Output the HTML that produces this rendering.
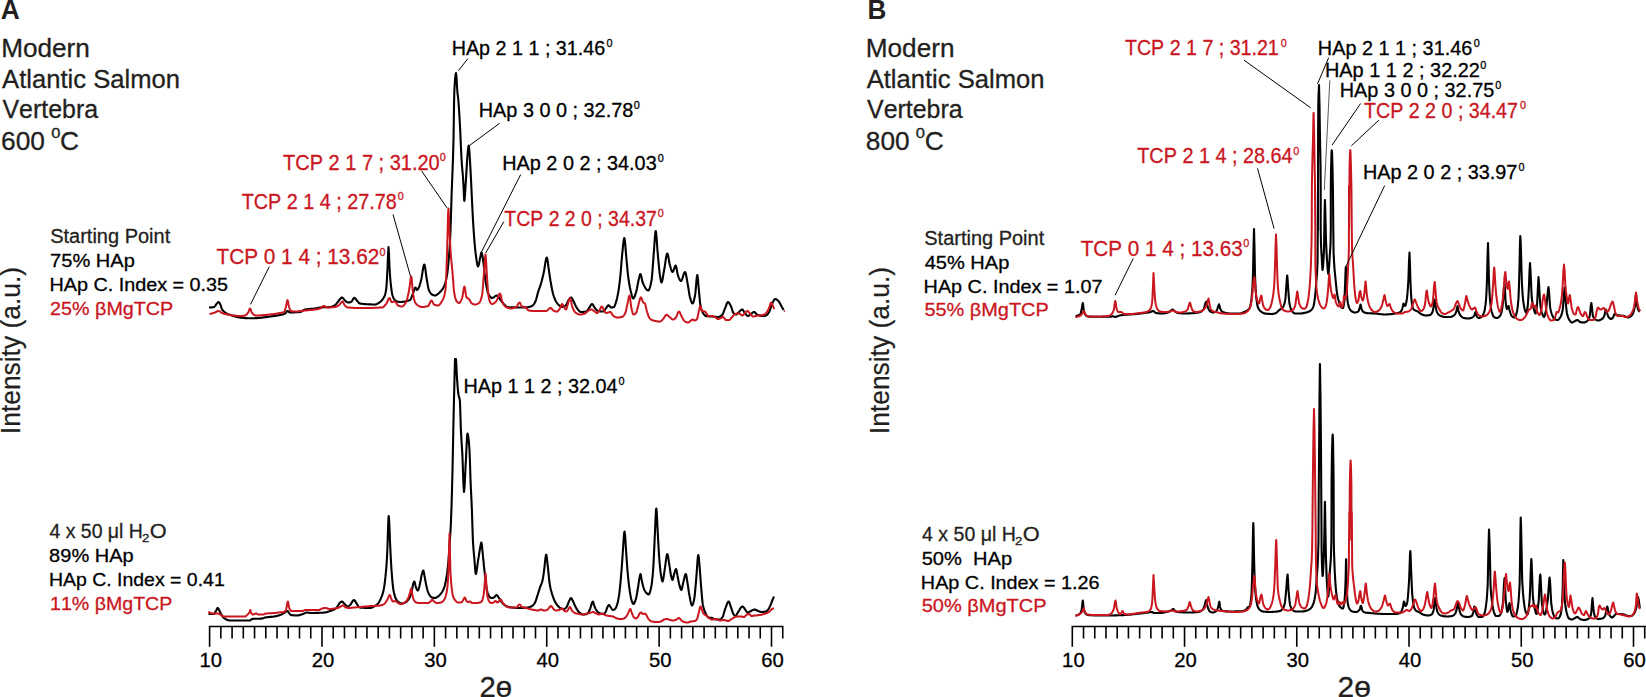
<!DOCTYPE html>
<html lang="en"><head><meta charset="utf-8"><title>XRD patterns - Modern Atlantic Salmon Vertebra</title>
<style>
html,body{margin:0;padding:0;background:#fff;overflow:hidden}
body{width:1646px;height:697px;position:relative}
svg text{font-family:'Liberation Sans', Arial, Helvetica, sans-serif;white-space:pre;font-kerning:none}
</style></head><body>
<svg width="1646" height="697" viewBox="0 0 1646 697" style="display:block;position:absolute;left:0;top:0">
<rect width="1646" height="697" fill="#fff"/>
<path d="M209.0,307.5 L209.5,307.5 L210.0,307.5 L210.5,307.5 L211.0,307.4 L211.5,307.4 L212.0,307.3 L212.5,307.3 L213.0,307.2 L213.5,307.1 L214.0,307.0 L214.5,306.7 L215.0,306.1 L215.5,305.4 L216.0,304.6 L216.5,304.0 L217.0,303.4 L217.5,302.7 L218.0,302.2 L218.5,302.0 L219.0,302.3 L219.5,302.9 L220.0,303.8 L220.3,304.5 L220.5,304.8 L221.0,306.4 L221.5,308.2 L221.8,309.0 L222.0,309.2 L222.5,310.0 L223.0,310.6 L223.5,311.2 L224.0,311.6 L224.5,312.1 L225.0,312.4 L225.5,312.8 L225.9,313.0 L226.0,313.1 L226.5,313.4 L227.0,313.6 L227.5,313.9 L228.0,314.1 L228.5,314.3 L229.0,314.5 L229.5,314.7 L230.0,314.9 L230.5,315.0 L231.0,315.2 L231.5,315.4 L231.9,315.5 L232.0,315.5 L232.5,315.7 L233.0,315.8 L233.5,316.0 L234.0,316.1 L234.5,316.3 L235.0,316.4 L235.5,316.6 L236.0,316.7 L236.5,316.8 L237.0,317.0 L237.5,317.1 L238.0,317.2 L238.5,317.3 L239.0,317.4 L239.5,317.4 L240.0,317.5 L240.0,317.5 L240.5,317.6 L241.0,317.6 L241.5,317.7 L242.0,317.7 L242.5,317.8 L243.0,317.9 L243.5,317.9 L244.0,318.0 L244.5,318.0 L245.0,318.1 L245.5,318.1 L246.0,318.1 L246.5,318.2 L247.0,318.2 L247.5,318.2 L248.0,318.3 L248.5,318.3 L249.0,318.3 L249.5,318.3 L250.0,318.3 L250.5,318.3 L251.0,318.3 L251.5,318.3 L252.0,318.3 L252.5,318.3 L253.0,318.2 L253.5,318.2 L254.0,318.2 L254.5,318.2 L255.0,318.2 L255.5,318.1 L256.0,318.1 L256.5,318.1 L257.0,318.1 L257.5,318.0 L258.0,318.0 L258.0,318.0 L258.5,318.0 L259.0,317.9 L259.5,317.9 L260.0,317.9 L260.5,317.8 L261.0,317.8 L261.5,317.7 L262.0,317.6 L262.5,317.6 L263.0,317.5 L263.5,317.4 L264.0,317.4 L264.5,317.3 L265.0,317.2 L265.5,317.2 L266.0,317.1 L266.5,317.0 L267.0,316.9 L267.5,316.9 L268.0,316.8 L268.5,316.7 L269.0,316.7 L269.5,316.6 L270.0,316.5 L270.1,316.5 L270.5,316.4 L271.0,316.4 L271.5,316.3 L272.0,316.3 L272.5,316.2 L273.0,316.1 L273.5,316.1 L274.0,316.0 L274.5,315.9 L275.0,315.9 L275.5,315.8 L276.0,315.7 L276.5,315.6 L277.0,315.6 L277.5,315.5 L278.0,315.4 L278.5,315.3 L279.0,315.2 L279.5,315.1 L280.0,315.0 L280.1,315.0 L280.5,314.9 L281.0,314.8 L281.5,314.7 L282.0,314.6 L282.5,314.5 L283.0,314.3 L283.5,314.2 L284.0,314.0 L284.5,313.8 L285.0,313.6 L285.1,313.5 L285.5,313.2 L286.0,312.6 L286.5,311.9 L287.0,311.2 L287.5,311.0 L288.0,311.2 L288.5,311.5 L289.0,312.0 L289.5,312.3 L290.0,312.5 L290.5,312.5 L291.0,312.5 L291.5,312.5 L292.0,312.5 L292.5,312.5 L293.0,312.5 L293.5,312.4 L294.0,312.4 L294.5,312.4 L295.0,312.4 L295.5,312.3 L296.0,312.3 L296.5,312.3 L297.0,312.3 L297.5,312.2 L298.0,312.2 L298.5,312.1 L299.0,312.1 L299.5,312.0 L300.0,312.0 L300.0,312.0 L300.5,311.9 L301.0,311.7 L301.5,311.5 L302.0,311.2 L302.5,310.8 L303.0,310.5 L303.5,310.2 L304.0,309.9 L304.5,309.7 L305.0,309.5 L305.1,309.5 L305.5,309.4 L306.0,309.4 L306.5,309.3 L307.0,309.2 L307.5,309.2 L308.0,309.1 L308.5,309.1 L309.0,309.0 L309.5,309.0 L310.0,309.0 L310.5,308.9 L311.0,308.9 L311.5,308.9 L312.0,308.8 L312.5,308.8 L313.0,308.7 L313.5,308.7 L314.0,308.6 L314.5,308.6 L315.0,308.5 L315.1,308.5 L315.5,308.4 L316.0,308.3 L316.5,308.2 L317.0,308.1 L317.5,308.0 L318.0,307.9 L318.5,307.8 L319.0,307.7 L319.5,307.6 L320.0,307.5 L320.1,307.5 L320.5,307.5 L321.0,307.4 L321.5,307.4 L322.0,307.4 L322.5,307.4 L323.0,307.3 L323.5,307.3 L324.0,307.3 L324.5,307.3 L325.0,307.3 L325.5,307.3 L326.0,307.2 L326.5,307.2 L327.0,307.2 L327.5,307.2 L328.0,307.2 L328.5,307.1 L329.0,307.1 L329.5,307.1 L330.0,307.0 L330.1,307.0 L330.5,307.0 L331.0,306.9 L331.5,306.7 L332.0,306.6 L332.5,306.4 L333.0,306.2 L333.5,305.9 L334.0,305.7 L334.5,305.4 L335.0,305.1 L335.1,305.0 L335.5,304.7 L336.0,304.2 L336.5,303.6 L337.0,303.0 L337.5,302.3 L338.0,301.7 L338.1,301.5 L338.5,301.1 L339.0,300.4 L339.5,299.7 L340.0,299.1 L340.5,298.5 L341.0,298.0 L341.5,297.6 L342.0,297.5 L342.5,297.7 L343.0,298.1 L343.5,298.7 L344.0,299.4 L344.5,300.0 L345.0,300.5 L345.5,300.9 L346.0,301.4 L346.5,301.8 L347.0,302.2 L347.5,302.4 L348.0,302.5 L348.5,302.5 L349.0,302.4 L349.5,302.4 L350.0,302.3 L350.5,302.1 L351.0,302.0 L351.5,301.6 L352.0,300.9 L352.5,300.1 L353.0,299.2 L353.5,298.4 L354.0,297.9 L354.3,297.8 L354.5,297.8 L355.0,298.2 L355.5,298.7 L356.0,299.4 L356.5,300.1 L356.9,300.5 L357.0,300.7 L357.5,301.2 L358.0,301.9 L358.5,302.5 L359.0,303.0 L359.5,303.3 L359.9,303.5 L360.0,303.5 L360.5,303.6 L361.0,303.7 L361.5,303.7 L362.0,303.8 L362.5,303.8 L363.0,303.9 L363.5,304.0 L364.0,304.0 L364.5,304.1 L365.0,304.1 L365.5,304.1 L366.0,304.2 L366.5,304.2 L367.0,304.3 L367.5,304.3 L368.0,304.3 L368.5,304.3 L369.0,304.4 L369.5,304.4 L370.0,304.4 L370.5,304.4 L371.0,304.4 L371.5,304.5 L372.0,304.5 L372.5,304.5 L373.0,304.5 L373.5,304.5 L374.0,304.5 L374.5,304.5 L375.0,304.5 L375.5,304.5 L376.0,304.4 L376.5,304.2 L377.0,304.0 L377.5,303.7 L378.0,303.4 L378.5,303.1 L379.0,302.7 L379.5,302.4 L380.0,302.0 L380.0,302.0 L380.5,301.6 L381.0,301.2 L381.5,300.7 L382.0,300.1 L382.5,299.5 L383.0,298.8 L383.5,298.0 L384.0,297.1 L384.1,297.0 L384.5,296.1 L385.0,294.8 L385.5,293.0 L386.0,290.6 L386.1,290.0 L386.5,286.2 L387.0,278.2 L387.4,270.0 L387.5,269.0 L388.0,255.4 L388.5,247.0 L389.0,254.4 L389.5,267.2 L389.7,270.0 L390.0,275.1 L390.5,281.5 L390.9,285.0 L391.0,286.1 L391.5,289.8 L392.0,293.0 L392.5,295.5 L393.0,297.0 L393.0,297.1 L393.5,298.1 L394.0,299.0 L394.5,299.7 L395.0,300.3 L395.5,300.7 L396.0,301.0 L396.0,301.0 L396.5,301.2 L397.0,301.4 L397.5,301.6 L398.0,301.7 L398.5,301.8 L399.0,301.9 L399.5,302.0 L400.0,302.0 L400.5,302.0 L401.0,302.0 L401.5,302.0 L402.0,301.9 L402.5,301.9 L403.0,301.8 L403.5,301.8 L404.0,301.7 L404.5,301.6 L405.0,301.5 L405.5,301.4 L406.0,301.3 L406.5,301.2 L407.0,301.1 L407.5,300.9 L408.0,300.8 L408.5,300.6 L409.0,300.4 L409.5,300.2 L410.0,300.0 L410.1,300.0 L410.5,299.6 L411.0,298.7 L411.5,297.5 L412.0,296.1 L412.5,294.7 L413.0,293.4 L413.1,293.0 L413.5,292.1 L414.0,290.6 L414.5,289.1 L415.0,287.9 L415.5,287.5 L416.0,288.1 L416.5,289.4 L417.0,290.0 L417.5,289.7 L418.0,289.1 L418.5,288.1 L419.0,287.1 L419.1,287.0 L419.5,285.9 L420.0,284.3 L420.5,282.5 L421.0,280.6 L421.1,280.0 L421.5,278.4 L422.0,275.4 L422.5,272.2 L423.0,269.0 L423.5,266.4 L424.0,264.8 L424.3,264.5 L424.5,264.7 L425.0,266.6 L425.5,270.0 L426.0,274.0 L426.5,277.8 L426.9,280.0 L427.0,280.8 L427.5,283.6 L428.0,286.4 L428.5,288.7 L428.9,290.0 L429.0,290.2 L429.5,291.3 L430.0,292.2 L430.5,293.0 L431.0,293.7 L431.5,294.2 L432.0,294.5 L432.0,294.5 L432.5,294.8 L433.0,295.0 L433.5,295.2 L434.0,295.4 L434.5,295.5 L435.0,295.5 L435.5,295.4 L436.0,295.3 L436.5,295.0 L437.0,294.7 L437.5,294.3 L438.0,293.9 L438.5,293.5 L439.0,293.0 L439.5,292.5 L440.0,292.0 L440.0,292.0 L440.5,291.5 L441.0,291.0 L441.5,290.4 L442.0,289.8 L442.5,289.1 L443.0,288.4 L443.5,287.5 L444.0,286.5 L444.0,286.5 L444.5,285.4 L445.0,283.9 L445.5,282.2 L446.0,280.2 L446.5,277.9 L447.0,275.2 L447.0,275.0 L447.5,271.8 L448.0,267.2 L448.5,261.8 L449.0,255.9 L449.1,255.0 L449.5,249.6 L450.0,241.7 L450.1,240.0 L450.5,230.1 L451.0,214.3 L451.5,198.0 L451.6,195.0 L452.0,184.1 L452.5,171.5 L453.0,157.7 L453.5,140.0 L454.0,106.7 L454.3,92.0 L454.5,88.1 L455.0,80.0 L455.5,74.8 L456.0,73.0 L456.5,77.3 L457.0,86.1 L457.4,92.0 L457.5,93.0 L458.0,97.2 L458.3,100.0 L458.5,102.3 L459.0,109.2 L459.5,117.2 L459.9,125.0 L460.0,126.0 L460.5,136.8 L461.0,148.7 L461.5,159.0 L461.6,160.0 L462.0,166.0 L462.5,171.6 L463.0,177.3 L463.3,182.0 L463.5,185.2 L464.0,197.6 L464.3,201.0 L464.5,200.4 L465.0,194.7 L465.5,186.8 L465.6,185.0 L466.0,179.1 L466.5,170.1 L467.0,161.9 L467.1,160.0 L467.5,155.6 L468.0,149.6 L468.5,145.9 L468.7,145.5 L469.0,146.6 L469.5,152.5 L470.0,161.1 L470.5,170.0 L471.0,179.5 L471.5,190.3 L472.0,200.8 L472.0,201.0 L472.5,210.8 L473.0,220.4 L473.5,228.0 L473.5,228.5 L474.0,235.4 L474.5,241.8 L475.0,247.5 L475.5,252.3 L476.0,256.0 L476.0,256.3 L476.5,259.8 L477.0,263.1 L477.5,265.6 L478.0,266.5 L478.5,265.7 L479.0,263.7 L479.5,261.1 L480.0,258.6 L480.1,258.0 L480.5,256.3 L481.0,253.7 L481.5,252.5 L482.0,253.6 L482.5,256.2 L483.0,259.6 L483.4,262.0 L483.5,263.1 L484.0,267.5 L484.5,272.6 L485.0,277.4 L485.4,280.0 L485.5,280.9 L486.0,283.9 L486.5,286.6 L487.0,289.1 L487.5,291.2 L488.0,292.9 L488.5,294.0 L488.5,294.1 L489.0,295.0 L489.5,295.8 L490.0,296.5 L490.5,297.1 L491.0,297.6 L491.5,297.9 L492.0,298.0 L492.5,297.9 L493.0,297.7 L493.5,297.5 L494.0,297.1 L494.5,296.8 L495.0,296.4 L495.5,296.0 L496.0,295.8 L496.5,295.6 L497.0,295.5 L497.5,295.7 L498.0,296.2 L498.5,296.9 L499.0,297.7 L499.5,298.5 L499.9,299.0 L500.0,299.2 L500.5,299.9 L501.0,300.6 L501.5,301.3 L502.0,302.0 L502.5,302.6 L502.9,303.0 L503.0,303.2 L503.5,303.7 L504.0,304.2 L504.5,304.8 L505.0,305.3 L505.5,305.8 L506.0,306.3 L506.5,306.6 L507.0,306.9 L507.5,307.1 L508.0,307.2 L508.0,307.2 L508.5,307.2 L509.0,307.2 L509.5,307.3 L510.0,307.3 L510.5,307.3 L511.0,307.3 L511.5,307.3 L512.0,307.3 L512.5,307.4 L513.0,307.4 L513.5,307.4 L514.0,307.4 L514.5,307.4 L515.0,307.4 L515.5,307.4 L516.0,307.4 L516.5,307.4 L517.0,307.4 L517.5,307.5 L518.0,307.5 L518.5,307.5 L519.0,307.5 L519.5,307.5 L520.0,307.5 L520.5,307.5 L521.0,307.5 L521.5,307.5 L522.0,307.5 L522.5,307.5 L523.0,307.5 L523.5,307.5 L524.0,307.5 L524.5,307.5 L525.0,307.5 L525.5,307.5 L526.0,307.5 L526.5,307.4 L527.0,307.4 L527.5,307.3 L528.0,307.2 L528.5,307.1 L529.0,307.0 L529.5,306.9 L530.0,306.7 L530.5,306.6 L531.0,306.4 L531.5,306.2 L532.0,306.0 L532.0,306.0 L532.5,305.7 L533.0,305.3 L533.5,304.7 L534.0,304.0 L534.5,303.2 L535.0,302.3 L535.2,301.8 L535.5,301.3 L536.0,299.8 L536.5,298.1 L537.0,296.2 L537.5,294.2 L538.0,292.4 L538.1,292.0 L538.5,290.9 L539.0,289.4 L539.5,288.0 L540.0,286.6 L540.5,285.1 L541.0,283.5 L541.1,283.0 L541.5,281.8 L542.0,279.9 L542.5,277.9 L543.0,275.8 L543.5,273.7 L543.6,273.0 L544.0,271.3 L544.5,268.2 L545.0,265.0 L545.5,261.9 L546.0,259.3 L546.5,257.8 L546.8,257.5 L547.0,257.7 L547.5,259.9 L548.0,263.5 L548.5,267.5 L548.9,270.0 L549.0,271.0 L549.5,274.3 L550.0,277.7 L550.5,281.0 L550.9,283.0 L551.0,283.8 L551.5,286.5 L552.0,289.2 L552.5,291.5 L553.0,293.6 L553.4,295.0 L553.5,295.3 L554.0,296.8 L554.5,298.1 L555.0,299.4 L555.5,300.5 L556.0,301.5 L556.5,302.3 L557.0,303.0 L557.0,303.0 L557.5,303.7 L558.0,304.3 L558.5,304.8 L559.0,305.3 L559.5,305.7 L560.0,306.0 L560.0,306.0 L560.5,306.3 L561.0,306.5 L561.5,306.7 L562.0,306.9 L562.5,307.0 L563.0,307.0 L563.5,306.9 L564.0,306.7 L564.5,306.4 L565.0,306.0 L565.5,305.6 L566.0,305.1 L566.1,305.0 L566.5,304.4 L567.0,303.5 L567.5,302.3 L568.0,301.2 L568.5,300.2 L568.6,300.0 L569.0,299.5 L569.5,298.8 L570.0,298.1 L570.5,297.7 L571.0,297.5 L571.5,297.7 L572.0,298.4 L572.5,299.3 L573.0,300.3 L573.5,301.3 L573.9,302.0 L574.0,302.3 L574.5,303.3 L575.0,304.4 L575.5,305.5 L576.0,306.5 L576.5,307.4 L576.9,308.0 L577.0,308.2 L577.5,308.8 L578.0,309.5 L578.5,310.2 L579.0,310.7 L579.5,311.3 L580.0,311.7 L580.5,311.9 L581.0,312.0 L581.5,312.0 L582.0,312.0 L582.5,312.0 L583.0,311.9 L583.5,311.9 L584.0,311.8 L584.5,311.8 L585.0,311.7 L585.5,311.6 L586.0,311.5 L586.0,311.5 L586.5,311.3 L587.0,310.9 L587.5,310.3 L588.0,309.6 L588.5,308.9 L589.0,308.2 L589.1,308.0 L589.5,307.5 L590.0,306.6 L590.5,305.7 L591.0,304.8 L591.5,304.2 L592.0,304.0 L592.5,304.2 L593.0,304.9 L593.5,305.7 L594.0,306.7 L594.5,307.5 L594.9,308.0 L595.0,308.2 L595.5,308.8 L596.0,309.4 L596.5,310.0 L597.0,310.5 L597.5,310.8 L598.0,311.0 L598.0,311.0 L598.5,311.1 L599.0,311.2 L599.5,311.3 L600.0,311.3 L600.5,311.4 L601.0,311.4 L601.5,311.5 L602.0,311.5 L602.5,311.5 L603.0,311.5 L603.5,311.3 L604.0,310.9 L604.5,310.3 L605.0,309.6 L605.5,308.8 L606.0,308.2 L606.1,308.0 L606.5,307.6 L607.0,306.8 L607.5,306.1 L608.0,305.5 L608.5,305.3 L609.0,305.5 L609.5,306.1 L610.0,306.7 L610.5,307.3 L611.0,307.5 L611.5,307.5 L612.0,307.4 L612.5,307.4 L613.0,307.3 L613.5,307.2 L614.0,307.0 L614.0,307.0 L614.5,306.4 L615.0,305.3 L615.5,303.7 L616.0,302.1 L616.0,302.0 L616.5,300.4 L617.0,298.4 L617.5,296.1 L618.0,293.5 L618.1,293.0 L618.5,290.6 L619.0,287.3 L619.5,283.5 L620.0,279.3 L620.1,278.0 L620.5,274.5 L621.0,268.5 L621.5,262.1 L622.0,256.4 L622.1,255.0 L622.5,251.4 L623.0,246.1 L623.5,241.5 L624.0,238.6 L624.3,238.0 L624.5,238.4 L625.0,241.9 L625.5,247.7 L626.0,254.1 L626.4,258.0 L626.5,259.5 L627.0,264.9 L627.5,270.3 L628.0,275.1 L628.4,278.0 L628.5,279.0 L629.0,282.3 L629.5,285.2 L630.0,287.9 L630.5,290.2 L631.0,292.0 L631.0,292.2 L631.5,294.1 L632.0,296.0 L632.5,297.6 L633.0,298.4 L633.2,298.5 L633.5,298.4 L634.0,297.8 L634.5,296.8 L635.0,295.4 L635.5,293.9 L636.0,292.3 L636.1,292.0 L636.5,290.6 L637.0,288.3 L637.5,285.6 L638.0,283.0 L638.5,280.6 L638.6,280.0 L639.0,278.5 L639.5,276.2 L640.0,274.5 L640.4,274.0 L640.5,274.0 L641.0,275.1 L641.5,277.2 L642.0,279.7 L642.5,282.0 L642.9,283.0 L643.0,283.3 L643.5,284.4 L644.0,285.4 L644.5,286.4 L645.0,287.3 L645.5,288.1 L646.0,288.8 L646.5,289.4 L647.0,289.9 L647.5,290.3 L648.0,290.5 L648.3,290.5 L648.5,290.4 L649.0,289.9 L649.5,288.8 L650.0,287.2 L650.5,285.2 L651.0,282.9 L651.5,280.4 L651.6,280.0 L652.0,276.7 L652.5,270.7 L653.0,263.7 L653.5,256.9 L653.6,255.0 L654.0,250.3 L654.5,242.6 L655.0,235.6 L655.5,231.4 L655.7,231.0 L656.0,231.9 L656.5,236.6 L657.0,243.5 L657.5,250.8 L657.9,255.0 L658.0,256.6 L658.5,261.9 L659.0,267.1 L659.5,271.8 L659.9,275.0 L660.0,275.4 L660.5,278.7 L661.0,281.4 L661.5,282.5 L662.0,281.7 L662.5,279.7 L663.0,276.8 L663.5,273.7 L664.0,270.8 L664.1,270.0 L664.5,268.1 L665.0,264.8 L665.5,261.3 L666.0,258.0 L666.5,255.4 L667.0,253.8 L667.3,253.5 L667.5,253.7 L668.0,255.2 L668.5,257.7 L669.0,260.8 L669.5,263.5 L669.9,265.0 L670.0,265.5 L670.5,267.3 L671.0,269.0 L671.5,270.5 L672.0,271.6 L672.5,272.0 L673.0,271.6 L673.5,270.5 L674.0,269.1 L674.5,267.6 L675.0,266.3 L675.5,265.6 L675.7,265.5 L676.0,265.9 L676.5,268.0 L677.0,270.9 L677.5,273.7 L677.9,275.0 L678.0,275.4 L678.5,276.8 L679.0,278.1 L679.5,279.2 L680.0,280.2 L680.5,280.8 L681.0,281.0 L681.5,280.6 L682.0,279.6 L682.5,278.2 L683.0,276.5 L683.5,274.8 L684.0,273.4 L684.5,272.4 L685.0,272.0 L685.5,272.7 L686.0,274.5 L686.5,277.1 L687.0,280.1 L687.5,283.1 L687.9,285.0 L688.0,285.8 L688.5,288.9 L689.0,292.2 L689.5,295.2 L689.9,297.0 L690.0,297.3 L690.5,299.1 L691.0,300.8 L691.5,302.2 L692.0,303.1 L692.5,303.5 L693.0,303.1 L693.5,301.9 L694.0,300.1 L694.5,298.0 L695.0,295.6 L695.1,295.0 L695.5,292.2 L696.0,286.4 L696.5,280.2 L697.0,275.9 L697.3,275.0 L697.5,275.5 L698.0,279.7 L698.5,286.0 L698.9,290.0 L699.0,291.5 L699.5,297.1 L700.0,302.3 L700.4,305.0 L700.5,305.6 L701.0,307.8 L701.5,309.6 L702.0,311.0 L702.5,312.2 L703.0,313.0 L703.0,313.1 L703.5,313.8 L704.0,314.5 L704.5,315.0 L705.0,315.5 L705.5,315.8 L706.0,316.0 L706.0,316.0 L706.5,316.1 L707.0,316.1 L707.5,316.2 L708.0,316.2 L708.5,316.3 L709.0,316.3 L709.5,316.3 L710.0,316.4 L710.5,316.4 L711.0,316.4 L711.5,316.5 L712.0,316.5 L712.0,316.5 L712.5,316.5 L713.0,316.6 L713.5,316.6 L714.0,316.7 L714.5,316.8 L715.0,316.8 L715.5,316.9 L716.0,316.9 L716.5,316.9 L717.0,317.0 L717.5,317.0 L718.0,317.0 L718.5,317.0 L719.0,316.9 L719.5,316.7 L720.0,316.4 L720.5,316.2 L721.0,315.8 L721.5,315.4 L722.0,315.0 L722.1,315.0 L722.5,314.5 L723.0,313.5 L723.5,312.3 L724.0,310.9 L724.5,309.6 L725.0,308.3 L725.1,308.0 L725.5,307.2 L726.0,305.8 L726.5,304.4 L727.0,303.2 L727.5,302.3 L728.0,302.0 L728.5,302.2 L729.0,302.7 L729.5,303.5 L730.0,304.4 L730.5,305.3 L730.9,306.0 L731.0,306.3 L731.5,307.7 L732.0,309.3 L732.5,310.9 L733.0,312.3 L733.4,313.0 L733.5,313.0 L734.0,313.5 L734.5,313.9 L735.0,314.2 L735.5,314.4 L736.0,314.5 L736.5,314.4 L737.0,314.0 L737.5,313.6 L738.0,313.0 L738.5,312.5 L739.0,312.0 L739.5,311.5 L740.0,311.0 L740.5,310.5 L741.0,310.1 L741.5,309.7 L742.0,309.5 L742.2,309.5 L742.5,309.6 L743.0,310.1 L743.5,310.8 L744.0,311.7 L744.5,312.5 L744.9,313.0 L745.0,313.2 L745.5,313.8 L746.0,314.4 L746.5,315.0 L747.0,315.5 L747.5,315.9 L748.0,316.0 L748.5,315.9 L749.0,315.6 L749.5,315.2 L750.0,314.8 L750.5,314.4 L751.0,314.0 L751.5,313.6 L752.0,313.2 L752.5,312.8 L753.0,312.4 L753.5,312.1 L754.0,312.0 L754.5,312.2 L755.0,312.5 L755.5,313.1 L756.0,313.6 L756.5,314.2 L757.0,314.5 L757.5,314.7 L758.0,314.9 L758.5,315.2 L759.0,315.4 L759.5,315.5 L760.0,315.7 L760.5,315.8 L761.0,315.9 L761.5,316.0 L762.0,316.0 L762.5,316.0 L763.0,316.0 L763.5,315.9 L764.0,315.9 L764.5,315.8 L765.0,315.7 L765.5,315.6 L766.0,315.5 L766.0,315.5 L766.5,315.3 L767.0,314.9 L767.5,314.4 L768.0,313.7 L768.5,313.0 L769.0,312.2 L769.1,312.0 L769.5,311.2 L770.0,309.8 L770.5,308.3 L771.0,306.7 L771.5,305.3 L771.6,305.0 L772.0,304.2 L772.5,303.1 L773.0,302.0 L773.5,300.9 L774.0,300.0 L774.5,299.4 L775.0,299.0 L775.2,299.0 L775.5,299.0 L776.0,299.2 L776.5,299.4 L777.0,299.8 L777.5,300.2 L778.0,300.7 L778.4,301.0 L778.5,301.1 L779.0,301.8 L779.5,302.6 L780.0,303.5 L780.5,304.4 L781.0,305.4 L781.4,306.0 L781.5,306.3 L782.0,307.2 L782.5,308.1 L783.0,309.0 L783.5,310.0" fill="none" stroke="#000" stroke-width="2.1" stroke-linejoin="round" stroke-linecap="butt"/>
<path d="M209.5,314.0 L210.0,313.9 L210.5,313.8 L211.0,313.7 L211.5,313.6 L212.0,313.4 L212.5,313.3 L213.0,313.1 L213.5,313.0 L214.0,312.8 L214.5,312.7 L215.0,312.5 L215.5,312.3 L216.0,312.0 L216.5,311.7 L217.0,311.5 L217.5,311.2 L218.0,311.1 L218.5,311.0 L219.0,311.1 L219.5,311.3 L220.0,311.7 L220.5,312.0 L221.0,312.4 L221.5,312.8 L222.0,313.0 L222.5,313.2 L223.0,313.4 L223.5,313.5 L224.0,313.7 L224.5,313.8 L225.0,314.0 L225.5,314.1 L226.0,314.2 L226.5,314.3 L227.0,314.5 L227.5,314.6 L228.0,314.7 L228.5,314.8 L229.0,314.8 L229.5,314.9 L230.0,315.0 L230.5,315.1 L231.0,315.1 L231.5,315.2 L232.0,315.3 L232.5,315.4 L233.0,315.4 L233.5,315.5 L234.0,315.6 L234.5,315.6 L235.0,315.7 L235.5,315.7 L236.0,315.8 L236.5,315.8 L237.0,315.9 L237.5,315.9 L238.0,315.9 L238.5,316.0 L239.0,316.0 L239.5,316.0 L240.0,316.0 L240.5,316.0 L241.0,316.0 L241.5,316.0 L242.0,315.9 L242.5,315.9 L243.0,315.8 L243.5,315.8 L244.0,315.7 L244.5,315.6 L245.0,315.5 L245.0,315.5 L245.5,315.3 L246.0,315.0 L246.5,314.6 L247.0,314.0 L247.5,313.4 L248.0,312.7 L248.2,312.5 L248.5,311.8 L249.0,310.4 L249.5,309.1 L250.0,308.5 L250.5,309.1 L251.0,310.4 L251.5,311.8 L251.8,312.5 L252.0,312.7 L252.5,313.4 L253.0,314.0 L253.5,314.5 L254.0,314.8 L254.0,314.8 L254.5,315.1 L255.0,315.3 L255.5,315.4 L256.0,315.5 L256.5,315.5 L257.0,315.5 L257.5,315.5 L258.0,315.5 L258.5,315.5 L259.0,315.4 L259.5,315.4 L260.0,315.4 L260.5,315.4 L261.0,315.3 L261.5,315.3 L262.0,315.3 L262.5,315.2 L263.0,315.2 L263.5,315.1 L264.0,315.1 L264.5,315.0 L265.0,315.0 L265.5,314.9 L266.0,314.9 L266.5,314.9 L267.0,314.8 L267.5,314.8 L268.0,314.7 L268.5,314.7 L269.0,314.6 L269.5,314.6 L270.0,314.5 L270.0,314.5 L270.5,314.5 L271.0,314.4 L271.5,314.3 L272.0,314.3 L272.5,314.2 L273.0,314.2 L273.5,314.1 L274.0,314.0 L274.5,314.0 L275.0,313.9 L275.5,313.8 L276.0,313.7 L276.5,313.6 L277.0,313.6 L277.5,313.5 L278.0,313.4 L278.5,313.3 L279.0,313.2 L279.5,313.1 L280.0,313.0 L280.1,313.0 L280.5,312.9 L281.0,312.8 L281.5,312.8 L282.0,312.7 L282.5,312.6 L283.0,312.4 L283.5,312.3 L284.0,312.0 L284.1,312.0 L284.5,311.5 L285.0,310.2 L285.5,308.4 L286.0,306.5 L286.1,306.0 L286.5,304.3 L287.0,301.4 L287.5,300.0 L288.0,301.5 L288.5,304.4 L288.9,306.0 L289.0,306.5 L289.5,308.1 L290.0,309.5 L290.5,310.5 L291.0,311.0 L291.0,311.0 L291.5,311.1 L292.0,311.2 L292.5,311.3 L293.0,311.4 L293.5,311.4 L294.0,311.5 L294.5,311.5 L295.0,311.5 L295.5,311.5 L296.0,311.5 L296.5,311.5 L297.0,311.4 L297.5,311.4 L298.0,311.3 L298.5,311.3 L299.0,311.2 L299.5,311.2 L300.0,311.1 L300.5,311.1 L301.0,311.0 L301.5,310.9 L302.0,310.9 L302.5,310.8 L303.0,310.7 L303.5,310.7 L304.0,310.6 L304.5,310.6 L305.0,310.5 L305.5,310.5 L306.0,310.4 L306.5,310.4 L307.0,310.3 L307.5,310.3 L308.0,310.2 L308.5,310.2 L309.0,310.1 L309.5,310.1 L310.0,310.0 L310.5,310.0 L311.0,310.0 L311.5,309.9 L312.0,309.9 L312.5,309.8 L313.0,309.7 L313.5,309.7 L314.0,309.6 L314.5,309.6 L315.0,309.5 L315.5,309.4 L316.0,309.4 L316.5,309.3 L317.0,309.2 L317.5,309.1 L318.0,309.0 L318.5,308.9 L319.0,308.8 L319.5,308.6 L320.0,308.5 L320.5,308.3 L321.0,307.9 L321.5,307.5 L322.0,307.1 L322.5,306.7 L323.0,306.3 L323.5,306.1 L324.0,306.0 L324.5,306.1 L325.0,306.4 L325.5,306.8 L326.0,307.1 L326.5,307.4 L327.0,307.5 L327.5,307.5 L328.0,307.5 L328.5,307.5 L329.0,307.5 L329.5,307.4 L330.0,307.4 L330.5,307.4 L331.0,307.4 L331.5,307.3 L332.0,307.3 L332.5,307.3 L333.0,307.2 L333.5,307.2 L334.0,307.1 L334.5,307.1 L335.0,307.0 L335.0,307.0 L335.5,306.9 L336.0,306.8 L336.5,306.6 L337.0,306.3 L337.5,306.1 L338.0,305.8 L338.5,305.4 L339.0,305.1 L339.1,305.0 L339.5,304.7 L340.0,304.1 L340.5,303.4 L341.0,302.7 L341.5,302.1 L342.0,301.7 L342.5,301.5 L343.0,301.9 L343.5,302.8 L344.0,304.0 L344.5,305.0 L344.9,305.5 L345.0,305.6 L345.5,306.1 L346.0,306.5 L346.5,306.9 L347.0,307.2 L347.5,307.4 L348.0,307.5 L348.0,307.5 L348.5,307.5 L349.0,307.6 L349.5,307.6 L350.0,307.7 L350.5,307.7 L351.0,307.7 L351.5,307.8 L352.0,307.8 L352.5,307.8 L353.0,307.8 L353.5,307.9 L354.0,307.9 L354.5,307.9 L355.0,307.9 L355.5,307.9 L356.0,308.0 L356.5,308.0 L357.0,308.0 L357.5,308.0 L358.0,308.0 L358.5,308.0 L359.0,308.0 L359.5,308.0 L360.0,308.0 L360.5,308.0 L361.0,308.0 L361.5,308.0 L362.0,308.0 L362.5,308.0 L363.0,308.0 L363.5,308.0 L364.0,308.0 L364.5,308.0 L365.0,308.0 L365.5,308.0 L366.0,308.0 L366.5,308.0 L367.0,308.0 L367.5,308.0 L368.0,308.0 L368.5,307.9 L369.0,307.9 L369.5,307.9 L370.0,307.9 L370.5,307.9 L371.0,307.9 L371.5,307.9 L372.0,307.9 L372.5,307.9 L373.0,307.9 L373.5,307.8 L374.0,307.8 L374.5,307.8 L375.0,307.8 L375.5,307.8 L376.0,307.8 L376.5,307.8 L377.0,307.7 L377.5,307.7 L378.0,307.7 L378.5,307.7 L379.0,307.7 L379.5,307.6 L380.0,307.6 L380.5,307.6 L381.0,307.6 L381.5,307.5 L382.0,307.5 L382.0,307.5 L382.5,307.4 L383.0,307.2 L383.5,306.8 L384.0,306.4 L384.5,305.9 L385.0,305.3 L385.5,304.8 L386.0,304.2 L386.1,304.0 L386.5,303.5 L387.0,302.5 L387.5,301.3 L388.0,300.1 L388.5,299.0 L389.0,298.3 L389.5,298.0 L390.0,298.6 L390.5,300.0 L391.0,301.4 L391.5,302.0 L392.0,302.0 L392.5,301.9 L393.0,301.8 L393.5,301.7 L394.0,301.6 L394.5,301.5 L395.0,301.5 L395.5,301.8 L396.0,302.4 L396.5,303.3 L397.0,304.3 L397.5,305.1 L398.0,305.5 L398.5,305.7 L399.0,305.9 L399.5,306.1 L400.0,306.2 L400.5,306.3 L401.0,306.4 L401.5,306.5 L402.0,306.5 L402.5,306.4 L403.0,306.1 L403.5,305.7 L404.0,305.2 L404.5,304.5 L405.0,303.8 L405.5,303.0 L406.0,302.1 L406.1,302.0 L406.5,301.0 L407.0,299.5 L407.5,297.6 L408.0,295.5 L408.5,293.2 L409.0,290.7 L409.1,290.0 L409.5,287.8 L410.0,283.8 L410.5,279.8 L411.0,277.0 L411.3,276.5 L411.5,277.1 L412.0,282.0 L412.5,288.6 L412.9,292.0 L413.0,293.0 L413.5,296.1 L414.0,298.8 L414.5,300.8 L414.9,302.0 L415.0,302.1 L415.5,303.0 L416.0,303.7 L416.5,304.3 L417.0,304.8 L417.5,305.2 L418.0,305.5 L418.0,305.5 L418.5,305.8 L419.0,306.1 L419.5,306.3 L420.0,306.5 L420.5,306.7 L421.0,306.9 L421.5,307.0 L422.0,307.0 L422.5,307.0 L423.0,307.0 L423.5,306.9 L424.0,306.9 L424.5,306.8 L425.0,306.8 L425.5,306.7 L426.0,306.6 L426.5,306.4 L427.0,306.3 L427.5,306.2 L428.0,306.0 L428.1,306.0 L428.5,305.7 L429.0,304.8 L429.5,303.8 L430.0,302.6 L430.5,301.6 L431.0,300.8 L431.5,300.5 L432.0,300.9 L432.5,301.8 L433.0,302.9 L433.5,303.9 L434.0,304.5 L434.5,304.7 L435.0,304.9 L435.5,305.1 L436.0,305.2 L436.5,305.3 L437.0,305.4 L437.5,305.5 L438.0,305.5 L438.5,305.4 L439.0,305.1 L439.5,304.7 L440.0,304.1 L440.5,303.4 L441.0,302.7 L441.5,301.9 L442.0,301.0 L442.0,301.0 L442.5,300.2 L443.0,299.2 L443.5,298.1 L444.0,296.7 L444.5,294.9 L445.0,292.6 L445.5,290.0 L445.5,289.8 L446.0,282.0 L446.5,268.7 L447.0,253.7 L447.1,250.0 L447.5,236.3 L448.0,215.8 L448.4,208.5 L448.5,208.9 L449.0,218.7 L449.5,232.5 L449.6,235.0 L450.0,241.9 L450.5,250.1 L450.9,255.0 L451.0,256.9 L451.5,262.3 L452.0,267.2 L452.5,272.0 L452.5,272.5 L453.0,278.9 L453.5,285.6 L454.0,291.1 L454.3,293.0 L454.5,294.3 L455.0,296.7 L455.5,298.6 L456.0,300.1 L456.5,301.0 L456.5,301.0 L457.0,301.6 L457.5,302.2 L458.0,302.6 L458.5,302.9 L459.0,303.0 L459.5,302.8 L460.0,302.3 L460.5,301.6 L461.0,300.6 L461.5,299.5 L462.0,298.3 L462.1,298.0 L462.5,296.6 L463.0,293.6 L463.5,290.3 L464.0,287.6 L464.5,286.5 L465.0,288.2 L465.5,292.0 L466.0,295.7 L466.4,297.0 L466.5,297.2 L467.0,297.7 L467.5,298.1 L468.0,298.4 L468.5,298.7 L468.9,299.0 L469.0,299.1 L469.5,299.8 L470.0,300.7 L470.5,301.6 L471.0,302.4 L471.5,303.1 L472.0,303.5 L472.0,303.5 L472.5,303.8 L473.0,304.0 L473.5,304.2 L474.0,304.4 L474.5,304.5 L475.0,304.5 L475.5,304.5 L476.0,304.4 L476.5,304.3 L477.0,304.1 L477.5,303.9 L478.0,303.6 L478.5,303.3 L479.0,303.0 L479.0,303.0 L479.5,302.5 L480.0,301.7 L480.5,300.6 L481.0,299.1 L481.5,297.4 L482.0,295.4 L482.1,295.0 L482.5,291.9 L483.0,286.0 L483.5,278.8 L484.0,271.8 L484.1,270.0 L484.5,265.2 L485.0,257.9 L485.5,254.5 L486.0,259.2 L486.5,268.9 L486.9,275.0 L487.0,277.1 L487.5,284.5 L488.0,291.1 L488.4,295.0 L488.5,295.5 L489.0,298.5 L489.5,300.7 L490.0,302.0 L490.0,302.0 L490.5,302.8 L491.0,303.4 L491.5,303.8 L492.0,304.0 L492.5,303.9 L493.0,303.8 L493.5,303.6 L494.0,303.3 L494.5,302.9 L495.0,302.5 L495.5,302.1 L496.0,301.6 L496.1,301.5 L496.5,301.0 L497.0,299.9 L497.5,298.6 L498.0,297.2 L498.5,295.8 L499.0,294.6 L499.5,293.8 L500.0,293.5 L500.5,294.3 L501.0,296.3 L501.5,298.8 L502.0,301.0 L502.4,302.0 L502.5,302.3 L503.0,303.3 L503.5,304.2 L504.0,305.0 L504.5,305.7 L505.0,306.3 L505.5,306.7 L506.0,307.0 L506.0,307.0 L506.5,307.3 L507.0,307.5 L507.5,307.7 L508.0,307.9 L508.5,308.1 L509.0,308.2 L509.5,308.3 L510.0,308.4 L510.5,308.5 L511.0,308.5 L511.5,308.5 L512.0,308.4 L512.5,308.3 L513.0,308.2 L513.5,308.1 L514.0,307.9 L514.5,307.7 L515.0,307.5 L515.5,307.3 L516.0,307.1 L516.1,307.0 L516.5,306.7 L517.0,306.0 L517.5,305.2 L518.0,304.3 L518.5,303.4 L519.0,302.8 L519.5,302.5 L519.6,302.5 L520.0,302.8 L520.5,303.8 L521.0,305.1 L521.5,306.2 L521.9,306.5 L522.0,306.5 L522.5,306.7 L523.0,306.7 L523.5,306.8 L524.0,306.8 L524.5,306.9 L524.9,307.0 L525.0,307.1 L525.5,307.3 L526.0,307.8 L526.5,308.3 L527.0,308.9 L527.5,309.5 L528.0,310.0 L528.5,310.3 L529.0,310.5 L529.0,310.5 L529.5,310.6 L530.0,310.7 L530.5,310.7 L531.0,310.8 L531.5,310.8 L532.0,310.9 L532.5,310.9 L533.0,310.9 L533.5,311.0 L534.0,311.0 L534.5,311.0 L535.0,311.0 L535.5,311.0 L536.0,311.0 L536.5,311.0 L537.0,311.0 L537.5,311.0 L538.0,311.0 L538.5,311.0 L539.0,311.0 L539.5,311.0 L540.0,311.0 L540.5,311.0 L541.0,311.0 L541.5,311.0 L542.0,311.0 L542.5,311.0 L543.0,311.0 L543.5,311.0 L544.0,311.0 L544.5,311.0 L545.0,311.0 L545.5,311.0 L546.0,311.0 L546.5,310.9 L547.0,310.6 L547.5,310.2 L548.0,309.7 L548.5,309.3 L549.0,308.8 L549.5,308.4 L550.0,308.1 L550.5,308.0 L551.0,308.1 L551.5,308.5 L552.0,309.1 L552.5,309.7 L553.0,310.3 L553.5,310.7 L554.0,311.0 L554.5,311.1 L555.0,311.3 L555.5,311.4 L556.0,311.4 L556.5,311.5 L557.0,311.5 L557.5,311.4 L558.0,311.0 L558.5,310.4 L559.0,309.8 L559.5,309.0 L560.0,308.2 L560.1,308.0 L560.5,307.3 L561.0,305.9 L561.5,304.6 L562.0,304.0 L562.5,304.3 L563.0,305.1 L563.5,306.2 L564.0,307.2 L564.5,308.0 L565.0,308.7 L565.5,309.2 L566.0,309.5 L566.5,308.9 L567.0,307.3 L567.5,305.3 L568.0,303.5 L568.1,303.0 L568.5,301.9 L569.0,300.1 L569.5,298.6 L570.0,298.0 L570.5,298.8 L571.0,300.9 L571.5,303.4 L572.0,305.8 L572.4,307.0 L572.5,307.4 L573.0,308.6 L573.5,309.8 L574.0,310.7 L574.5,311.5 L574.9,312.0 L575.0,312.1 L575.5,312.5 L576.0,312.8 L576.5,313.2 L577.0,313.5 L577.5,313.8 L578.0,314.0 L578.5,314.2 L579.0,314.4 L579.5,314.5 L580.0,314.5 L580.5,314.5 L581.0,314.5 L581.5,314.4 L582.0,314.3 L582.5,314.2 L583.0,314.1 L583.5,314.0 L584.0,313.8 L584.5,313.7 L585.0,313.5 L585.5,313.2 L586.0,312.8 L586.5,312.4 L587.0,311.9 L587.5,311.4 L588.0,311.0 L588.5,310.7 L589.0,310.3 L589.5,310.0 L590.0,309.8 L590.5,309.6 L591.0,309.5 L591.5,309.6 L592.0,309.8 L592.5,310.0 L593.0,310.4 L593.5,310.7 L594.0,311.0 L594.5,311.3 L595.0,311.8 L595.5,312.2 L596.0,312.6 L596.5,312.9 L597.0,313.0 L597.5,312.8 L598.0,312.4 L598.5,311.7 L599.0,310.9 L599.5,310.1 L600.0,309.2 L600.1,309.0 L600.5,308.3 L601.0,307.2 L601.5,306.5 L601.6,306.5 L602.0,306.7 L602.5,307.4 L603.0,308.4 L603.5,309.4 L603.9,310.0 L604.0,310.2 L604.5,311.1 L605.0,312.0 L605.5,312.7 L606.0,313.0 L606.5,313.0 L607.0,312.9 L607.5,312.7 L608.0,312.6 L608.5,312.4 L609.0,312.3 L609.5,312.1 L610.0,312.0 L610.5,312.0 L611.0,312.3 L611.5,313.0 L612.0,314.0 L612.5,314.9 L613.0,315.5 L613.5,315.9 L614.0,316.2 L614.5,316.6 L615.0,316.9 L615.5,317.1 L616.0,317.3 L616.5,317.5 L617.0,317.5 L617.5,317.5 L618.0,317.5 L618.5,317.5 L619.0,317.4 L619.5,317.4 L620.0,317.3 L620.5,317.3 L621.0,317.2 L621.5,317.1 L622.0,317.0 L622.0,317.0 L622.5,316.8 L623.0,316.4 L623.5,315.9 L624.0,315.3 L624.5,314.5 L625.0,313.6 L625.1,313.5 L625.5,312.4 L626.0,310.6 L626.5,308.3 L627.0,305.9 L627.5,303.6 L627.6,303.0 L628.0,301.4 L628.5,298.7 L629.0,296.4 L629.5,295.5 L630.0,297.3 L630.5,301.4 L631.0,305.8 L631.4,308.0 L631.5,308.6 L632.0,310.7 L632.5,312.6 L633.0,314.0 L633.5,314.5 L634.0,314.4 L634.5,314.2 L635.0,313.9 L635.5,313.5 L636.0,313.0 L636.0,313.0 L636.5,312.2 L637.0,310.6 L637.5,308.6 L638.0,306.5 L638.5,304.5 L638.6,304.0 L639.0,302.7 L639.5,300.7 L640.0,298.8 L640.5,297.5 L640.8,297.3 L641.0,297.4 L641.5,298.1 L642.0,299.4 L642.5,300.8 L643.0,302.0 L643.4,302.5 L643.5,302.6 L644.0,302.9 L644.5,303.2 L644.9,303.5 L645.0,303.7 L645.5,305.2 L646.0,307.4 L646.5,309.7 L646.9,311.0 L647.0,311.5 L647.5,313.1 L648.0,314.7 L648.5,316.2 L649.0,317.3 L649.4,318.0 L649.5,318.1 L650.0,318.6 L650.5,319.1 L651.0,319.5 L651.5,319.8 L652.0,320.1 L652.5,320.3 L653.0,320.5 L653.0,320.5 L653.5,320.6 L654.0,320.7 L654.5,320.9 L655.0,321.0 L655.5,321.1 L656.0,321.1 L656.5,321.2 L657.0,321.3 L657.5,321.4 L658.0,321.4 L658.5,321.4 L659.0,321.5 L659.5,321.5 L660.0,321.5 L660.5,321.4 L661.0,321.1 L661.5,320.7 L662.0,320.2 L662.5,319.7 L663.0,319.1 L663.1,319.0 L663.5,318.6 L664.0,317.9 L664.5,317.0 L665.0,316.2 L665.5,315.5 L666.0,315.0 L666.5,314.8 L667.0,314.9 L667.5,315.2 L668.0,315.6 L668.5,316.1 L669.0,316.5 L669.5,316.9 L670.0,317.4 L670.5,317.9 L671.0,318.4 L671.5,318.8 L672.0,319.2 L672.5,319.4 L673.0,319.5 L673.5,319.4 L674.0,319.2 L674.5,318.9 L675.0,318.5 L675.5,318.1 L675.6,318.0 L676.0,317.4 L676.5,316.4 L677.0,315.1 L677.5,313.8 L678.0,312.7 L678.5,311.8 L679.0,311.5 L679.5,311.8 L680.0,312.7 L680.5,313.8 L681.0,315.1 L681.5,316.3 L681.9,317.0 L682.0,317.3 L682.5,318.1 L683.0,319.0 L683.5,319.8 L684.0,320.6 L684.5,321.2 L685.0,321.5 L685.0,321.5 L685.5,321.8 L686.0,322.0 L686.5,322.2 L687.0,322.4 L687.5,322.5 L688.0,322.5 L688.5,322.4 L689.0,322.1 L689.5,321.8 L690.0,321.3 L690.5,320.9 L691.0,320.5 L691.5,320.1 L692.0,319.7 L692.5,319.5 L693.0,319.7 L693.5,320.0 L694.0,320.3 L694.5,320.5 L695.0,320.4 L695.5,320.2 L696.0,320.0 L696.5,319.5 L697.0,319.0 L697.0,319.0 L697.5,317.7 L698.0,315.3 L698.5,312.6 L698.6,312.0 L699.0,310.4 L699.5,308.1 L700.0,306.3 L700.3,306.0 L700.5,306.2 L701.0,308.1 L701.5,310.3 L701.9,311.0 L702.0,311.0 L702.5,311.2 L703.0,311.2 L703.5,311.3 L704.0,311.3 L704.5,311.4 L704.9,311.5 L705.0,311.6 L705.5,312.0 L706.0,312.7 L706.5,313.5 L706.9,314.0 L707.0,314.1 L707.5,314.9 L708.0,315.6 L708.5,316.3 L709.0,316.5 L709.5,316.5 L710.0,316.4 L710.5,316.2 L711.0,316.1 L711.5,316.0 L712.0,316.0 L712.5,316.0 L713.0,316.2 L713.5,316.3 L714.0,316.5 L714.5,316.8 L715.0,317.0 L715.5,317.3 L716.0,317.7 L716.5,318.2 L717.0,318.6 L717.5,318.9 L718.0,319.0 L718.5,319.0 L719.0,318.8 L719.5,318.7 L720.0,318.4 L720.5,318.2 L721.0,318.0 L721.5,317.7 L722.0,317.4 L722.5,317.1 L723.0,317.0 L723.5,317.2 L724.0,317.8 L724.5,318.5 L725.0,319.2 L725.5,319.8 L726.0,320.0 L726.5,320.0 L727.0,320.0 L727.5,320.0 L728.0,320.0 L728.5,320.0 L729.0,320.0 L729.5,319.9 L730.0,319.5 L730.5,319.0 L731.0,318.4 L731.5,317.7 L732.0,317.2 L732.1,317.0 L732.5,316.6 L733.0,316.0 L733.5,315.4 L734.0,314.8 L734.5,314.3 L735.0,314.0 L735.1,314.0 L735.5,313.9 L736.0,313.8 L736.5,313.7 L737.0,313.6 L737.5,313.6 L738.0,313.5 L738.5,313.5 L739.0,313.5 L739.5,313.6 L740.0,313.9 L740.5,314.3 L741.0,314.7 L741.5,315.1 L742.0,315.4 L742.5,315.5 L743.0,315.3 L743.5,314.8 L744.0,314.2 L744.5,313.5 L745.0,313.0 L745.5,312.5 L746.0,312.0 L746.5,311.5 L747.0,311.1 L747.5,311.0 L748.0,311.2 L748.5,311.6 L749.0,312.3 L749.5,312.9 L750.0,313.5 L750.5,314.1 L751.0,314.7 L751.5,315.4 L752.0,315.9 L752.5,316.3 L753.0,316.5 L753.5,316.5 L754.0,316.4 L754.5,316.3 L755.0,316.2 L755.5,316.1 L756.0,316.0 L756.5,315.8 L757.0,315.7 L757.5,315.6 L758.0,315.5 L758.0,315.5 L758.5,315.4 L759.0,315.4 L759.5,315.4 L760.0,315.3 L760.5,315.3 L761.0,315.2 L761.5,315.2 L762.0,315.2 L762.5,315.1 L763.0,315.0 L763.0,315.0 L763.5,314.9 L764.0,314.6 L764.5,314.3 L765.0,314.0 L765.5,313.6 L766.0,313.1 L766.1,313.0 L766.5,312.6 L767.0,311.9 L767.5,311.1 L768.0,310.2 L768.5,309.3 L768.6,309.0 L769.0,308.2 L769.5,306.7 L770.0,305.0 L770.5,303.6 L771.0,302.7 L771.3,302.5 L771.5,302.6 L772.0,303.6 L772.5,305.1 L772.9,306.0 L773.0,306.3 L773.5,307.3 L774.0,308.2 L774.5,309.0" fill="none" stroke="#ca161e" stroke-width="2.0" stroke-linejoin="round" stroke-linecap="butt"/>
<path d="M208.5,614.0 L209.0,614.0 L209.5,614.0 L210.0,614.0 L210.5,614.0 L211.0,614.0 L211.5,614.0 L212.0,614.0 L212.5,614.0 L213.0,614.0 L213.5,614.0 L214.0,614.0 L214.5,613.7 L215.0,612.8 L215.5,611.8 L216.0,610.8 L216.2,610.5 L216.5,609.9 L217.0,608.9 L217.5,608.1 L217.8,608.0 L218.0,608.1 L218.5,608.8 L219.0,609.8 L219.3,610.5 L219.5,610.8 L220.0,611.8 L220.5,612.8 L220.8,613.5 L221.0,613.8 L221.5,614.6 L222.0,615.5 L222.5,616.3 L223.0,617.1 L223.5,617.6 L223.9,618.0 L224.0,618.1 L224.5,618.4 L225.0,618.7 L225.5,619.0 L226.0,619.3 L226.5,619.6 L227.0,619.8 L227.5,620.0 L228.0,620.2 L228.5,620.3 L229.0,620.4 L229.5,620.5 L230.0,620.5 L230.5,620.5 L231.0,620.5 L231.5,620.5 L232.0,620.5 L232.5,620.5 L233.0,620.5 L233.5,620.5 L234.0,620.5 L234.5,620.5 L235.0,620.5 L235.5,620.5 L236.0,620.5 L236.5,620.5 L237.0,620.5 L237.5,620.5 L238.0,620.5 L238.5,620.5 L239.0,620.5 L239.5,620.5 L240.0,620.5 L240.5,620.5 L241.0,620.5 L241.5,620.5 L242.0,620.5 L242.5,620.5 L243.0,620.5 L243.5,620.5 L244.0,620.5 L244.5,620.5 L245.0,620.5 L245.5,620.5 L246.0,620.5 L246.5,620.5 L247.0,620.5 L247.5,620.5 L248.0,620.5 L248.5,620.5 L249.0,620.5 L249.5,620.5 L250.0,620.5 L250.5,620.3 L251.0,619.8 L251.5,619.3 L252.0,619.0 L252.1,619.0 L252.5,619.0 L253.0,618.9 L253.5,618.9 L254.0,618.8 L254.5,618.8 L255.0,618.8 L255.5,618.8 L256.0,618.8 L256.5,618.7 L257.0,618.7 L257.5,618.7 L258.0,618.7 L258.5,618.7 L259.0,618.7 L259.5,618.7 L260.0,618.6 L260.5,618.6 L261.0,618.6 L261.5,618.6 L262.0,618.5 L262.1,618.5 L262.5,618.4 L263.0,618.3 L263.5,618.1 L264.0,617.9 L264.5,617.7 L265.0,617.5 L265.1,617.5 L265.5,617.4 L266.0,617.4 L266.5,617.3 L267.0,617.2 L267.5,617.2 L268.0,617.1 L268.5,617.1 L269.0,617.0 L269.5,617.0 L270.0,616.9 L270.5,616.9 L271.0,616.9 L271.5,616.8 L272.0,616.8 L272.5,616.7 L273.0,616.7 L273.5,616.6 L274.0,616.5 L274.1,616.5 L274.5,616.4 L275.0,616.4 L275.5,616.3 L276.0,616.2 L276.5,616.0 L277.0,615.9 L277.5,615.8 L278.0,615.7 L278.5,615.5 L279.0,615.4 L279.5,615.2 L280.0,615.1 L280.1,615.0 L280.5,614.9 L281.0,614.7 L281.5,614.4 L282.0,614.2 L282.5,613.9 L283.0,613.6 L283.5,613.4 L284.0,613.1 L284.1,613.0 L284.5,612.8 L285.0,612.4 L285.5,612.0 L286.0,611.6 L286.5,611.3 L287.0,611.1 L287.5,611.0 L288.0,611.4 L288.5,612.2 L289.0,613.0 L289.5,613.6 L290.0,614.2 L290.5,614.7 L291.0,615.0 L291.5,615.1 L292.0,615.2 L292.5,615.2 L293.0,615.3 L293.5,615.3 L294.0,615.4 L294.5,615.4 L295.0,615.4 L295.5,615.5 L296.0,615.5 L296.5,615.5 L297.0,615.5 L297.5,615.5 L298.0,615.4 L298.5,615.4 L299.0,615.2 L299.5,615.1 L300.0,615.0 L300.5,614.8 L301.0,614.7 L301.5,614.5 L302.0,614.3 L302.5,614.2 L303.0,614.0 L303.5,613.8 L304.0,613.6 L304.5,613.3 L305.0,613.1 L305.5,612.9 L306.0,612.7 L306.5,612.5 L307.0,612.5 L307.5,612.5 L308.0,612.6 L308.5,612.7 L309.0,612.8 L309.5,612.8 L310.0,612.9 L310.5,613.0 L311.0,613.0 L311.5,613.0 L312.0,613.0 L312.5,613.0 L313.0,613.0 L313.5,613.0 L314.0,613.0 L314.5,613.0 L315.0,613.0 L315.5,612.9 L316.0,612.9 L316.5,612.9 L317.0,612.9 L317.5,612.9 L318.0,612.9 L318.5,612.9 L319.0,612.8 L319.5,612.8 L320.0,612.8 L320.5,612.8 L321.0,612.7 L321.5,612.7 L322.0,612.7 L322.5,612.7 L323.0,612.6 L323.5,612.6 L324.0,612.6 L324.5,612.5 L325.0,612.5 L325.0,612.5 L325.5,612.4 L326.0,612.4 L326.5,612.2 L327.0,612.1 L327.5,611.9 L328.0,611.8 L328.5,611.6 L329.0,611.4 L329.5,611.2 L330.0,611.0 L330.1,611.0 L330.5,610.9 L331.0,610.7 L331.5,610.5 L332.0,610.4 L332.5,610.2 L333.0,610.0 L333.5,609.8 L334.0,609.6 L334.1,609.5 L334.5,609.3 L335.0,609.0 L335.5,608.6 L336.0,608.2 L336.5,607.7 L337.0,607.2 L337.1,607.0 L337.5,606.5 L338.0,605.7 L338.5,604.8 L339.0,603.9 L339.5,603.2 L339.6,603.0 L340.0,602.7 L340.5,602.2 L341.0,601.9 L341.5,601.6 L342.0,601.5 L342.5,601.7 L343.0,602.2 L343.5,602.8 L344.0,603.4 L344.5,604.0 L345.0,604.5 L345.5,605.1 L346.0,605.6 L346.5,606.1 L347.0,606.4 L347.5,606.5 L348.0,606.4 L348.5,606.2 L349.0,605.9 L349.5,605.5 L350.0,605.1 L350.5,604.6 L350.6,604.5 L351.0,604.0 L351.5,603.1 L352.0,602.0 L352.5,601.2 L352.6,601.0 L353.0,600.6 L353.5,600.2 L354.0,600.0 L354.5,600.3 L355.0,601.0 L355.4,601.5 L355.5,601.7 L356.0,602.6 L356.5,603.5 L356.9,604.0 L357.0,604.2 L357.5,604.9 L358.0,605.7 L358.5,606.4 L359.0,606.9 L359.5,607.3 L360.0,607.5 L360.0,607.5 L360.5,607.6 L361.0,607.6 L361.5,607.7 L362.0,607.7 L362.5,607.7 L363.0,607.8 L363.5,607.8 L364.0,607.8 L364.5,607.9 L365.0,607.9 L365.5,607.9 L366.0,607.9 L366.5,608.0 L367.0,608.0 L367.5,608.0 L368.0,608.0 L368.5,608.0 L369.0,608.0 L369.5,608.0 L370.0,608.0 L370.5,608.0 L371.0,607.9 L371.5,607.7 L372.0,607.5 L372.5,607.3 L373.0,607.0 L373.5,606.8 L374.0,606.5 L374.0,606.5 L374.5,606.2 L375.0,606.0 L375.5,605.6 L376.0,605.3 L376.5,604.9 L377.0,604.5 L377.5,604.0 L378.0,603.5 L378.0,603.5 L378.5,602.9 L379.0,602.2 L379.5,601.3 L380.0,600.3 L380.5,599.2 L381.0,598.1 L381.0,598.0 L381.5,596.9 L382.0,595.6 L382.5,594.1 L383.0,592.4 L383.5,590.4 L383.6,590.0 L384.0,587.9 L384.5,584.7 L385.0,580.8 L385.5,576.4 L385.6,575.0 L386.0,571.3 L386.5,565.0 L387.0,557.4 L387.1,555.0 L387.5,546.0 L388.0,529.5 L388.5,517.4 L388.7,516.0 L389.0,518.1 L389.5,528.4 L390.0,541.8 L390.4,550.0 L390.5,552.5 L391.0,561.7 L391.5,570.0 L391.9,575.0 L392.0,576.7 L392.5,582.3 L393.0,587.0 L393.4,590.0 L393.5,590.4 L394.0,592.8 L394.5,594.9 L395.0,596.6 L395.5,598.0 L396.0,599.0 L396.0,599.0 L396.5,599.9 L397.0,600.6 L397.5,601.2 L398.0,601.8 L398.5,602.2 L399.0,602.5 L399.0,602.5 L399.5,602.8 L400.0,603.0 L400.5,603.2 L401.0,603.4 L401.5,603.5 L402.0,603.5 L402.5,603.5 L403.0,603.4 L403.5,603.2 L404.0,603.0 L404.5,602.8 L405.0,602.6 L405.5,602.3 L406.0,602.0 L406.0,602.0 L406.5,601.7 L407.0,601.2 L407.5,600.7 L408.0,600.1 L408.5,599.4 L409.0,598.7 L409.1,598.5 L409.5,597.8 L410.0,596.8 L410.5,595.5 L411.0,594.1 L411.5,592.5 L411.6,592.0 L412.0,590.4 L412.5,587.3 L413.0,584.5 L413.1,584.0 L413.5,582.9 L414.0,581.7 L414.3,581.5 L414.5,581.7 L415.0,583.4 L415.5,585.8 L415.9,587.0 L416.0,587.4 L416.5,588.6 L417.0,589.7 L417.5,590.4 L417.8,590.5 L418.0,590.4 L418.5,589.5 L419.0,587.9 L419.5,585.8 L420.0,583.6 L420.1,583.0 L420.5,581.3 L421.0,578.3 L421.5,575.6 L421.6,575.0 L422.0,573.7 L422.5,571.9 L423.0,570.7 L423.3,570.5 L423.5,570.7 L424.0,572.9 L424.5,576.0 L424.9,578.0 L425.0,578.8 L425.5,581.4 L426.0,584.1 L426.5,586.6 L426.9,588.0 L427.0,588.5 L427.5,590.3 L428.0,591.8 L428.5,593.1 L428.9,594.0 L429.0,594.1 L429.5,594.9 L430.0,595.7 L430.5,596.3 L431.0,596.9 L431.5,597.3 L432.0,597.5 L432.0,597.5 L432.5,597.6 L433.0,597.8 L433.5,597.9 L434.0,597.9 L434.5,598.0 L435.0,598.0 L435.5,597.9 L436.0,597.8 L436.5,597.5 L437.0,597.2 L437.5,596.8 L438.0,596.5 L438.0,596.5 L438.5,596.1 L439.0,595.7 L439.5,595.2 L440.0,594.7 L440.5,594.1 L441.0,593.5 L441.0,593.5 L441.5,592.8 L442.0,592.1 L442.5,591.3 L443.0,590.3 L443.5,589.2 L444.0,588.0 L444.0,588.0 L444.5,586.6 L445.0,584.8 L445.5,582.6 L446.0,580.2 L446.0,580.0 L446.5,577.3 L447.0,574.0 L447.5,570.0 L448.0,565.6 L448.1,565.0 L448.5,560.2 L449.0,553.6 L449.5,546.3 L449.6,545.0 L450.0,538.9 L450.5,530.8 L451.0,521.0 L451.0,520.0 L451.5,507.4 L452.0,489.9 L452.5,470.0 L453.0,445.5 L453.5,420.0 L454.0,398.9 L454.5,379.0 L454.6,375.0 L455.0,359.0 L455.5,359.0 L456.0,359.0 L456.5,368.1 L456.8,375.0 L457.0,378.0 L457.5,385.1 L458.0,391.0 L458.5,395.0 L459.0,396.9 L459.5,398.4 L459.8,400.0 L460.0,402.9 L460.5,418.3 L460.9,430.0 L461.0,432.1 L461.5,440.7 L462.0,448.4 L462.4,455.0 L462.5,457.6 L463.0,471.7 L463.5,485.7 L464.0,492.0 L464.5,487.8 L465.0,478.3 L465.5,467.7 L465.6,465.0 L466.0,458.2 L466.5,447.0 L467.0,437.5 L467.5,433.5 L468.0,434.8 L468.5,438.3 L469.0,443.5 L469.5,450.0 L470.0,463.6 L470.5,480.0 L471.0,491.0 L471.5,500.9 L471.9,510.0 L472.0,512.7 L472.5,529.2 L472.9,540.0 L473.0,541.9 L473.5,549.2 L474.0,555.0 L474.5,560.0 L474.5,560.5 L475.0,567.2 L475.5,572.8 L475.8,574.0 L476.0,573.8 L476.5,571.9 L477.0,568.6 L477.5,564.7 L478.0,560.9 L478.1,560.0 L478.5,557.9 L479.0,554.8 L479.5,551.7 L480.0,548.8 L480.1,548.0 L480.5,545.9 L481.0,543.1 L481.3,542.5 L481.5,542.9 L482.0,546.3 L482.5,551.5 L482.9,555.0 L483.0,556.4 L483.5,561.5 L484.0,566.7 L484.4,570.0 L484.5,571.3 L485.0,575.3 L485.4,578.0 L485.5,579.2 L486.0,583.5 L486.5,587.5 L486.9,590.0 L487.0,590.3 L487.5,592.2 L488.0,593.8 L488.5,595.1 L489.0,596.0 L489.0,596.0 L489.5,596.7 L490.0,597.4 L490.5,597.8 L491.0,598.0 L491.5,598.0 L492.0,597.9 L492.5,597.9 L493.0,597.8 L493.5,597.6 L494.0,597.5 L494.5,597.1 L495.0,596.5 L495.5,595.8 L496.0,595.2 L496.5,595.0 L497.0,595.2 L497.5,595.8 L498.0,596.5 L498.4,597.0 L498.5,597.2 L499.0,598.0 L499.5,598.8 L500.0,599.7 L500.5,600.5 L500.9,601.0 L501.0,601.2 L501.5,601.9 L502.0,602.5 L502.5,603.1 L503.0,603.7 L503.5,604.2 L503.9,604.5 L504.0,604.6 L504.5,605.0 L505.0,605.3 L505.5,605.7 L506.0,606.0 L506.5,606.3 L507.0,606.5 L507.5,606.7 L508.0,606.8 L508.0,606.8 L508.5,606.9 L509.0,607.0 L509.5,607.1 L510.0,607.2 L510.5,607.2 L511.0,607.3 L511.5,607.4 L512.0,607.5 L512.5,607.5 L513.0,607.6 L513.5,607.6 L514.0,607.7 L514.5,607.7 L515.0,607.8 L515.5,607.8 L516.0,607.9 L516.5,607.9 L517.0,607.9 L517.5,607.9 L518.0,608.0 L518.5,608.0 L519.0,608.0 L519.5,608.0 L520.0,608.0 L520.5,608.0 L521.0,608.0 L521.5,608.0 L522.0,608.0 L522.5,607.9 L523.0,607.9 L523.5,607.9 L524.0,607.9 L524.5,607.8 L525.0,607.8 L525.5,607.8 L526.0,607.7 L526.5,607.7 L527.0,607.6 L527.5,607.6 L528.0,607.5 L528.0,607.5 L528.5,607.4 L529.0,607.3 L529.5,607.2 L530.0,607.0 L530.5,606.8 L531.0,606.5 L531.5,606.3 L532.0,606.0 L532.0,606.0 L532.5,605.7 L533.0,605.2 L533.5,604.7 L534.0,604.1 L534.5,603.4 L535.0,602.6 L535.0,602.5 L535.5,601.6 L536.0,600.2 L536.5,598.6 L537.0,596.9 L537.5,595.3 L537.6,595.0 L538.0,593.8 L538.5,592.2 L539.0,590.6 L539.5,589.0 L540.0,587.4 L540.1,587.0 L540.5,586.0 L541.0,584.8 L541.5,583.6 L542.0,582.3 L542.5,580.6 L542.6,580.0 L543.0,578.2 L543.5,574.8 L544.0,571.1 L544.1,570.0 L544.5,567.1 L545.0,562.2 L545.5,557.6 L546.0,554.8 L546.2,554.5 L546.5,555.2 L547.0,558.8 L547.5,563.8 L547.9,567.0 L548.0,568.3 L548.5,573.1 L549.0,578.2 L549.5,582.6 L549.9,585.0 L550.0,585.8 L550.5,588.2 L551.0,590.3 L551.5,592.1 L552.0,593.8 L552.4,595.0 L552.5,595.3 L553.0,596.8 L553.5,598.2 L554.0,599.5 L554.5,600.6 L554.9,601.5 L555.0,601.6 L555.5,602.5 L556.0,603.4 L556.5,604.1 L557.0,604.8 L557.5,605.5 L558.0,606.0 L558.0,606.0 L558.5,606.6 L559.0,607.1 L559.5,607.6 L560.0,608.0 L560.5,608.3 L561.0,608.5 L561.0,608.5 L561.5,608.6 L562.0,608.8 L562.5,608.9 L563.0,608.9 L563.5,609.0 L564.0,609.0 L564.5,608.9 L565.0,608.6 L565.5,608.2 L566.0,607.7 L566.5,607.1 L566.6,607.0 L567.0,606.3 L567.5,605.2 L568.0,603.9 L568.5,602.5 L569.0,601.3 L569.1,601.0 L569.5,600.3 L570.0,599.2 L570.5,598.4 L571.0,598.0 L571.5,598.4 L572.0,599.2 L572.5,600.3 L572.9,601.0 L573.0,601.3 L573.5,602.3 L574.0,603.5 L574.5,604.6 L575.0,605.8 L575.5,606.8 L575.9,607.5 L576.0,607.8 L576.5,608.6 L577.0,609.5 L577.5,610.2 L578.0,611.0 L578.5,611.6 L578.9,612.0 L579.0,612.1 L579.5,612.5 L580.0,612.9 L580.5,613.3 L581.0,613.7 L581.5,614.0 L582.0,614.3 L582.5,614.4 L583.0,614.5 L583.5,614.5 L584.0,614.5 L584.5,614.4 L585.0,614.4 L585.5,614.3 L586.0,614.2 L586.5,614.1 L587.0,614.0 L587.0,614.0 L587.5,613.7 L588.0,613.1 L588.5,612.3 L589.0,611.3 L589.5,610.3 L589.6,610.0 L590.0,609.1 L590.5,607.6 L591.0,605.9 L591.5,604.4 L591.6,604.0 L592.0,603.0 L592.5,601.8 L592.8,601.5 L593.0,601.7 L593.5,603.0 L594.0,604.9 L594.4,606.0 L594.5,606.4 L595.0,607.5 L595.5,608.6 L596.0,609.6 L596.5,610.5 L596.9,611.0 L597.0,611.1 L597.5,611.7 L598.0,612.2 L598.5,612.7 L599.0,613.0 L599.5,613.3 L600.0,613.5 L600.0,613.5 L600.5,613.6 L601.0,613.7 L601.5,613.8 L602.0,613.9 L602.5,614.0 L603.0,614.0 L603.5,614.0 L604.0,613.8 L604.5,613.4 L605.0,612.8 L605.5,612.1 L605.6,612.0 L606.0,611.2 L606.5,609.7 L607.0,608.1 L607.5,606.8 L607.6,606.5 L608.0,606.0 L608.5,605.3 L609.0,605.0 L609.5,605.4 L610.0,606.2 L610.5,607.0 L611.0,607.7 L611.5,608.5 L612.0,609.2 L612.5,609.8 L613.0,610.0 L613.5,609.9 L614.0,609.7 L614.5,609.4 L615.0,609.0 L615.0,609.0 L615.5,608.4 L616.0,607.5 L616.5,606.4 L617.0,605.1 L617.0,605.0 L617.5,603.4 L618.0,601.2 L618.5,598.6 L619.0,595.5 L619.1,595.0 L619.5,591.9 L620.0,587.4 L620.5,582.3 L621.0,576.7 L621.1,575.0 L621.5,570.7 L622.0,563.8 L622.5,556.7 L622.6,555.0 L623.0,549.5 L623.5,541.2 L624.0,534.4 L624.5,531.5 L625.0,534.4 L625.5,541.4 L626.0,549.8 L626.4,555.0 L626.5,557.0 L627.0,564.1 L627.5,570.9 L627.9,575.0 L628.0,576.5 L628.5,581.2 L629.0,585.4 L629.5,589.2 L629.9,592.0 L630.0,592.4 L630.5,595.5 L631.0,598.2 L631.5,600.0 L631.5,600.1 L632.0,601.5 L632.5,602.8 L633.0,603.7 L633.5,604.0 L634.0,603.7 L634.5,602.8 L635.0,601.5 L635.5,600.2 L635.6,600.0 L636.0,598.5 L636.5,596.3 L637.0,593.6 L637.5,590.8 L637.6,590.0 L638.0,587.8 L638.5,584.2 L639.0,580.8 L639.1,580.0 L639.5,578.0 L640.0,575.2 L640.5,574.0 L641.0,575.7 L641.5,579.0 L641.9,581.0 L642.0,581.6 L642.5,583.7 L643.0,585.7 L643.5,587.5 L644.0,589.0 L644.4,590.0 L644.5,590.2 L645.0,591.1 L645.5,591.9 L646.0,592.5 L646.5,593.0 L646.5,593.0 L647.0,593.5 L647.5,594.0 L648.0,594.3 L648.5,594.5 L648.6,594.5 L649.0,594.3 L649.5,593.4 L650.0,591.9 L650.5,590.1 L651.0,588.1 L651.0,588.0 L651.5,585.5 L652.0,581.8 L652.5,577.1 L653.0,571.5 L653.1,570.0 L653.5,564.1 L654.0,553.6 L654.5,542.7 L654.6,540.0 L655.0,531.8 L655.5,519.4 L656.0,510.3 L656.3,508.5 L656.5,509.3 L657.0,516.9 L657.5,528.0 L657.9,535.0 L658.0,537.6 L658.5,546.4 L659.0,554.8 L659.4,560.0 L659.5,561.5 L660.0,567.0 L660.5,571.7 L661.0,575.0 L661.0,575.2 L661.5,578.2 L662.0,580.5 L662.5,581.5 L663.0,580.4 L663.5,577.8 L664.0,574.3 L664.5,570.9 L664.6,570.0 L665.0,567.7 L665.5,563.9 L666.0,559.9 L666.5,556.5 L667.0,554.4 L667.3,554.0 L667.5,554.2 L668.0,556.1 L668.5,559.2 L669.0,562.7 L669.4,565.0 L669.5,565.9 L670.0,569.4 L670.5,572.8 L670.9,575.0 L671.0,575.4 L671.5,577.5 L672.0,579.3 L672.5,580.0 L673.0,579.0 L673.5,576.8 L674.0,574.5 L674.1,574.0 L674.5,572.8 L675.0,571.0 L675.5,569.6 L676.0,569.0 L676.5,570.3 L677.0,573.1 L677.4,575.0 L677.5,575.7 L678.0,578.3 L678.5,581.0 L679.0,583.4 L679.4,585.0 L679.5,585.4 L680.0,587.1 L680.5,588.8 L681.0,589.8 L681.3,590.0 L681.5,589.8 L682.0,588.3 L682.5,586.0 L683.0,583.6 L683.1,583.0 L683.5,581.6 L684.0,579.4 L684.5,577.2 L685.0,575.4 L685.5,574.2 L685.8,574.0 L686.0,574.2 L686.5,576.4 L687.0,579.8 L687.4,582.0 L687.5,582.9 L688.0,586.2 L688.5,589.7 L689.0,593.0 L689.4,595.0 L689.5,595.7 L690.0,598.4 L690.5,601.0 L691.0,603.3 L691.5,604.9 L692.0,605.5 L692.5,605.1 L693.0,603.9 L693.5,602.2 L694.0,600.2 L694.0,600.0 L694.5,597.2 L695.0,592.7 L695.5,587.2 L696.0,581.6 L696.1,580.0 L696.5,575.7 L697.0,568.1 L697.5,560.9 L698.0,555.9 L698.3,555.0 L698.5,555.4 L699.0,559.5 L699.5,565.7 L699.9,570.0 L700.0,571.8 L700.5,578.6 L701.0,585.6 L701.4,590.0 L701.5,591.7 L702.0,597.4 L702.5,602.3 L702.9,605.0 L703.0,605.5 L703.5,607.6 L704.0,609.4 L704.5,610.8 L705.0,612.0 L705.5,613.0 L705.5,613.1 L706.0,614.1 L706.5,615.1 L707.0,616.0 L707.5,616.7 L708.0,617.2 L708.5,617.5 L708.5,617.5 L709.0,617.6 L709.5,617.7 L710.0,617.8 L710.5,617.8 L711.0,617.9 L711.5,617.9 L712.0,618.0 L712.0,618.0 L712.5,618.1 L713.0,618.4 L713.5,618.6 L714.0,618.9 L714.5,619.1 L715.0,619.3 L715.5,619.4 L716.0,619.5 L716.5,619.5 L717.0,619.5 L717.5,619.5 L718.0,619.5 L718.5,619.5 L719.0,619.5 L719.5,619.5 L720.0,619.5 L720.5,619.4 L721.0,619.0 L721.5,618.5 L722.0,617.8 L722.5,617.1 L722.6,617.0 L723.0,616.1 L723.5,614.6 L724.0,612.8 L724.5,611.0 L725.0,609.4 L725.1,609.0 L725.5,608.1 L726.0,606.7 L726.5,605.3 L727.0,603.9 L727.5,602.8 L728.0,602.0 L728.5,601.5 L728.7,601.5 L729.0,601.7 L729.5,602.7 L730.0,604.3 L730.5,606.0 L730.9,607.0 L731.0,607.4 L731.5,608.9 L732.0,610.4 L732.5,611.9 L733.0,613.2 L733.4,614.0 L733.5,614.1 L734.0,614.8 L734.5,615.4 L735.0,615.8 L735.5,616.0 L736.0,615.7 L736.5,615.0 L737.0,614.1 L737.5,613.1 L738.0,612.2 L738.1,612.0 L738.5,611.5 L739.0,610.7 L739.5,609.8 L740.0,609.0 L740.5,608.2 L741.0,607.5 L741.5,607.0 L742.0,606.6 L742.5,606.5 L743.0,606.7 L743.5,607.2 L744.0,607.8 L744.5,608.6 L744.9,609.0 L745.0,609.2 L745.5,610.0 L746.0,610.8 L746.5,611.7 L747.0,612.3 L747.5,612.5 L748.0,612.4 L748.5,612.2 L749.0,612.0 L749.5,611.7 L750.0,611.5 L750.5,611.3 L751.0,611.0 L751.5,610.7 L752.0,610.4 L752.5,610.1 L753.0,609.9 L753.5,609.7 L754.0,609.5 L754.5,609.5 L755.0,609.6 L755.5,609.7 L756.0,610.0 L756.5,610.3 L757.0,610.5 L757.5,610.8 L758.0,611.0 L758.5,611.2 L759.0,611.3 L759.5,611.5 L760.0,611.7 L760.5,611.8 L761.0,611.9 L761.5,612.0 L762.0,612.0 L762.5,612.0 L763.0,612.0 L763.5,611.9 L764.0,611.9 L764.5,611.8 L765.0,611.7 L765.5,611.6 L766.0,611.5 L766.5,611.3 L767.0,610.9 L767.5,610.3 L768.0,609.7 L768.5,609.0 L769.0,608.2 L769.5,607.2 L770.0,606.1 L770.5,605.0 L771.0,603.8 L771.5,602.5 L772.0,601.3 L772.5,600.0 L773.0,598.8 L773.5,597.6 L774.0,596.5" fill="none" stroke="#000" stroke-width="2.1" stroke-linejoin="round" stroke-linecap="butt"/>
<path d="M208.5,611.5 L209.0,612.1 L209.5,612.7 L210.0,613.0 L210.5,613.1 L211.0,613.2 L211.5,613.3 L212.0,613.3 L212.5,613.4 L213.0,613.4 L213.5,613.5 L214.0,613.5 L214.5,613.5 L215.0,613.5 L215.5,613.5 L216.0,613.5 L216.5,613.5 L217.0,613.5 L217.5,613.5 L218.0,613.5 L218.5,613.6 L219.0,613.8 L219.5,614.1 L220.0,614.4 L220.5,614.7 L221.0,615.0 L221.5,615.3 L222.0,615.6 L222.5,615.9 L223.0,616.2 L223.5,616.4 L224.0,616.5 L224.5,616.5 L225.0,616.5 L225.5,616.5 L226.0,616.5 L226.5,616.5 L227.0,616.5 L227.5,616.5 L228.0,616.5 L228.5,616.5 L229.0,616.5 L229.5,616.5 L230.0,616.5 L230.5,616.5 L231.0,616.5 L231.5,616.5 L232.0,616.5 L232.5,616.5 L233.0,616.5 L233.5,616.5 L234.0,616.5 L234.5,616.5 L235.0,616.5 L235.5,616.5 L236.0,616.5 L236.5,616.5 L237.0,616.5 L237.5,616.5 L238.0,616.5 L238.5,616.5 L239.0,616.5 L239.5,616.5 L240.0,616.5 L240.5,616.5 L241.0,616.5 L241.5,616.5 L242.0,616.5 L242.5,616.5 L243.0,616.5 L243.5,616.5 L244.0,616.5 L244.5,616.5 L245.0,616.5 L245.5,616.4 L246.0,616.1 L246.5,615.6 L247.0,615.1 L247.5,614.6 L247.6,614.5 L248.0,614.2 L248.5,613.6 L249.0,613.0 L249.5,612.3 L249.7,612.0 L250.0,610.7 L250.3,610.0 L250.5,610.2 L251.0,612.0 L251.5,613.5 L252.0,614.0 L252.5,614.4 L253.0,614.5 L253.5,614.4 L254.0,614.2 L254.5,614.0 L255.0,613.8 L255.5,613.6 L256.0,613.5 L256.5,613.6 L257.0,613.9 L257.5,614.1 L258.0,614.4 L258.5,614.5 L259.0,614.5 L259.5,614.5 L260.0,614.5 L260.5,614.5 L261.0,614.5 L261.5,614.5 L262.0,614.5 L262.5,614.5 L263.0,614.5 L263.5,614.4 L264.0,614.3 L264.5,614.0 L265.0,613.8 L265.5,613.6 L266.0,613.5 L266.0,613.5 L266.5,613.5 L267.0,613.4 L267.5,613.4 L268.0,613.3 L268.5,613.3 L269.0,613.3 L269.5,613.3 L270.0,613.2 L270.5,613.2 L271.0,613.2 L271.5,613.2 L272.0,613.2 L272.5,613.2 L273.0,613.1 L273.5,613.1 L274.0,613.1 L274.5,613.0 L275.0,613.0 L275.0,613.0 L275.5,612.9 L276.0,612.9 L276.5,612.8 L277.0,612.7 L277.5,612.6 L278.0,612.5 L278.1,612.5 L278.5,612.5 L279.0,612.4 L279.5,612.4 L280.0,612.4 L280.5,612.3 L281.0,612.3 L281.5,612.3 L282.0,612.2 L282.5,612.2 L283.0,612.2 L283.5,612.1 L284.0,612.0 L284.1,612.0 L284.5,611.8 L285.0,611.4 L285.5,610.7 L286.0,609.8 L286.1,609.5 L286.5,608.1 L287.0,604.9 L287.5,602.1 L287.8,601.5 L288.0,601.8 L288.5,604.1 L289.0,607.0 L289.4,608.5 L289.5,608.7 L290.0,609.6 L290.5,610.3 L291.0,610.8 L291.5,611.0 L292.0,611.0 L292.5,611.0 L293.0,611.0 L293.5,611.0 L294.0,611.0 L294.5,611.0 L295.0,611.0 L295.5,611.0 L296.0,611.0 L296.5,611.0 L297.0,611.0 L297.5,611.0 L298.0,611.0 L298.5,611.0 L299.0,611.0 L299.5,611.0 L300.0,611.0 L300.5,611.0 L301.0,611.0 L301.5,611.0 L302.0,611.0 L302.5,611.0 L303.0,611.0 L303.5,610.8 L304.0,610.5 L304.5,610.2 L305.0,610.0 L305.5,610.0 L306.0,610.0 L306.5,610.0 L307.0,610.0 L307.5,610.0 L308.0,610.0 L308.5,610.0 L309.0,610.0 L309.5,610.0 L310.0,610.0 L310.5,610.0 L311.0,610.0 L311.5,610.0 L312.0,610.0 L312.5,610.0 L313.0,610.0 L313.5,610.0 L314.0,610.0 L314.5,610.0 L315.0,610.0 L315.5,610.0 L316.0,610.0 L316.5,610.0 L317.0,610.0 L317.5,610.0 L318.0,610.0 L318.5,610.0 L319.0,610.0 L319.5,609.9 L320.0,609.7 L320.5,609.3 L321.0,609.0 L321.5,608.7 L322.0,608.5 L322.5,608.4 L323.0,608.3 L323.5,608.2 L324.0,608.1 L324.5,608.1 L325.0,608.0 L325.5,608.0 L326.0,608.0 L326.5,608.1 L327.0,608.3 L327.5,608.5 L328.0,608.7 L328.5,608.9 L329.0,609.0 L329.5,609.0 L330.0,609.0 L330.5,609.0 L331.0,608.9 L331.5,608.9 L332.0,608.8 L332.5,608.8 L333.0,608.7 L333.5,608.7 L334.0,608.6 L334.5,608.6 L335.0,608.5 L335.5,608.4 L336.0,608.3 L336.5,608.2 L337.0,608.1 L337.5,608.0 L338.0,607.8 L338.5,607.7 L339.0,607.5 L339.5,607.3 L340.0,607.0 L340.5,606.7 L341.0,606.3 L341.5,606.0 L342.0,605.8 L342.5,605.6 L343.0,605.5 L343.5,605.6 L344.0,606.0 L344.5,606.4 L345.0,606.9 L345.5,607.3 L346.0,607.5 L346.5,607.6 L347.0,607.7 L347.5,607.9 L348.0,607.9 L348.5,608.0 L349.0,608.0 L349.5,608.0 L350.0,608.0 L350.5,607.9 L351.0,607.9 L351.5,607.8 L352.0,607.7 L352.5,607.7 L353.0,607.6 L353.5,607.6 L354.0,607.5 L354.0,607.5 L354.5,607.5 L355.0,607.4 L355.5,607.4 L356.0,607.3 L356.5,607.3 L357.0,607.2 L357.5,607.2 L358.0,607.2 L358.5,607.1 L359.0,607.1 L359.5,607.0 L360.0,607.0 L360.0,607.0 L360.5,607.0 L361.0,606.9 L361.5,606.9 L362.0,606.8 L362.5,606.8 L363.0,606.7 L363.5,606.7 L364.0,606.7 L364.5,606.6 L365.0,606.6 L365.5,606.5 L366.0,606.5 L366.5,606.4 L367.0,606.4 L367.5,606.4 L368.0,606.3 L368.5,606.3 L369.0,606.2 L369.5,606.2 L370.0,606.2 L370.5,606.1 L371.0,606.1 L371.5,606.0 L372.0,606.0 L372.1,606.0 L372.5,606.0 L373.0,605.9 L373.5,605.9 L374.0,605.9 L374.5,605.9 L375.0,605.8 L375.5,605.8 L376.0,605.8 L376.5,605.8 L377.0,605.7 L377.5,605.7 L378.0,605.7 L378.5,605.7 L379.0,605.6 L379.5,605.6 L380.0,605.5 L380.1,605.5 L380.5,605.4 L381.0,605.3 L381.5,605.2 L382.0,605.0 L382.5,604.8 L383.0,604.6 L383.5,604.4 L384.0,604.1 L384.1,604.0 L384.5,603.7 L385.0,603.2 L385.5,602.6 L386.0,601.8 L386.5,601.0 L387.0,600.2 L387.1,600.0 L387.5,599.3 L388.0,598.2 L388.5,596.9 L389.0,595.8 L389.5,595.1 L389.8,595.0 L390.0,595.1 L390.5,596.4 L391.0,598.1 L391.4,599.0 L391.5,599.3 L392.0,600.3 L392.5,601.2 L393.0,601.5 L393.5,601.4 L394.0,601.3 L394.5,601.2 L395.0,601.1 L395.5,601.0 L396.0,601.2 L396.5,601.6 L397.0,602.1 L397.5,602.6 L398.0,603.0 L398.5,603.2 L399.0,603.5 L399.5,603.7 L400.0,603.8 L400.5,604.0 L401.0,604.0 L401.5,604.0 L402.0,603.9 L402.5,603.7 L403.0,603.5 L403.5,603.3 L404.0,603.0 L404.0,603.0 L404.5,602.7 L405.0,602.4 L405.5,601.9 L406.0,601.4 L406.5,600.8 L407.0,600.2 L407.1,600.0 L407.5,599.4 L408.0,598.3 L408.5,597.1 L409.0,595.8 L409.5,594.4 L409.6,594.0 L410.0,592.8 L410.5,590.6 L411.0,588.9 L411.3,588.5 L411.5,589.0 L412.0,592.6 L412.4,595.0 L412.5,595.6 L413.0,597.6 L413.5,599.1 L413.9,600.0 L414.0,600.2 L414.5,601.0 L415.0,601.7 L415.5,602.2 L416.0,602.5 L416.0,602.5 L416.5,602.6 L417.0,602.7 L417.5,602.8 L418.0,602.9 L418.5,602.9 L419.0,603.0 L419.5,603.0 L420.0,603.0 L420.5,603.0 L421.0,603.0 L421.5,603.0 L422.0,603.0 L422.5,603.0 L423.0,603.0 L423.5,603.0 L424.0,603.0 L424.5,603.0 L425.0,603.0 L425.5,603.0 L426.0,603.0 L426.5,603.0 L427.0,603.0 L427.5,603.0 L428.0,603.0 L428.5,602.9 L429.0,602.7 L429.5,602.3 L430.0,601.9 L430.5,601.5 L431.0,600.9 L431.5,600.2 L432.0,599.6 L432.3,599.5 L432.5,599.6 L433.0,600.1 L433.5,600.9 L434.0,601.5 L434.5,601.9 L435.0,602.2 L435.5,602.5 L436.0,602.8 L436.5,602.9 L437.0,603.0 L437.5,603.0 L438.0,603.0 L438.5,602.9 L439.0,602.9 L439.5,602.8 L440.0,602.7 L440.5,602.6 L441.0,602.5 L441.0,602.5 L441.5,602.3 L442.0,602.0 L442.5,601.7 L443.0,601.2 L443.5,600.6 L444.0,600.0 L444.0,600.0 L444.5,599.2 L445.0,598.2 L445.5,596.8 L446.0,595.2 L446.0,595.0 L446.5,593.1 L447.0,590.1 L447.5,586.1 L447.6,585.0 L448.0,579.5 L448.5,568.8 L448.6,565.0 L449.0,550.3 L449.5,533.5 L450.0,553.9 L450.4,570.0 L450.5,573.1 L451.0,580.8 L451.4,585.0 L451.5,586.0 L452.0,590.4 L452.5,593.9 L453.0,596.0 L453.0,596.1 L453.5,597.5 L454.0,598.5 L454.5,599.4 L455.0,600.0 L455.0,600.0 L455.5,600.6 L456.0,601.2 L456.5,601.7 L457.0,602.1 L457.5,602.4 L458.0,602.5 L458.5,602.5 L459.0,602.5 L459.5,602.5 L460.0,602.5 L460.5,602.5 L461.0,602.5 L461.5,602.3 L462.0,601.8 L462.5,601.2 L463.0,600.5 L463.5,599.6 L464.0,598.5 L464.5,597.7 L464.8,597.5 L465.0,597.6 L465.5,598.6 L466.0,600.0 L466.5,601.0 L467.0,601.5 L467.5,601.9 L468.0,602.0 L468.5,601.9 L469.0,601.8 L469.5,601.6 L470.0,601.5 L470.5,601.7 L471.0,602.2 L471.5,602.8 L472.0,603.0 L472.5,603.0 L473.0,603.0 L473.5,603.0 L474.0,603.0 L474.5,603.0 L475.0,603.0 L475.5,603.0 L476.0,603.0 L476.5,603.0 L477.0,603.0 L477.5,602.9 L478.0,602.9 L478.5,602.8 L479.0,602.7 L479.5,602.6 L480.0,602.5 L480.0,602.5 L480.5,602.3 L481.0,602.0 L481.5,601.6 L482.0,601.0 L482.0,601.0 L482.5,600.0 L483.0,598.1 L483.5,595.6 L483.6,595.0 L484.0,592.0 L484.5,586.6 L484.6,585.0 L485.0,580.0 L485.5,573.8 L485.6,573.5 L486.0,578.6 L486.4,585.0 L486.5,586.9 L487.0,592.8 L487.4,596.0 L487.5,596.5 L488.0,598.6 L488.5,600.1 L489.0,601.0 L489.0,601.0 L489.5,601.8 L490.0,602.4 L490.5,602.8 L491.0,603.0 L491.5,603.0 L492.0,602.9 L492.5,602.8 L493.0,602.7 L493.5,602.5 L494.0,602.2 L494.5,601.7 L495.0,601.2 L495.5,601.0 L496.0,601.2 L496.5,601.8 L497.0,602.3 L497.5,602.5 L498.0,602.3 L498.5,601.8 L499.0,601.1 L499.5,600.4 L500.0,599.8 L500.5,599.5 L500.6,599.5 L501.0,599.7 L501.5,600.5 L502.0,601.5 L502.5,602.5 L502.9,603.0 L503.0,603.2 L503.5,603.8 L504.0,604.3 L504.5,604.9 L505.0,605.3 L505.5,605.7 L505.9,606.0 L506.0,606.0 L506.5,606.3 L507.0,606.6 L507.5,606.8 L508.0,607.0 L508.5,607.2 L509.0,607.4 L509.5,607.5 L510.0,607.5 L510.5,607.5 L511.0,607.5 L511.5,607.5 L512.0,607.5 L512.5,607.5 L513.0,607.5 L513.5,607.5 L514.0,607.5 L514.5,607.5 L515.0,607.5 L515.5,607.5 L516.0,607.5 L516.5,607.4 L517.0,607.0 L517.5,606.5 L518.0,605.9 L518.5,605.3 L519.0,604.8 L519.5,604.6 L519.8,604.5 L520.0,604.6 L520.5,605.1 L521.0,606.0 L521.5,606.7 L521.9,607.0 L522.0,607.0 L522.5,607.2 L523.0,607.2 L523.5,607.3 L524.0,607.4 L524.5,607.4 L524.9,607.5 L525.0,607.5 L525.5,607.7 L526.0,607.8 L526.5,608.0 L527.0,608.2 L527.5,608.4 L527.9,608.5 L528.0,608.5 L528.5,608.7 L529.0,608.8 L529.5,609.0 L530.0,609.1 L530.5,609.2 L531.0,609.4 L531.5,609.5 L532.0,609.6 L532.5,609.7 L533.0,609.8 L533.5,609.9 L534.0,610.0 L534.0,610.0 L534.5,610.1 L535.0,610.2 L535.5,610.3 L536.0,610.3 L536.5,610.4 L537.0,610.5 L537.5,610.5 L538.0,610.5 L538.5,610.4 L539.0,610.2 L539.5,610.0 L540.0,609.8 L540.5,609.6 L541.0,609.5 L541.5,609.6 L542.0,609.8 L542.5,610.0 L543.0,610.2 L543.5,610.4 L544.0,610.5 L544.5,610.5 L545.0,610.4 L545.5,610.4 L546.0,610.3 L546.5,610.1 L547.0,610.0 L547.5,609.7 L548.0,609.2 L548.5,608.6 L549.0,607.9 L549.5,607.2 L550.0,606.6 L550.5,606.2 L551.0,606.0 L551.5,606.2 L552.0,606.9 L552.5,607.7 L553.0,608.4 L553.5,609.0 L554.0,609.4 L554.5,609.8 L555.0,610.2 L555.5,610.4 L556.0,610.5 L556.5,610.5 L557.0,610.4 L557.5,610.3 L558.0,610.2 L558.5,610.1 L559.0,610.0 L559.5,609.8 L560.0,609.5 L560.5,609.2 L561.0,608.8 L561.5,608.6 L562.0,608.5 L562.5,608.8 L563.0,609.4 L563.5,610.0 L564.0,610.5 L564.5,610.8 L565.0,611.1 L565.5,611.3 L566.0,611.4 L566.5,611.5 L567.0,611.2 L567.5,610.6 L568.0,609.8 L568.5,609.0 L569.0,608.2 L569.5,607.4 L570.0,607.0 L570.5,607.5 L571.0,608.7 L571.5,609.9 L571.9,610.5 L572.0,610.7 L572.5,611.2 L573.0,611.7 L573.5,612.1 L574.0,612.5 L574.5,612.8 L574.9,613.0 L575.0,613.0 L575.5,613.2 L576.0,613.4 L576.5,613.5 L577.0,613.6 L577.5,613.7 L578.0,613.8 L578.5,613.9 L579.0,614.0 L579.0,614.0 L579.5,614.1 L580.0,614.2 L580.5,614.3 L581.0,614.3 L581.5,614.4 L582.0,614.5 L582.5,614.5 L583.0,614.5 L583.5,614.5 L584.0,614.4 L584.5,614.3 L585.0,614.1 L585.5,613.9 L586.0,613.8 L586.5,613.6 L587.0,613.5 L587.5,613.4 L588.0,613.3 L588.5,613.3 L589.0,613.2 L589.5,613.1 L590.0,613.0 L590.5,612.8 L591.0,612.6 L591.5,612.4 L592.0,612.2 L592.5,612.1 L593.0,612.0 L593.5,612.1 L594.0,612.3 L594.5,612.6 L595.0,612.9 L595.5,613.2 L596.0,613.5 L596.5,613.7 L597.0,613.9 L597.5,614.1 L598.0,614.3 L598.5,614.5 L599.0,614.5 L599.5,614.4 L600.0,614.2 L600.5,614.0 L601.0,613.8 L601.5,613.6 L602.0,613.5 L602.5,613.6 L603.0,613.8 L603.5,614.1 L604.0,614.5 L604.5,614.8 L605.0,615.0 L605.5,615.2 L606.0,615.3 L606.5,615.5 L607.0,615.6 L607.5,615.7 L608.0,615.8 L608.5,615.9 L609.0,616.0 L609.5,616.1 L610.0,616.1 L610.5,616.2 L611.0,616.2 L611.5,616.3 L612.0,616.3 L612.5,616.4 L613.0,616.5 L613.5,616.7 L614.0,616.9 L614.5,617.2 L615.0,617.5 L615.5,617.8 L616.0,618.1 L616.5,618.3 L617.0,618.5 L617.5,618.6 L618.0,618.7 L618.5,618.8 L619.0,618.9 L619.5,618.9 L620.0,619.0 L620.5,619.0 L621.0,619.0 L621.5,619.0 L622.0,618.9 L622.5,618.9 L623.0,618.8 L623.5,618.6 L624.0,618.5 L624.0,618.5 L624.5,618.3 L625.0,617.9 L625.5,617.4 L626.0,616.8 L626.5,616.2 L626.6,616.0 L627.0,615.4 L627.5,614.4 L628.0,613.4 L628.5,612.3 L628.6,612.0 L629.0,611.2 L629.5,610.1 L630.0,609.2 L630.3,609.0 L630.5,609.1 L631.0,610.3 L631.5,612.0 L631.9,613.0 L632.0,613.4 L632.5,614.6 L633.0,615.9 L633.5,616.9 L634.0,617.5 L634.0,617.5 L634.5,617.9 L635.0,618.2 L635.5,618.4 L636.0,618.5 L636.5,618.3 L637.0,617.9 L637.5,617.3 L638.0,616.7 L638.1,616.5 L638.5,615.9 L639.0,614.7 L639.5,613.7 L639.6,613.5 L640.0,613.1 L640.5,612.7 L641.0,612.5 L641.5,612.7 L642.0,613.2 L642.5,613.8 L643.0,614.0 L643.5,613.9 L644.0,613.8 L644.5,613.6 L645.0,613.5 L645.5,613.8 L646.0,614.5 L646.5,615.4 L646.9,616.0 L647.0,616.2 L647.5,617.2 L648.0,618.2 L648.5,619.0 L648.9,619.5 L649.0,619.6 L649.5,620.1 L650.0,620.5 L650.5,620.9 L651.0,621.2 L651.5,621.4 L652.0,621.5 L652.0,621.5 L652.5,621.6 L653.0,621.7 L653.5,621.7 L654.0,621.8 L654.5,621.9 L655.0,621.9 L655.5,622.0 L656.0,622.0 L656.5,622.0 L657.0,622.0 L657.5,622.0 L658.0,622.0 L658.5,621.9 L659.0,621.9 L659.5,621.8 L660.0,621.7 L660.5,621.6 L661.0,621.5 L661.5,621.3 L662.0,620.9 L662.5,620.5 L663.0,620.1 L663.5,619.7 L664.0,619.5 L664.5,619.4 L665.0,619.3 L665.5,619.1 L666.0,619.1 L666.5,619.0 L667.0,619.0 L667.5,619.1 L668.0,619.2 L668.5,619.4 L669.0,619.6 L669.5,619.8 L670.0,620.0 L670.5,620.1 L671.0,620.2 L671.5,620.3 L672.0,620.4 L672.5,620.5 L673.0,620.5 L673.5,620.5 L674.0,620.4 L674.5,620.3 L675.0,620.1 L675.5,620.0 L676.0,619.8 L676.5,619.5 L677.0,619.1 L677.5,618.7 L678.0,618.3 L678.5,618.1 L679.0,618.0 L679.5,618.2 L680.0,618.7 L680.5,619.4 L681.0,620.0 L681.5,620.5 L682.0,620.9 L682.5,621.2 L683.0,621.6 L683.5,621.8 L684.0,622.0 L684.5,622.1 L685.0,622.2 L685.5,622.3 L686.0,622.4 L686.5,622.4 L687.0,622.5 L687.5,622.5 L688.0,622.5 L688.5,622.3 L689.0,622.2 L689.5,622.0 L690.0,621.8 L690.5,621.6 L691.0,621.5 L691.0,621.5 L691.5,621.4 L692.0,621.4 L692.5,621.3 L693.0,621.3 L693.5,621.2 L694.0,621.2 L694.5,621.1 L695.0,621.0 L695.0,621.0 L695.5,620.8 L696.0,620.4 L696.5,619.9 L697.0,619.1 L697.1,619.0 L697.5,617.9 L698.0,615.8 L698.5,613.6 L698.6,613.0 L699.0,611.5 L699.5,609.2 L700.0,607.3 L700.5,606.5 L701.0,607.1 L701.5,608.5 L702.0,610.1 L702.4,611.0 L702.5,611.3 L703.0,612.4 L703.5,613.3 L704.0,614.1 L704.4,614.5 L704.5,614.6 L705.0,614.9 L705.5,615.1 L706.0,615.3 L706.4,615.5 L706.5,615.6 L707.0,616.0 L707.5,616.6 L708.0,617.1 L708.5,617.6 L709.0,618.0 L709.0,618.0 L709.5,618.4 L710.0,618.7 L710.5,619.0 L711.0,619.3 L711.5,619.4 L712.0,619.5 L712.5,619.5 L713.0,619.4 L713.5,619.3 L714.0,619.2 L714.5,619.2 L715.0,619.1 L715.5,619.0 L716.0,619.0 L716.5,619.1 L717.0,619.2 L717.5,619.5 L718.0,619.8 L718.5,620.0 L719.0,620.3 L719.5,620.4 L720.0,620.5 L720.5,620.5 L721.0,620.4 L721.5,620.3 L722.0,620.2 L722.5,620.2 L723.0,620.1 L723.5,620.0 L724.0,620.0 L724.5,620.0 L725.0,620.2 L725.5,620.3 L726.0,620.5 L726.5,620.7 L727.0,620.8 L727.5,621.0 L728.0,621.0 L728.5,620.9 L729.0,620.7 L729.5,620.5 L730.0,620.1 L730.5,619.8 L731.0,619.5 L731.5,619.2 L732.0,618.8 L732.5,618.5 L733.0,618.1 L733.5,617.8 L734.0,617.5 L734.5,617.3 L735.0,617.0 L735.5,616.8 L736.0,616.7 L736.5,616.5 L737.0,616.5 L737.5,616.5 L738.0,616.5 L738.5,616.5 L739.0,616.5 L739.5,616.5 L740.0,616.5 L740.5,616.5 L741.0,616.5 L741.5,616.5 L742.0,616.6 L742.5,616.8 L743.0,616.9 L743.5,617.0 L744.0,617.0 L744.5,616.8 L745.0,616.4 L745.5,615.9 L746.0,615.3 L746.5,614.8 L747.0,614.5 L747.5,614.3 L748.0,614.2 L748.5,614.0 L749.0,614.0 L749.5,614.2 L750.0,614.7 L750.5,615.3 L751.0,615.8 L751.5,616.0 L752.0,616.0 L752.5,615.9 L753.0,615.8 L753.5,615.8 L754.0,615.7 L754.5,615.6 L755.0,615.5 L755.5,615.4 L756.0,615.4 L756.5,615.4 L757.0,615.3 L757.5,615.3 L758.0,615.2 L758.5,615.2 L759.0,615.1 L759.5,615.1 L760.0,615.0 L760.5,614.9 L761.0,614.8 L761.5,614.7 L762.0,614.6 L762.5,614.4 L763.0,614.3 L763.5,614.1 L764.0,614.0 L764.5,613.9 L765.0,613.7 L765.5,613.6 L766.0,613.4 L766.5,613.2 L767.0,613.0 L767.5,612.8 L768.0,612.5 L768.5,612.1 L769.0,611.8 L769.5,611.4 L770.0,611.0 L770.5,610.5 L771.0,609.9 L771.5,609.3 L772.0,609.0 L772.5,608.8 L773.0,608.6 L773.5,608.5 L774.0,608.5" fill="none" stroke="#ca161e" stroke-width="2.0" stroke-linejoin="round" stroke-linecap="butt"/>
<path d="M1075.5,316.0 L1076.0,316.0 L1076.5,315.9 L1077.0,315.8 L1077.5,315.7 L1078.0,315.5 L1078.5,315.3 L1079.0,315.0 L1079.5,314.6 L1080.0,314.3 L1080.3,314.0 L1080.5,313.8 L1081.0,312.3 L1081.5,310.1 L1081.9,308.0 L1082.0,307.6 L1082.5,304.1 L1082.8,303.0 L1083.0,303.7 L1083.5,308.3 L1083.6,309.0 L1084.0,310.9 L1084.5,312.9 L1085.0,314.3 L1085.1,314.5 L1085.5,314.9 L1086.0,315.5 L1086.5,315.9 L1087.0,316.2 L1087.5,316.4 L1088.0,316.5 L1088.0,316.5 L1088.5,316.5 L1089.0,316.6 L1089.5,316.6 L1090.0,316.6 L1090.5,316.6 L1091.0,316.6 L1091.5,316.7 L1092.0,316.7 L1092.5,316.7 L1093.0,316.7 L1093.5,316.7 L1094.0,316.7 L1094.5,316.8 L1095.0,316.8 L1095.5,316.8 L1096.0,316.8 L1096.5,316.8 L1097.0,316.8 L1097.5,316.8 L1098.0,316.8 L1098.5,316.8 L1099.0,316.8 L1099.5,316.8 L1100.0,316.8 L1100.5,316.8 L1101.0,316.8 L1101.5,316.8 L1102.0,316.8 L1102.5,316.8 L1103.0,316.8 L1103.5,316.8 L1104.0,316.8 L1104.5,316.8 L1105.0,316.8 L1105.5,316.8 L1106.0,316.8 L1106.5,316.8 L1107.0,316.8 L1107.5,316.8 L1108.0,316.8 L1108.5,316.8 L1109.0,316.8 L1109.5,316.8 L1110.0,316.8 L1110.5,316.8 L1111.0,316.7 L1111.5,316.6 L1112.0,316.4 L1112.5,316.3 L1113.0,316.3 L1113.5,316.4 L1114.0,316.6 L1114.5,316.8 L1115.0,316.9 L1115.5,316.9 L1116.0,316.8 L1116.5,316.6 L1117.0,316.5 L1117.5,316.3 L1118.0,316.1 L1118.5,315.8 L1119.0,315.7 L1119.5,315.5 L1120.0,315.4 L1120.5,315.3 L1121.0,315.2 L1121.5,315.2 L1122.0,315.1 L1122.5,315.0 L1123.0,315.0 L1123.5,314.9 L1124.0,314.9 L1124.5,314.8 L1125.0,314.8 L1125.5,314.8 L1126.0,314.7 L1126.5,314.7 L1127.0,314.6 L1127.5,314.6 L1128.0,314.6 L1128.5,314.5 L1129.0,314.5 L1129.5,314.5 L1130.0,314.4 L1130.5,314.4 L1131.0,314.4 L1131.5,314.4 L1132.0,314.3 L1132.5,314.3 L1133.0,314.3 L1133.5,314.2 L1134.0,314.2 L1134.5,314.1 L1135.0,314.1 L1135.5,314.1 L1136.0,314.0 L1136.5,314.0 L1137.0,313.9 L1137.5,313.8 L1138.0,313.8 L1138.5,313.7 L1139.0,313.7 L1139.5,313.6 L1140.0,313.6 L1140.5,313.5 L1141.0,313.4 L1141.5,313.4 L1142.0,313.3 L1142.5,313.2 L1143.0,313.2 L1143.5,313.1 L1144.0,313.0 L1144.5,313.0 L1145.0,312.9 L1145.5,312.8 L1146.0,312.8 L1146.5,312.7 L1147.0,312.7 L1147.5,312.6 L1148.0,312.5 L1148.5,312.5 L1149.0,312.4 L1149.5,312.3 L1150.0,312.2 L1150.5,312.0 L1151.0,311.8 L1151.5,311.5 L1152.0,311.3 L1152.5,311.1 L1153.0,311.0 L1153.5,311.1 L1154.0,311.5 L1154.5,311.9 L1155.0,312.4 L1155.5,312.8 L1156.0,313.0 L1156.5,313.1 L1157.0,313.1 L1157.5,313.2 L1158.0,313.3 L1158.5,313.3 L1159.0,313.4 L1159.5,313.4 L1160.0,313.4 L1160.5,313.5 L1161.0,313.5 L1161.5,313.5 L1162.0,313.5 L1162.5,313.5 L1163.0,313.5 L1163.5,313.4 L1164.0,313.4 L1164.5,313.3 L1165.0,313.2 L1165.5,313.1 L1166.0,313.0 L1166.5,312.9 L1167.0,312.8 L1167.5,312.6 L1168.0,312.5 L1168.5,312.3 L1169.0,312.0 L1169.5,311.7 L1170.0,311.3 L1170.5,311.0 L1171.0,310.6 L1171.5,310.1 L1172.0,309.7 L1172.5,309.5 L1173.0,309.7 L1173.5,310.1 L1174.0,310.6 L1174.5,311.1 L1175.0,311.5 L1175.5,311.8 L1176.0,312.1 L1176.5,312.4 L1177.0,312.7 L1177.5,312.9 L1178.0,313.0 L1178.5,313.1 L1179.0,313.1 L1179.5,313.2 L1180.0,313.2 L1180.5,313.3 L1181.0,313.3 L1181.5,313.4 L1182.0,313.4 L1182.5,313.4 L1183.0,313.5 L1183.5,313.5 L1184.0,313.5 L1184.5,313.5 L1185.0,313.5 L1185.5,313.5 L1186.0,313.5 L1186.5,313.5 L1187.0,313.5 L1187.5,313.5 L1188.0,313.4 L1188.5,313.4 L1189.0,313.4 L1189.5,313.4 L1190.0,313.4 L1190.5,313.3 L1191.0,313.3 L1191.5,313.3 L1192.0,313.2 L1192.5,313.2 L1193.0,313.2 L1193.5,313.1 L1194.0,313.1 L1194.5,313.0 L1195.0,313.0 L1195.1,313.0 L1195.5,313.0 L1196.0,312.9 L1196.5,312.8 L1197.0,312.8 L1197.5,312.7 L1198.0,312.6 L1198.5,312.5 L1199.0,312.4 L1199.5,312.2 L1200.0,312.1 L1200.3,312.0 L1200.5,311.9 L1201.0,311.7 L1201.5,311.4 L1202.0,311.0 L1202.5,310.6 L1203.0,310.0 L1203.5,309.4 L1203.8,309.0 L1204.0,308.4 L1204.5,306.6 L1205.0,304.5 L1205.5,303.0 L1205.5,302.9 L1206.0,301.9 L1206.4,301.5 L1206.5,301.6 L1207.0,303.7 L1207.5,306.0 L1207.5,306.1 L1208.0,307.6 L1208.5,308.9 L1209.0,310.0 L1209.5,310.8 L1209.7,311.0 L1210.0,311.2 L1210.5,311.6 L1211.0,311.9 L1211.5,312.1 L1212.0,312.3 L1212.5,312.5 L1213.0,312.5 L1213.5,312.5 L1214.0,312.4 L1214.5,312.2 L1215.0,311.9 L1215.5,311.6 L1216.0,311.3 L1216.4,311.0 L1216.5,310.9 L1217.0,309.9 L1217.5,308.5 L1218.0,306.9 L1218.3,306.0 L1218.5,305.5 L1219.0,304.3 L1219.5,305.8 L1220.0,308.0 L1220.0,308.0 L1220.5,309.2 L1221.0,310.2 L1221.5,310.9 L1222.0,311.5 L1222.0,311.5 L1222.5,311.8 L1223.0,312.1 L1223.5,312.3 L1224.0,312.5 L1224.5,312.6 L1224.8,312.7 L1225.0,312.7 L1225.5,312.9 L1226.0,313.0 L1226.5,313.1 L1227.0,313.2 L1227.5,313.3 L1228.0,313.3 L1228.5,313.4 L1229.0,313.5 L1229.5,313.5 L1230.0,313.5 L1230.5,313.5 L1231.0,313.5 L1231.5,313.5 L1232.0,313.5 L1232.5,313.5 L1233.0,313.5 L1233.5,313.5 L1234.0,313.5 L1234.5,313.5 L1235.0,313.5 L1235.5,313.5 L1236.0,313.5 L1236.5,313.5 L1237.0,313.5 L1237.5,313.5 L1238.0,313.5 L1238.5,313.5 L1239.0,313.5 L1239.5,313.5 L1240.0,313.5 L1240.5,313.5 L1241.0,313.3 L1241.5,313.2 L1242.0,313.0 L1242.5,312.7 L1243.0,312.5 L1243.5,312.2 L1244.0,312.0 L1244.0,312.0 L1244.5,311.8 L1245.0,311.6 L1245.5,311.4 L1246.0,311.1 L1246.5,310.9 L1247.0,310.5 L1247.1,310.5 L1247.5,310.2 L1248.0,309.9 L1248.5,309.5 L1249.0,308.9 L1249.5,308.2 L1249.6,308.0 L1250.0,307.1 L1250.5,305.1 L1251.0,302.3 L1251.3,300.0 L1251.5,298.8 L1252.0,293.3 L1252.5,285.4 L1253.0,275.0 L1253.0,274.9 L1253.5,248.9 L1254.0,229.0 L1254.5,248.4 L1255.0,274.9 L1255.0,275.0 L1255.5,286.9 L1256.0,294.8 L1256.0,295.0 L1256.5,299.5 L1257.0,303.3 L1257.5,305.9 L1257.8,307.0 L1258.0,307.4 L1258.5,308.5 L1259.0,309.4 L1259.5,310.1 L1260.0,310.7 L1260.5,311.1 L1260.9,311.5 L1261.0,311.5 L1261.5,311.9 L1262.0,312.2 L1262.5,312.6 L1263.0,312.8 L1263.5,313.1 L1264.0,313.3 L1264.5,313.4 L1265.0,313.5 L1265.0,313.5 L1265.5,313.6 L1266.0,313.6 L1266.5,313.7 L1267.0,313.7 L1267.5,313.8 L1268.0,313.8 L1268.5,313.9 L1269.0,313.9 L1269.5,313.9 L1270.0,314.0 L1270.5,314.0 L1271.0,314.0 L1271.5,314.0 L1272.0,314.0 L1272.5,314.0 L1273.0,313.9 L1273.5,313.8 L1274.0,313.7 L1274.5,313.6 L1275.0,313.4 L1275.5,313.2 L1276.0,313.0 L1276.1,313.0 L1276.5,312.7 L1277.0,312.3 L1277.5,311.8 L1278.0,311.2 L1278.5,310.7 L1279.0,310.2 L1279.2,310.0 L1279.5,309.8 L1280.0,309.5 L1280.5,309.2 L1281.0,309.0 L1281.5,308.7 L1282.0,308.3 L1282.3,308.0 L1282.5,307.8 L1283.0,307.1 L1283.5,306.1 L1284.0,304.9 L1284.5,303.2 L1285.0,301.2 L1285.2,300.0 L1285.5,297.9 L1286.0,290.8 L1286.4,285.0 L1286.5,283.6 L1287.0,276.5 L1287.2,275.5 L1287.5,277.8 L1288.0,286.0 L1288.1,287.0 L1288.5,292.9 L1289.0,299.5 L1289.4,303.0 L1289.5,303.5 L1290.0,305.9 L1290.5,307.8 L1291.0,309.3 L1291.5,310.4 L1291.9,311.0 L1292.0,311.2 L1292.5,311.8 L1293.0,312.4 L1293.5,312.8 L1294.0,313.2 L1294.5,313.4 L1295.0,313.5 L1295.5,313.5 L1296.0,313.5 L1296.5,313.5 L1297.0,313.5 L1297.5,313.5 L1298.0,313.5 L1298.5,313.5 L1299.0,313.5 L1299.5,313.5 L1300.0,313.5 L1300.5,313.5 L1301.0,313.5 L1301.5,313.4 L1302.0,313.4 L1302.5,313.3 L1303.0,313.2 L1303.5,313.1 L1304.0,313.0 L1304.5,312.9 L1305.0,312.8 L1305.0,312.8 L1305.5,312.7 L1306.0,312.6 L1306.5,312.4 L1307.0,312.3 L1307.5,312.1 L1308.0,312.0 L1308.5,311.8 L1309.0,311.5 L1309.5,311.3 L1310.0,311.0 L1310.0,311.0 L1310.5,310.7 L1311.0,310.3 L1311.5,309.8 L1312.0,309.2 L1312.5,308.5 L1313.0,307.6 L1313.1,307.5 L1313.5,306.2 L1314.0,303.8 L1314.5,300.8 L1314.6,300.0 L1315.0,297.1 L1315.5,292.0 L1316.0,285.9 L1316.3,282.0 L1316.5,279.6 L1317.0,273.9 L1317.5,263.2 L1317.6,258.0 L1318.0,186.0 L1318.0,230.0 L1318.1,140.0 L1318.3,105.0 L1318.5,96.9 L1319.0,85.0 L1319.0,85.3 L1319.5,105.0 L1320.0,140.0 L1320.5,163.7 L1320.7,186.0 L1320.7,230.0 L1321.0,244.4 L1321.5,254.2 L1321.8,258.0 L1322.0,263.2 L1322.5,270.0 L1323.0,267.1 L1323.5,259.6 L1324.0,250.0 L1324.0,249.0 L1324.5,217.3 L1324.9,200.0 L1325.0,200.8 L1325.5,219.9 L1326.0,240.0 L1326.0,240.7 L1326.5,251.6 L1327.0,259.9 L1327.2,262.0 L1327.5,266.9 L1328.0,272.7 L1328.3,274.0 L1328.5,273.5 L1329.0,268.7 L1329.5,260.8 L1329.8,255.0 L1330.0,252.7 L1330.5,244.9 L1330.8,230.0 L1330.8,188.0 L1331.0,172.2 L1331.5,152.0 L1331.8,150.3 L1332.0,151.9 L1332.5,167.4 L1332.9,188.0 L1333.0,196.9 L1333.3,230.0 L1333.5,246.5 L1333.6,253.0 L1334.0,261.0 L1334.5,268.8 L1335.0,274.1 L1335.5,278.8 L1335.6,280.0 L1336.0,284.0 L1336.5,288.9 L1337.0,293.0 L1337.3,295.0 L1337.5,295.9 L1338.0,298.2 L1338.5,300.1 L1339.0,301.8 L1339.4,303.0 L1339.5,303.2 L1340.0,304.6 L1340.5,305.9 L1341.0,306.9 L1341.5,307.5 L1341.5,307.5 L1342.0,307.8 L1342.5,307.9 L1343.0,308.0 L1343.5,306.8 L1344.0,303.7 L1344.4,300.0 L1344.5,299.0 L1345.0,287.1 L1345.3,280.0 L1345.5,272.9 L1345.8,267.0 L1346.0,269.0 L1346.5,282.6 L1346.6,285.0 L1347.0,293.6 L1347.4,300.0 L1347.5,300.7 L1348.0,303.7 L1348.5,305.9 L1349.0,307.3 L1349.3,308.0 L1349.5,308.4 L1350.0,309.3 L1350.5,310.1 L1351.0,310.7 L1351.5,311.2 L1352.0,311.5 L1352.0,311.5 L1352.5,311.8 L1353.0,312.0 L1353.5,312.2 L1354.0,312.4 L1354.5,312.5 L1355.0,312.5 L1355.5,312.5 L1356.0,312.4 L1356.5,312.3 L1357.0,312.1 L1357.5,311.9 L1358.0,311.7 L1358.3,311.5 L1358.5,311.2 L1359.0,310.0 L1359.5,308.2 L1359.9,307.0 L1360.0,306.5 L1360.5,304.6 L1360.6,304.5 L1361.0,306.0 L1361.5,308.9 L1361.5,309.0 L1362.0,310.1 L1362.5,311.0 L1363.0,311.6 L1363.5,312.0 L1363.5,312.0 L1364.0,312.3 L1364.5,312.5 L1365.0,312.7 L1365.5,312.8 L1366.0,312.9 L1366.5,313.0 L1367.0,313.1 L1367.5,313.2 L1367.7,313.2 L1368.0,313.2 L1368.5,313.3 L1369.0,313.3 L1369.5,313.3 L1370.0,313.3 L1370.5,313.3 L1371.0,313.4 L1371.5,313.4 L1372.0,313.4 L1372.5,313.4 L1373.0,313.4 L1373.5,313.4 L1374.0,313.5 L1374.5,313.5 L1374.8,313.5 L1375.0,313.5 L1375.5,313.5 L1376.0,313.6 L1376.5,313.6 L1377.0,313.7 L1377.5,313.8 L1378.0,313.8 L1378.5,313.9 L1379.0,314.0 L1379.5,314.0 L1380.0,314.1 L1380.5,314.2 L1381.0,314.2 L1381.5,314.3 L1382.0,314.3 L1382.5,314.4 L1383.0,314.4 L1383.5,314.5 L1384.0,314.5 L1384.5,314.5 L1385.0,314.5 L1385.5,314.5 L1386.0,314.5 L1386.5,314.5 L1387.0,314.4 L1387.5,314.4 L1388.0,314.4 L1388.5,314.3 L1389.0,314.3 L1389.5,314.3 L1390.0,314.2 L1390.5,314.2 L1391.0,314.1 L1391.5,314.0 L1392.0,314.0 L1392.5,313.9 L1393.0,313.8 L1393.5,313.8 L1394.0,313.7 L1394.5,313.6 L1395.0,313.5 L1395.2,313.5 L1395.5,313.5 L1396.0,313.4 L1396.5,313.3 L1397.0,313.2 L1397.5,313.1 L1398.0,313.0 L1398.5,312.8 L1399.0,312.7 L1399.5,312.5 L1400.0,312.3 L1400.5,312.0 L1400.5,312.0 L1401.0,311.5 L1401.5,310.6 L1402.0,309.4 L1402.5,308.0 L1402.5,308.0 L1403.0,305.4 L1403.5,303.5 L1404.0,304.1 L1404.5,305.4 L1405.0,306.0 L1405.5,305.4 L1406.0,303.7 L1406.5,301.3 L1406.7,300.0 L1407.0,298.2 L1407.5,292.9 L1408.0,285.8 L1408.4,280.0 L1408.5,277.1 L1409.0,261.7 L1409.5,252.5 L1410.0,266.4 L1410.4,280.0 L1410.5,283.0 L1411.0,293.5 L1411.5,300.0 L1411.5,300.2 L1412.0,303.9 L1412.5,306.7 L1413.0,308.5 L1413.3,309.0 L1413.5,309.3 L1414.0,309.7 L1414.5,310.1 L1415.0,310.3 L1415.3,310.5 L1415.5,310.6 L1416.0,310.8 L1416.5,311.0 L1417.0,311.1 L1417.5,311.3 L1417.9,311.5 L1418.0,311.6 L1418.5,311.9 L1419.0,312.4 L1419.5,312.9 L1420.0,313.3 L1420.5,313.7 L1420.9,314.0 L1421.0,314.0 L1421.5,314.2 L1422.0,314.5 L1422.5,314.7 L1423.0,314.9 L1423.5,315.0 L1424.0,315.2 L1424.5,315.3 L1425.0,315.4 L1425.5,315.5 L1426.0,315.5 L1426.5,315.5 L1427.0,315.5 L1427.5,315.4 L1428.0,315.4 L1428.5,315.3 L1429.0,315.2 L1429.5,315.1 L1430.0,315.0 L1430.1,315.0 L1430.5,314.8 L1431.0,314.4 L1431.5,313.7 L1432.0,312.9 L1432.5,312.0 L1432.5,311.9 L1433.0,310.1 L1433.5,307.2 L1433.9,305.0 L1434.0,303.9 L1434.5,299.7 L1434.6,299.5 L1435.0,301.7 L1435.4,305.0 L1435.5,305.5 L1436.0,308.4 L1436.5,310.8 L1436.9,312.0 L1437.0,312.2 L1437.5,313.1 L1438.0,313.9 L1438.5,314.5 L1439.0,315.0 L1439.5,315.3 L1439.8,315.5 L1440.0,315.6 L1440.5,315.8 L1441.0,316.0 L1441.5,316.3 L1442.0,316.4 L1442.5,316.6 L1443.0,316.7 L1443.5,316.8 L1444.0,316.9 L1444.5,317.0 L1445.0,317.0 L1445.5,317.0 L1446.0,317.0 L1446.5,317.0 L1447.0,317.0 L1447.5,317.0 L1448.0,317.0 L1448.5,317.0 L1449.0,317.0 L1449.5,317.0 L1450.0,317.0 L1450.5,317.0 L1451.0,316.9 L1451.5,316.7 L1452.0,316.5 L1452.5,316.3 L1453.0,316.0 L1453.5,315.7 L1454.0,315.3 L1454.4,315.0 L1454.5,314.9 L1455.0,314.3 L1455.5,313.4 L1456.0,312.3 L1456.5,311.0 L1456.5,311.0 L1457.0,308.1 L1457.5,306.0 L1458.0,308.1 L1458.5,311.0 L1458.5,311.0 L1459.0,312.5 L1459.5,313.8 L1460.0,314.8 L1460.5,315.5 L1460.5,315.5 L1461.0,316.1 L1461.5,316.6 L1462.0,317.0 L1462.5,317.4 L1463.0,317.7 L1463.5,317.9 L1463.9,318.0 L1464.0,318.0 L1464.5,318.1 L1465.0,318.2 L1465.5,318.3 L1466.0,318.4 L1466.5,318.4 L1467.0,318.5 L1467.5,318.5 L1468.0,318.5 L1468.5,318.5 L1469.0,318.4 L1469.5,318.4 L1470.0,318.3 L1470.5,318.1 L1471.0,318.0 L1471.5,317.8 L1472.0,317.6 L1472.3,317.5 L1472.5,317.4 L1473.0,317.0 L1473.5,316.5 L1474.0,315.8 L1474.5,315.0 L1474.5,315.0 L1475.0,313.3 L1475.5,312.0 L1476.0,313.8 L1476.5,316.0 L1476.5,316.0 L1477.0,316.7 L1477.5,317.2 L1478.0,317.6 L1478.5,317.9 L1479.0,318.0 L1479.5,317.9 L1480.0,317.8 L1480.5,317.6 L1481.0,317.3 L1481.5,316.9 L1482.0,316.5 L1482.0,316.5 L1482.5,316.0 L1483.0,315.1 L1483.5,314.0 L1484.0,312.5 L1484.2,312.0 L1484.5,310.8 L1485.0,308.2 L1485.5,304.7 L1486.0,300.1 L1486.0,300.0 L1486.5,292.0 L1487.0,280.0 L1487.0,279.9 L1487.5,258.1 L1488.0,243.0 L1488.5,261.4 L1488.8,275.0 L1489.0,280.4 L1489.5,292.4 L1490.0,300.0 L1490.0,300.1 L1490.5,304.7 L1491.0,308.2 L1491.5,310.7 L1491.8,312.0 L1492.0,312.6 L1492.5,314.2 L1493.0,315.5 L1493.5,316.5 L1494.0,317.0 L1494.0,317.0 L1494.5,317.3 L1495.0,317.6 L1495.5,317.8 L1496.0,318.0 L1496.5,318.0 L1497.0,318.0 L1497.5,317.8 L1498.0,317.6 L1498.5,317.3 L1499.0,317.0 L1499.1,317.0 L1499.5,316.6 L1500.0,315.9 L1500.5,315.0 L1501.0,313.8 L1501.3,313.0 L1501.5,312.3 L1502.0,309.9 L1502.5,306.3 L1503.0,301.7 L1503.2,300.0 L1503.5,293.9 L1503.8,288.0 L1504.0,286.2 L1504.5,283.0 L1505.0,289.4 L1505.0,290.0 L1505.5,299.9 L1505.5,300.0 L1506.0,304.6 L1506.5,307.8 L1507.0,309.0 L1507.5,308.2 L1508.0,306.8 L1508.5,306.0 L1509.0,307.6 L1509.5,310.0 L1509.5,310.0 L1510.0,311.7 L1510.5,313.3 L1511.0,314.7 L1511.5,315.7 L1511.7,316.0 L1512.0,316.3 L1512.5,316.7 L1513.0,317.0 L1513.5,317.3 L1514.0,317.4 L1514.5,317.5 L1515.0,317.2 L1515.5,316.3 L1516.0,315.0 L1516.5,313.4 L1516.6,313.0 L1517.0,311.4 L1517.5,308.4 L1518.0,304.0 L1518.5,298.2 L1518.5,298.0 L1519.0,285.4 L1519.4,270.0 L1519.5,267.3 L1520.0,243.0 L1520.3,236.0 L1520.5,237.9 L1521.0,251.8 L1521.1,255.0 L1521.5,270.7 L1521.8,280.0 L1522.0,284.7 L1522.5,293.0 L1523.0,298.8 L1523.1,300.0 L1523.5,302.8 L1524.0,306.1 L1524.5,308.5 L1524.9,310.0 L1525.0,310.2 L1525.5,311.6 L1526.0,312.6 L1526.5,313.0 L1527.0,311.5 L1527.5,308.0 L1527.8,305.0 L1528.0,303.3 L1528.5,294.9 L1529.0,285.0 L1529.0,284.9 L1529.5,271.5 L1530.0,263.0 L1530.5,271.0 L1530.9,280.0 L1531.0,282.6 L1531.5,293.0 L1531.8,298.0 L1532.0,299.4 L1532.5,303.0 L1533.0,305.7 L1533.5,307.9 L1533.8,309.0 L1534.0,309.7 L1534.5,311.5 L1535.0,312.9 L1535.5,313.5 L1536.0,312.3 L1536.5,309.2 L1537.0,305.0 L1537.0,305.0 L1537.5,296.7 L1537.8,290.0 L1538.0,286.1 L1538.5,277.0 L1539.0,283.1 L1539.4,290.0 L1539.5,292.1 L1540.0,300.7 L1540.4,305.0 L1540.5,306.0 L1541.0,309.1 L1541.5,311.3 L1542.0,313.1 L1542.3,314.0 L1542.5,314.4 L1543.0,315.7 L1543.5,316.6 L1544.0,317.0 L1544.5,316.4 L1545.0,314.8 L1545.5,312.6 L1546.0,310.0 L1546.5,305.9 L1547.0,300.2 L1547.5,295.0 L1547.5,295.0 L1548.0,289.9 L1548.5,287.0 L1549.0,291.6 L1549.4,297.0 L1549.5,298.7 L1550.0,305.7 L1550.2,308.0 L1550.5,309.4 L1551.0,311.6 L1551.5,313.3 L1552.0,314.6 L1552.2,315.0 L1552.5,315.8 L1553.0,316.9 L1553.5,317.9 L1554.0,318.6 L1554.4,319.0 L1554.5,319.0 L1555.0,319.3 L1555.5,319.5 L1556.0,319.7 L1556.5,319.9 L1557.0,320.0 L1557.5,320.0 L1558.0,319.9 L1558.5,319.5 L1559.0,319.0 L1559.5,318.4 L1560.0,317.7 L1560.2,317.5 L1560.5,317.0 L1561.0,316.0 L1561.5,314.7 L1562.0,313.0 L1562.5,310.8 L1562.7,310.0 L1563.0,307.0 L1563.5,300.1 L1563.9,295.0 L1564.0,293.8 L1564.5,288.3 L1564.7,287.5 L1565.0,290.1 L1565.5,299.1 L1565.6,300.0 L1566.0,305.0 L1566.5,310.1 L1566.9,313.0 L1567.0,313.4 L1567.5,315.4 L1568.0,317.1 L1568.5,318.4 L1569.0,319.4 L1569.3,320.0 L1569.5,320.2 L1570.0,320.9 L1570.5,321.5 L1571.0,322.0 L1571.5,322.4 L1572.0,322.5 L1572.5,322.4 L1573.0,322.2 L1573.5,321.9 L1574.0,321.6 L1574.5,321.3 L1575.0,321.0 L1575.5,320.8 L1576.0,320.5 L1576.5,320.2 L1577.0,320.1 L1577.5,320.0 L1578.0,320.2 L1578.5,320.6 L1579.0,321.2 L1579.5,321.7 L1580.0,322.0 L1580.5,322.1 L1581.0,322.2 L1581.5,322.3 L1582.0,322.4 L1582.5,322.4 L1583.0,322.5 L1583.5,322.5 L1584.0,322.5 L1584.5,322.5 L1585.0,322.3 L1585.5,322.1 L1586.0,321.8 L1586.5,321.5 L1587.0,321.1 L1587.2,321.0 L1587.5,320.7 L1588.0,320.1 L1588.5,319.3 L1589.0,318.2 L1589.5,316.7 L1589.7,316.0 L1590.0,314.0 L1590.5,308.4 L1590.8,306.0 L1591.0,304.3 L1591.3,303.0 L1591.5,303.6 L1592.0,308.1 L1592.1,309.0 L1592.5,312.8 L1592.9,316.0 L1593.0,316.1 L1593.5,317.3 L1594.0,318.2 L1594.5,318.8 L1595.0,319.2 L1595.4,319.5 L1595.5,319.6 L1596.0,319.9 L1596.5,320.1 L1597.0,320.3 L1597.5,320.5 L1598.0,320.5 L1598.5,320.5 L1599.0,320.4 L1599.5,320.2 L1600.0,320.0 L1600.5,319.8 L1601.0,319.6 L1601.2,319.5 L1601.5,319.3 L1602.0,319.0 L1602.5,318.6 L1603.0,318.0 L1603.5,317.3 L1604.0,316.5 L1604.2,316.0 L1604.5,315.2 L1605.0,312.4 L1605.3,311.0 L1605.5,310.5 L1606.0,309.5 L1606.5,310.9 L1607.0,313.0 L1607.0,313.0 L1607.5,314.5 L1608.0,315.9 L1608.5,316.9 L1608.5,317.0 L1609.0,317.6 L1609.5,318.1 L1610.0,318.6 L1610.5,318.9 L1611.0,319.0 L1611.5,318.9 L1612.0,318.5 L1612.5,318.1 L1613.0,317.5 L1613.5,316.3 L1614.0,314.8 L1614.5,314.0 L1615.0,314.1 L1615.5,314.4 L1616.0,314.8 L1616.5,315.0 L1617.0,315.1 L1617.5,315.2 L1618.0,315.3 L1618.5,315.3 L1619.0,315.4 L1619.5,315.4 L1620.0,315.5 L1620.5,315.6 L1621.0,315.6 L1621.5,315.7 L1622.0,315.7 L1622.5,315.8 L1623.0,315.8 L1623.5,315.9 L1624.0,316.0 L1624.5,316.1 L1625.0,316.3 L1625.5,316.6 L1626.0,316.8 L1626.5,317.1 L1627.0,317.3 L1627.5,317.4 L1628.0,317.5 L1628.5,317.4 L1629.0,317.3 L1629.5,317.1 L1630.0,316.8 L1630.5,316.5 L1631.0,316.1 L1631.1,316.0 L1631.5,315.7 L1632.0,315.1 L1632.5,314.3 L1633.0,313.3 L1633.5,312.1 L1633.5,312.0 L1634.0,310.4 L1634.5,308.0 L1635.0,305.0 L1635.0,305.0 L1635.5,299.4 L1636.0,295.5 L1636.5,299.6 L1637.0,305.0 L1637.0,305.0 L1637.5,307.3 L1638.0,309.1 L1638.5,310.4 L1638.9,311.0 L1639.0,311.1 L1639.5,311.4 L1639.8,311.5" fill="none" stroke="#000" stroke-width="2.1" stroke-linejoin="round" stroke-linecap="butt"/>
<path d="M1075.5,317.0 L1076.0,317.0 L1076.5,316.9 L1077.0,316.8 L1077.5,316.7 L1078.0,316.6 L1078.5,316.4 L1079.0,316.2 L1079.5,316.0 L1080.0,315.8 L1080.5,315.5 L1080.5,315.5 L1081.0,315.1 L1081.5,314.5 L1082.0,313.8 L1082.5,313.0 L1082.5,313.0 L1083.0,312.0 L1083.5,311.0 L1083.6,311.0 L1084.0,311.3 L1084.5,312.4 L1085.0,313.6 L1085.5,314.5 L1086.0,315.1 L1086.5,315.6 L1087.0,316.1 L1087.5,316.4 L1088.0,316.5 L1088.5,316.5 L1089.0,316.5 L1089.5,316.5 L1090.0,316.5 L1090.5,316.5 L1091.0,316.5 L1091.5,316.5 L1092.0,316.5 L1092.5,316.5 L1093.0,316.5 L1093.5,316.5 L1094.0,316.5 L1094.5,316.5 L1095.0,316.5 L1095.5,316.5 L1096.0,316.5 L1096.5,316.5 L1097.0,316.5 L1097.5,316.5 L1098.0,316.5 L1098.5,316.5 L1099.0,316.5 L1099.5,316.4 L1100.0,316.4 L1100.5,316.4 L1101.0,316.4 L1101.5,316.4 L1102.0,316.4 L1102.5,316.4 L1103.0,316.3 L1103.5,316.3 L1104.0,316.3 L1104.5,316.3 L1105.0,316.2 L1105.5,316.2 L1106.0,316.2 L1106.5,316.1 L1107.0,316.1 L1107.5,316.0 L1108.0,316.0 L1108.1,316.0 L1108.5,315.9 L1109.0,315.8 L1109.5,315.6 L1110.0,315.4 L1110.5,315.0 L1111.0,314.7 L1111.3,314.5 L1111.5,314.3 L1112.0,313.7 L1112.5,312.9 L1113.0,311.9 L1113.5,310.7 L1113.8,310.0 L1114.0,308.9 L1114.5,305.1 L1115.0,301.7 L1115.3,301.0 L1115.5,301.5 L1116.0,305.1 L1116.4,308.0 L1116.5,308.2 L1117.0,309.9 L1117.5,311.2 L1118.0,311.9 L1118.2,312.0 L1118.5,312.0 L1119.0,312.0 L1119.5,312.0 L1120.0,312.0 L1120.5,312.0 L1121.0,312.0 L1121.2,312.0 L1121.5,312.1 L1122.0,312.4 L1122.5,312.9 L1123.0,313.4 L1123.5,313.8 L1124.0,314.0 L1124.5,314.0 L1125.0,314.0 L1125.5,314.0 L1126.0,314.0 L1126.5,314.0 L1127.0,314.0 L1127.5,314.0 L1128.0,314.0 L1128.5,314.0 L1129.0,314.0 L1129.5,314.0 L1130.0,314.0 L1130.5,314.0 L1131.0,314.0 L1131.5,314.0 L1132.0,313.9 L1132.5,313.9 L1133.0,313.9 L1133.5,313.8 L1134.0,313.8 L1134.5,313.7 L1135.0,313.7 L1135.5,313.6 L1136.0,313.5 L1136.5,313.5 L1137.0,313.4 L1137.5,313.3 L1138.0,313.3 L1138.5,313.2 L1139.0,313.1 L1139.5,313.1 L1140.0,313.0 L1140.1,313.0 L1140.5,312.9 L1141.0,312.9 L1141.5,312.8 L1142.0,312.8 L1142.5,312.7 L1143.0,312.6 L1143.5,312.5 L1144.0,312.5 L1144.5,312.4 L1145.0,312.3 L1145.5,312.2 L1146.0,312.0 L1146.1,312.0 L1146.5,311.9 L1147.0,311.7 L1147.5,311.5 L1148.0,311.3 L1148.5,311.0 L1149.0,310.6 L1149.5,310.2 L1149.7,310.0 L1150.0,309.7 L1150.5,308.8 L1151.0,307.6 L1151.5,305.8 L1152.0,303.4 L1152.1,303.0 L1152.5,297.0 L1152.8,290.0 L1153.0,285.3 L1153.5,273.0 L1154.0,281.6 L1154.4,290.0 L1154.5,291.9 L1155.0,298.6 L1155.5,303.0 L1155.5,303.0 L1156.0,305.3 L1156.5,307.1 L1157.0,308.4 L1157.3,309.0 L1157.5,309.2 L1158.0,309.9 L1158.5,310.5 L1159.0,311.0 L1159.5,311.3 L1160.0,311.5 L1160.0,311.5 L1160.5,311.6 L1161.0,311.7 L1161.5,311.8 L1162.0,311.8 L1162.5,311.9 L1163.0,311.9 L1163.5,312.0 L1164.0,312.0 L1164.5,312.0 L1165.0,312.0 L1165.5,312.0 L1166.0,312.0 L1166.5,311.9 L1167.0,311.9 L1167.5,311.9 L1168.0,311.8 L1168.5,311.7 L1169.0,311.7 L1169.5,311.6 L1170.0,311.5 L1170.5,311.4 L1171.0,311.2 L1171.5,310.9 L1172.0,310.7 L1172.5,310.6 L1173.0,310.5 L1173.5,310.6 L1174.0,310.8 L1174.5,311.2 L1175.0,311.5 L1175.5,311.8 L1176.0,312.0 L1176.5,312.1 L1177.0,312.2 L1177.5,312.3 L1178.0,312.4 L1178.5,312.4 L1179.0,312.5 L1179.5,312.5 L1180.0,312.5 L1180.5,312.5 L1181.0,312.5 L1181.5,312.4 L1182.0,312.3 L1182.5,312.2 L1183.0,312.1 L1183.5,312.0 L1184.0,311.9 L1184.5,311.7 L1185.0,311.6 L1185.2,311.5 L1185.5,311.4 L1186.0,311.1 L1186.5,310.6 L1187.0,310.1 L1187.5,309.4 L1187.8,309.0 L1188.0,308.4 L1188.5,306.6 L1189.0,305.0 L1189.0,304.9 L1189.5,303.2 L1189.9,302.5 L1190.0,302.6 L1190.5,304.1 L1191.0,306.0 L1191.0,306.1 L1191.5,307.7 L1192.0,309.2 L1192.5,310.3 L1192.7,310.5 L1193.0,310.8 L1193.5,311.1 L1194.0,311.4 L1194.5,311.7 L1195.0,311.9 L1195.5,312.0 L1196.0,312.0 L1196.5,312.0 L1197.0,312.0 L1197.5,311.9 L1198.0,311.9 L1198.5,311.8 L1199.0,311.7 L1199.5,311.6 L1200.0,311.5 L1200.1,311.5 L1200.5,311.4 L1201.0,311.2 L1201.5,311.0 L1202.0,310.8 L1202.5,310.5 L1203.0,310.2 L1203.3,310.0 L1203.5,309.9 L1204.0,309.4 L1204.5,308.9 L1205.0,308.2 L1205.5,307.4 L1206.0,306.5 L1206.2,306.0 L1206.5,305.4 L1207.0,303.8 L1207.5,302.0 L1207.5,302.0 L1208.0,299.8 L1208.5,298.5 L1209.0,300.7 L1209.5,304.0 L1209.5,304.0 L1210.0,306.3 L1210.5,308.3 L1210.8,309.0 L1211.0,309.3 L1211.5,309.9 L1212.0,310.5 L1212.5,310.9 L1213.0,311.2 L1213.5,311.4 L1213.7,311.5 L1214.0,311.6 L1214.5,311.8 L1215.0,311.9 L1215.5,312.0 L1216.0,312.1 L1216.5,312.2 L1217.0,312.3 L1217.5,312.4 L1217.8,312.5 L1218.0,312.6 L1218.5,312.7 L1219.0,312.8 L1219.5,313.0 L1220.0,313.1 L1220.5,313.3 L1221.0,313.4 L1221.5,313.5 L1221.9,313.5 L1222.0,313.5 L1222.5,313.5 L1223.0,313.6 L1223.5,313.6 L1224.0,313.6 L1224.5,313.7 L1225.0,313.7 L1225.5,313.7 L1226.0,313.8 L1226.5,313.8 L1227.0,313.8 L1227.5,313.8 L1228.0,313.9 L1228.5,313.9 L1229.0,313.9 L1229.5,313.9 L1230.0,313.9 L1230.5,313.9 L1231.0,314.0 L1231.5,314.0 L1232.0,314.0 L1232.5,314.0 L1233.0,314.0 L1233.5,314.0 L1234.0,314.0 L1234.5,314.0 L1235.0,314.0 L1235.5,314.0 L1236.0,314.0 L1236.5,314.0 L1237.0,314.0 L1237.5,313.9 L1238.0,313.9 L1238.5,313.9 L1239.0,313.9 L1239.5,313.8 L1240.0,313.8 L1240.5,313.8 L1241.0,313.7 L1241.5,313.7 L1242.0,313.6 L1242.5,313.6 L1243.0,313.5 L1243.0,313.5 L1243.5,313.4 L1244.0,313.3 L1244.5,313.1 L1245.0,312.9 L1245.5,312.6 L1246.0,312.3 L1246.5,312.0 L1247.0,311.6 L1247.1,311.5 L1247.5,311.2 L1248.0,310.8 L1248.5,310.2 L1249.0,309.5 L1249.5,308.7 L1249.8,308.0 L1250.0,307.7 L1250.5,306.2 L1251.0,304.1 L1251.5,301.5 L1251.8,300.0 L1252.0,298.0 L1252.5,292.2 L1253.0,286.4 L1253.2,285.0 L1253.5,282.3 L1254.0,278.6 L1254.5,277.0 L1255.0,282.4 L1255.5,290.0 L1255.5,290.0 L1256.0,293.8 L1256.5,296.9 L1257.0,299.3 L1257.2,300.0 L1257.5,300.8 L1258.0,302.2 L1258.5,303.1 L1259.0,303.5 L1259.5,302.3 L1260.0,299.9 L1260.4,298.0 L1260.5,297.8 L1261.0,296.0 L1261.3,295.5 L1261.5,296.0 L1262.0,299.4 L1262.1,300.0 L1262.5,302.1 L1263.0,304.6 L1263.4,306.0 L1263.5,306.2 L1264.0,307.2 L1264.5,308.1 L1265.0,308.8 L1265.5,309.3 L1265.9,309.5 L1266.0,309.5 L1266.5,309.7 L1267.0,309.9 L1267.5,310.0 L1268.0,310.0 L1268.5,309.8 L1269.0,309.3 L1269.5,308.5 L1270.0,307.6 L1270.1,307.5 L1270.5,306.6 L1271.0,305.2 L1271.5,303.4 L1272.0,301.3 L1272.3,300.0 L1272.5,298.9 L1273.0,296.1 L1273.5,292.4 L1274.0,287.5 L1274.2,285.0 L1274.5,279.7 L1275.0,265.7 L1275.2,260.0 L1275.5,248.5 L1276.0,234.5 L1276.5,246.6 L1276.9,260.0 L1277.0,263.9 L1277.5,279.6 L1277.8,285.0 L1278.0,287.9 L1278.5,292.7 L1279.0,296.3 L1279.5,299.1 L1279.7,300.0 L1280.0,301.5 L1280.5,303.7 L1281.0,305.6 L1281.5,307.1 L1281.9,308.0 L1282.0,308.2 L1282.5,309.0 L1283.0,309.7 L1283.5,310.2 L1284.0,310.5 L1284.0,310.5 L1284.5,310.7 L1285.0,310.9 L1285.5,311.1 L1286.0,311.2 L1286.5,311.3 L1287.0,311.4 L1287.5,311.5 L1288.0,311.5 L1288.5,311.5 L1289.0,311.4 L1289.5,311.3 L1290.0,311.2 L1290.5,311.1 L1291.0,310.9 L1291.5,310.8 L1292.0,310.5 L1292.1,310.5 L1292.5,310.3 L1293.0,309.8 L1293.5,309.2 L1294.0,308.4 L1294.5,307.4 L1295.0,306.2 L1295.1,306.0 L1295.5,304.0 L1296.0,300.2 L1296.4,297.0 L1296.5,296.5 L1297.0,292.6 L1297.3,291.5 L1297.5,292.1 L1298.0,296.3 L1298.1,297.0 L1298.5,299.5 L1299.0,302.4 L1299.4,304.0 L1299.5,304.2 L1300.0,305.4 L1300.5,306.4 L1301.0,307.2 L1301.5,307.7 L1301.9,308.0 L1302.0,308.1 L1302.5,308.3 L1303.0,308.5 L1303.5,308.7 L1304.0,308.8 L1304.5,308.8 L1305.0,308.6 L1305.5,308.1 L1306.0,307.4 L1306.5,306.5 L1306.5,306.5 L1307.0,305.2 L1307.5,303.1 L1308.0,300.5 L1308.1,300.0 L1308.5,297.4 L1309.0,293.2 L1309.5,288.1 L1309.8,285.0 L1310.0,281.9 L1310.5,273.5 L1310.9,265.0 L1311.0,262.0 L1311.5,244.3 L1311.7,230.0 L1311.9,186.0 L1312.0,178.3 L1312.5,155.9 L1313.0,140.0 L1313.5,114.1 L1313.6,112.7 L1314.0,128.3 L1314.2,140.0 L1314.5,155.5 L1315.0,186.0 L1315.0,190.7 L1315.3,230.0 L1315.4,265.0 L1315.5,268.9 L1316.0,281.3 L1316.1,283.0 L1316.5,287.9 L1317.0,292.7 L1317.4,295.0 L1317.5,295.8 L1318.0,298.3 L1318.5,300.2 L1319.0,301.8 L1319.4,303.0 L1319.5,303.1 L1320.0,304.3 L1320.5,305.4 L1321.0,306.3 L1321.5,307.0 L1322.0,307.5 L1322.0,307.5 L1322.5,307.9 L1323.0,308.2 L1323.5,308.4 L1324.0,308.5 L1324.5,308.2 L1325.0,307.5 L1325.5,306.3 L1326.0,304.9 L1326.3,304.0 L1326.5,303.1 L1327.0,300.0 L1327.5,295.8 L1328.0,290.9 L1328.1,290.0 L1328.5,284.0 L1329.0,275.9 L1329.3,274.0 L1329.5,275.1 L1330.0,281.9 L1330.1,283.0 L1330.5,286.3 L1331.0,290.0 L1331.5,292.8 L1331.6,293.0 L1332.0,294.8 L1332.5,296.6 L1333.0,297.8 L1333.3,298.0 L1333.5,297.8 L1334.0,296.0 L1334.5,294.6 L1334.6,294.5 L1335.0,296.2 L1335.5,300.3 L1335.8,302.0 L1336.0,302.5 L1336.5,303.7 L1337.0,304.7 L1337.5,305.5 L1338.0,306.1 L1338.5,306.4 L1338.8,306.5 L1339.0,306.3 L1339.5,304.5 L1340.0,302.5 L1340.3,302.0 L1340.5,302.4 L1341.0,305.1 L1341.5,307.4 L1341.6,307.5 L1342.0,307.3 L1342.5,306.4 L1343.0,305.0 L1343.3,303.8 L1343.5,301.4 L1343.9,296.0 L1344.0,296.1 L1344.5,297.7 L1345.0,299.0 L1345.5,298.5 L1346.0,297.3 L1346.3,296.0 L1346.5,295.0 L1347.0,288.2 L1347.2,285.0 L1347.5,279.7 L1348.0,269.0 L1348.0,268.0 L1348.5,261.5 L1348.9,248.0 L1349.0,186.0 L1349.1,228.0 L1349.5,173.1 L1349.6,165.0 L1350.0,153.2 L1350.3,150.0 L1350.5,152.5 L1350.9,165.0 L1351.0,168.2 L1351.4,186.0 L1351.5,195.4 L1351.8,230.0 L1352.0,245.2 L1352.1,250.0 L1352.5,257.6 L1353.0,264.0 L1353.1,265.0 L1353.5,272.6 L1354.0,281.4 L1354.2,285.0 L1354.5,288.2 L1355.0,293.8 L1355.4,297.0 L1355.5,297.5 L1356.0,300.2 L1356.5,302.2 L1357.0,303.0 L1357.5,302.6 L1358.0,301.6 L1358.5,300.1 L1358.5,300.0 L1359.0,296.3 L1359.4,293.0 L1359.5,292.8 L1360.0,291.3 L1360.3,291.0 L1360.5,291.6 L1361.0,295.5 L1361.1,296.0 L1361.5,297.5 L1362.0,299.2 L1362.5,300.3 L1362.8,300.5 L1363.0,300.3 L1363.5,298.6 L1364.0,295.6 L1364.5,292.2 L1364.5,292.0 L1365.0,286.7 L1365.5,281.7 L1365.6,281.5 L1366.0,284.8 L1366.5,291.7 L1366.5,292.0 L1367.0,295.5 L1367.5,298.9 L1368.0,301.5 L1368.4,303.0 L1368.5,303.4 L1369.0,305.0 L1369.5,306.3 L1370.0,307.4 L1370.5,308.4 L1371.0,309.1 L1371.3,309.5 L1371.5,309.7 L1372.0,310.2 L1372.5,310.7 L1373.0,311.1 L1373.5,311.5 L1374.0,311.8 L1374.5,311.9 L1375.0,312.0 L1375.5,312.0 L1376.0,311.9 L1376.5,311.7 L1377.0,311.5 L1377.5,311.3 L1378.0,311.1 L1378.1,311.0 L1378.5,310.8 L1379.0,310.4 L1379.5,309.8 L1380.0,309.2 L1380.5,308.4 L1381.0,307.5 L1381.5,306.5 L1381.8,306.0 L1382.0,305.3 L1382.5,303.4 L1383.0,301.2 L1383.5,299.0 L1383.5,299.0 L1384.0,296.5 L1384.5,295.0 L1385.0,297.0 L1385.5,300.0 L1385.5,300.0 L1386.0,302.0 L1386.5,304.0 L1387.0,305.4 L1387.5,306.0 L1388.0,305.7 L1388.5,305.1 L1389.0,304.4 L1389.5,304.0 L1389.6,304.0 L1390.0,304.8 L1390.5,306.8 L1390.9,308.0 L1391.0,308.3 L1391.5,309.2 L1392.0,310.1 L1392.5,310.8 L1393.0,311.4 L1393.5,311.9 L1393.7,312.0 L1394.0,312.2 L1394.5,312.6 L1395.0,312.9 L1395.5,313.1 L1396.0,313.3 L1396.5,313.5 L1397.0,313.5 L1397.5,313.5 L1398.0,313.5 L1398.5,313.5 L1399.0,313.5 L1399.5,313.5 L1400.0,313.5 L1400.5,313.5 L1401.0,313.5 L1401.5,313.5 L1402.0,313.5 L1402.5,313.4 L1403.0,313.2 L1403.5,312.9 L1404.0,312.6 L1404.5,312.3 L1405.0,312.1 L1405.2,312.0 L1405.5,311.9 L1406.0,311.9 L1406.5,311.8 L1407.0,311.7 L1407.5,311.7 L1408.0,311.6 L1408.3,311.5 L1408.5,311.4 L1409.0,311.2 L1409.5,310.9 L1410.0,310.4 L1410.5,309.9 L1411.0,309.3 L1411.2,309.0 L1411.5,308.4 L1412.0,307.0 L1412.5,305.3 L1413.0,303.7 L1413.2,303.0 L1413.5,302.3 L1414.0,300.8 L1414.5,299.7 L1414.8,299.5 L1415.0,299.6 L1415.5,300.7 L1416.0,302.3 L1416.3,303.0 L1416.5,303.5 L1417.0,304.8 L1417.5,306.1 L1418.0,307.2 L1418.4,308.0 L1418.5,308.1 L1419.0,308.9 L1419.5,309.7 L1420.0,310.4 L1420.5,310.8 L1421.0,311.0 L1421.5,310.9 L1422.0,310.6 L1422.5,310.2 L1423.0,309.7 L1423.2,309.5 L1423.5,309.0 L1424.0,307.9 L1424.5,306.4 L1425.0,304.3 L1425.2,303.0 L1425.5,300.4 L1425.9,295.0 L1426.0,294.5 L1426.5,291.2 L1426.8,290.5 L1427.0,291.1 L1427.5,295.3 L1427.6,296.0 L1428.0,298.3 L1428.5,301.0 L1429.0,302.9 L1429.0,303.0 L1429.5,304.2 L1430.0,305.4 L1430.5,306.2 L1431.0,306.5 L1431.5,306.0 L1432.0,304.6 L1432.5,302.4 L1433.0,299.5 L1433.2,298.0 L1433.5,294.4 L1433.9,288.0 L1434.0,286.9 L1434.5,282.6 L1434.7,282.0 L1435.0,284.0 L1435.5,291.2 L1435.6,292.0 L1436.0,296.6 L1436.5,301.4 L1436.8,303.0 L1437.0,303.9 L1437.5,305.5 L1438.0,306.8 L1438.5,307.8 L1439.0,308.7 L1439.2,309.0 L1439.5,309.6 L1440.0,310.5 L1440.5,311.4 L1441.0,312.1 L1441.5,312.7 L1441.9,313.0 L1442.0,313.0 L1442.5,313.3 L1443.0,313.5 L1443.5,313.7 L1444.0,313.9 L1444.5,314.0 L1445.0,314.0 L1445.5,313.9 L1446.0,313.8 L1446.5,313.5 L1447.0,313.2 L1447.5,312.9 L1448.0,312.6 L1448.2,312.5 L1448.5,312.4 L1449.0,312.1 L1449.5,311.9 L1450.0,311.6 L1450.5,311.3 L1451.0,311.0 L1451.0,311.0 L1451.5,310.7 L1452.0,310.4 L1452.5,310.1 L1453.0,309.7 L1453.5,309.3 L1453.8,309.0 L1454.0,308.6 L1454.5,307.4 L1455.0,306.0 L1455.5,304.6 L1455.8,304.0 L1456.0,303.5 L1456.5,302.4 L1457.0,301.5 L1457.5,301.0 L1457.6,301.0 L1458.0,301.5 L1458.5,303.0 L1458.9,304.0 L1459.0,304.3 L1459.5,305.5 L1460.0,306.8 L1460.5,307.9 L1461.0,308.8 L1461.2,309.0 L1461.5,309.4 L1462.0,309.9 L1462.5,310.3 L1463.0,310.5 L1463.5,309.8 L1464.0,308.1 L1464.5,305.8 L1465.0,303.4 L1465.1,303.0 L1465.5,300.3 L1466.0,296.8 L1466.3,296.0 L1466.5,296.2 L1467.0,298.1 L1467.4,300.0 L1467.5,300.2 L1468.0,301.9 L1468.5,303.5 L1469.0,305.0 L1469.4,306.0 L1469.5,306.1 L1470.0,307.1 L1470.5,308.0 L1471.0,308.8 L1471.5,309.3 L1472.0,309.5 L1472.5,309.3 L1473.0,308.9 L1473.5,308.5 L1474.0,308.1 L1474.5,307.7 L1475.0,307.5 L1475.5,308.3 L1476.0,310.0 L1476.3,311.0 L1476.5,311.3 L1477.0,312.4 L1477.5,313.4 L1478.0,314.3 L1478.5,314.9 L1478.6,315.0 L1479.0,315.3 L1479.5,315.6 L1480.0,315.9 L1480.5,316.1 L1481.0,316.3 L1481.5,316.5 L1482.0,316.5 L1482.5,316.5 L1483.0,316.4 L1483.5,316.3 L1484.0,316.2 L1484.5,316.1 L1485.0,315.9 L1485.5,315.7 L1486.0,315.5 L1486.0,315.5 L1486.5,315.3 L1487.0,314.9 L1487.5,314.4 L1488.0,313.8 L1488.5,313.1 L1489.0,312.3 L1489.2,312.0 L1489.5,311.4 L1490.0,310.1 L1490.5,308.4 L1491.0,306.2 L1491.5,303.5 L1491.6,303.0 L1492.0,299.4 L1492.5,293.0 L1493.0,285.8 L1493.1,285.0 L1493.5,276.9 L1494.0,268.5 L1494.2,267.5 L1494.5,269.8 L1495.0,278.7 L1495.2,282.0 L1495.5,286.0 L1496.0,292.5 L1496.2,295.0 L1496.5,297.1 L1497.0,301.0 L1497.5,304.2 L1498.0,306.8 L1498.3,308.0 L1498.5,308.7 L1499.0,310.3 L1499.5,311.5 L1500.0,312.0 L1500.5,311.3 L1501.0,309.4 L1501.5,306.9 L1501.9,305.0 L1502.0,304.3 L1502.5,301.3 L1503.0,297.5 L1503.5,292.8 L1503.8,290.0 L1504.0,285.7 L1504.4,278.0 L1504.5,277.3 L1505.0,273.0 L1505.3,272.0 L1505.5,273.0 L1506.0,279.1 L1506.1,280.0 L1506.5,282.9 L1507.0,286.3 L1507.5,288.6 L1507.8,289.0 L1508.0,288.4 L1508.5,284.3 L1509.0,281.5 L1509.5,285.4 L1509.9,290.0 L1510.0,291.4 L1510.5,297.5 L1510.8,300.0 L1511.0,301.9 L1511.5,305.3 L1512.0,308.1 L1512.4,310.0 L1512.5,310.2 L1513.0,311.9 L1513.5,313.3 L1514.0,314.5 L1514.5,315.5 L1514.8,316.0 L1515.0,316.3 L1515.5,317.1 L1516.0,317.8 L1516.5,318.4 L1517.0,318.9 L1517.5,319.3 L1518.0,319.5 L1518.0,319.5 L1518.5,319.6 L1519.0,319.8 L1519.5,319.9 L1520.0,319.9 L1520.5,320.0 L1521.0,320.0 L1521.5,319.9 L1522.0,319.7 L1522.5,319.5 L1523.0,319.1 L1523.5,318.7 L1524.0,318.2 L1524.3,318.0 L1524.5,317.7 L1525.0,317.1 L1525.5,316.3 L1526.0,315.4 L1526.5,314.5 L1526.8,314.0 L1527.0,313.5 L1527.5,312.4 L1528.0,311.3 L1528.5,310.3 L1528.8,310.0 L1529.0,309.8 L1529.5,309.4 L1530.0,309.2 L1530.5,308.8 L1530.8,308.5 L1531.0,307.8 L1531.5,305.2 L1531.8,304.0 L1532.0,303.6 L1532.5,303.0 L1533.0,304.0 L1533.5,306.0 L1534.0,307.0 L1534.5,306.6 L1535.0,305.9 L1535.5,305.5 L1536.0,307.1 L1536.5,309.5 L1536.5,309.5 L1537.0,311.1 L1537.5,312.5 L1538.0,313.6 L1538.3,314.0 L1538.5,314.3 L1539.0,314.8 L1539.5,315.0 L1540.0,314.5 L1540.5,313.2 L1541.0,311.3 L1541.5,309.1 L1541.7,308.0 L1542.0,306.3 L1542.5,301.7 L1543.0,298.0 L1543.0,298.0 L1543.5,295.6 L1544.0,294.5 L1544.5,296.4 L1545.0,300.0 L1545.0,300.0 L1545.5,304.1 L1546.0,308.5 L1546.2,310.0 L1546.5,311.1 L1547.0,313.2 L1547.5,314.9 L1548.0,316.3 L1548.5,317.5 L1548.8,318.0 L1549.0,318.3 L1549.5,319.1 L1550.0,319.8 L1550.5,320.3 L1551.0,320.5 L1551.5,320.5 L1552.0,320.4 L1552.5,320.3 L1553.0,320.2 L1553.5,320.0 L1553.6,320.0 L1554.0,319.7 L1554.5,318.7 L1555.0,317.4 L1555.5,316.0 L1555.5,316.0 L1556.0,313.6 L1556.5,312.0 L1557.0,312.1 L1557.5,312.4 L1558.0,312.5 L1558.5,311.9 L1559.0,310.5 L1559.5,308.7 L1559.7,308.0 L1560.0,306.9 L1560.5,304.9 L1561.0,302.3 L1561.5,299.1 L1561.6,298.0 L1562.0,294.5 L1562.5,287.5 L1562.7,285.0 L1563.0,278.3 L1563.3,272.0 L1563.5,269.5 L1564.0,264.5 L1564.5,269.5 L1564.7,272.0 L1565.0,278.5 L1565.3,285.0 L1565.5,286.9 L1566.0,291.7 L1566.5,295.4 L1566.6,296.0 L1567.0,298.9 L1567.5,302.1 L1568.0,303.5 L1568.5,301.9 L1569.0,298.5 L1569.5,295.6 L1569.8,295.0 L1570.0,295.5 L1570.5,299.3 L1570.6,300.0 L1571.0,302.9 L1571.5,306.5 L1571.8,308.0 L1572.0,308.9 L1572.5,310.8 L1573.0,312.3 L1573.5,313.5 L1573.9,314.0 L1574.0,314.0 L1574.5,314.3 L1575.0,314.4 L1575.5,314.5 L1576.0,313.3 L1576.5,311.0 L1577.0,309.0 L1577.0,309.0 L1577.5,307.7 L1578.0,307.0 L1578.5,307.7 L1579.0,309.0 L1579.0,309.0 L1579.5,310.6 L1580.0,312.3 L1580.3,313.0 L1580.5,313.4 L1581.0,314.2 L1581.5,314.9 L1582.0,315.5 L1582.5,315.9 L1583.0,316.0 L1583.5,315.4 L1584.0,314.0 L1584.5,312.6 L1585.0,312.0 L1585.5,312.3 L1586.0,313.0 L1586.0,313.0 L1586.5,314.5 L1587.0,316.4 L1587.2,317.0 L1587.5,317.4 L1588.0,318.2 L1588.5,318.9 L1589.0,319.5 L1589.5,319.9 L1590.0,320.0 L1590.5,320.0 L1591.0,320.0 L1591.5,320.0 L1592.0,320.0 L1592.5,320.0 L1593.0,320.0 L1593.5,319.9 L1594.0,319.4 L1594.5,318.8 L1595.0,318.0 L1595.5,317.0 L1595.5,317.0 L1596.0,315.1 L1596.5,312.3 L1597.0,310.0 L1597.0,310.0 L1597.5,308.3 L1598.0,307.5 L1598.5,307.8 L1599.0,308.5 L1599.5,309.0 L1600.0,309.2 L1600.5,309.4 L1601.0,309.5 L1601.5,309.3 L1602.0,309.0 L1602.5,308.5 L1603.0,308.2 L1603.5,308.0 L1604.0,308.2 L1604.5,308.7 L1605.0,309.4 L1605.5,310.0 L1606.0,310.8 L1606.5,311.6 L1607.0,312.0 L1607.5,311.8 L1608.0,311.3 L1608.5,310.6 L1608.9,310.0 L1609.0,309.8 L1609.5,308.7 L1610.0,307.1 L1610.5,305.6 L1610.8,305.0 L1611.0,304.4 L1611.5,303.1 L1612.0,302.1 L1612.5,301.5 L1612.6,301.5 L1613.0,302.2 L1613.5,304.3 L1613.9,306.0 L1614.0,306.5 L1614.5,309.0 L1615.0,311.5 L1615.4,313.0 L1615.5,313.1 L1616.0,314.1 L1616.5,314.9 L1617.0,315.5 L1617.5,315.9 L1617.9,316.0 L1618.0,316.0 L1618.5,316.0 L1619.0,316.0 L1619.5,316.0 L1620.0,316.0 L1620.5,316.0 L1621.0,316.0 L1621.5,316.0 L1621.9,316.0 L1622.0,316.0 L1622.5,316.1 L1623.0,316.2 L1623.5,316.3 L1624.0,316.5 L1624.5,316.7 L1625.0,316.9 L1625.5,317.0 L1626.0,317.0 L1626.5,317.0 L1627.0,316.9 L1627.5,316.7 L1628.0,316.5 L1628.5,316.3 L1629.0,316.0 L1629.1,316.0 L1629.5,315.7 L1630.0,315.3 L1630.5,314.7 L1631.0,314.0 L1631.5,313.2 L1631.9,312.5 L1632.0,312.3 L1632.5,311.4 L1633.0,310.2 L1633.5,308.8 L1634.0,307.0 L1634.2,306.0 L1634.5,304.5 L1635.0,299.9 L1635.3,297.0 L1635.5,295.6 L1636.0,292.5 L1636.5,295.5 L1637.0,300.0 L1637.0,300.0 L1637.5,302.9 L1638.0,305.6 L1638.5,307.6 L1638.7,308.0 L1639.0,308.8 L1639.5,309.9 L1640.0,310.7 L1640.5,311.0" fill="none" stroke="#ca161e" stroke-width="2.0" stroke-linejoin="round" stroke-linecap="butt"/>
<path d="M1075.5,615.5 L1076.0,615.5 L1076.5,615.4 L1077.0,615.3 L1077.5,615.2 L1078.0,615.0 L1078.5,614.7 L1079.0,614.4 L1079.5,614.1 L1080.0,613.7 L1080.3,613.5 L1080.5,613.2 L1081.0,612.0 L1081.5,610.0 L1081.9,608.0 L1082.0,607.6 L1082.5,602.2 L1082.8,600.5 L1083.0,601.5 L1083.5,607.3 L1083.6,608.0 L1084.0,609.8 L1084.5,611.6 L1085.0,612.8 L1085.1,613.0 L1085.5,613.4 L1086.0,613.9 L1086.5,614.4 L1087.0,614.7 L1087.5,614.9 L1087.9,615.0 L1088.0,615.0 L1088.5,615.1 L1089.0,615.1 L1089.5,615.1 L1090.0,615.2 L1090.5,615.2 L1091.0,615.2 L1091.5,615.3 L1092.0,615.3 L1092.5,615.3 L1093.0,615.4 L1093.5,615.4 L1094.0,615.4 L1094.5,615.4 L1095.0,615.4 L1095.5,615.4 L1096.0,615.5 L1096.5,615.5 L1097.0,615.5 L1097.5,615.5 L1098.0,615.5 L1098.5,615.5 L1099.0,615.5 L1099.5,615.5 L1100.0,615.5 L1100.5,615.5 L1101.0,615.5 L1101.5,615.5 L1102.0,615.5 L1102.5,615.5 L1103.0,615.5 L1103.5,615.5 L1104.0,615.5 L1104.5,615.5 L1105.0,615.5 L1105.5,615.5 L1106.0,615.5 L1106.5,615.5 L1107.0,615.5 L1107.5,615.5 L1108.0,615.5 L1108.5,615.5 L1109.0,615.5 L1109.5,615.5 L1110.0,615.5 L1110.5,615.5 L1111.0,615.5 L1111.5,615.5 L1112.0,615.5 L1112.5,615.5 L1113.0,615.5 L1113.5,615.5 L1114.0,615.5 L1114.5,615.4 L1115.0,615.4 L1115.5,615.4 L1116.0,615.4 L1116.5,615.4 L1117.0,615.4 L1117.5,615.3 L1118.0,615.3 L1118.5,615.3 L1119.0,615.3 L1119.5,615.3 L1120.0,615.2 L1120.5,615.2 L1121.0,615.2 L1121.5,615.2 L1122.0,615.1 L1122.5,615.1 L1123.0,615.1 L1123.5,615.1 L1124.0,615.0 L1124.5,615.0 L1125.0,615.0 L1125.5,615.0 L1126.0,614.9 L1126.5,614.9 L1127.0,614.9 L1127.5,614.8 L1128.0,614.8 L1128.5,614.8 L1129.0,614.7 L1129.5,614.7 L1130.0,614.6 L1130.5,614.6 L1131.0,614.5 L1131.5,614.5 L1132.0,614.4 L1132.5,614.4 L1133.0,614.3 L1133.5,614.3 L1134.0,614.2 L1134.5,614.1 L1135.0,614.1 L1135.5,614.0 L1136.0,614.0 L1136.5,613.9 L1137.0,613.8 L1137.5,613.8 L1138.0,613.7 L1138.5,613.7 L1139.0,613.6 L1139.5,613.6 L1140.0,613.5 L1140.5,613.4 L1141.0,613.4 L1141.5,613.3 L1142.0,613.3 L1142.5,613.2 L1143.0,613.1 L1143.5,613.1 L1144.0,613.0 L1144.5,612.9 L1145.0,612.9 L1145.5,612.8 L1146.0,612.8 L1146.5,612.7 L1147.0,612.6 L1147.5,612.6 L1148.0,612.5 L1148.5,612.4 L1149.0,612.4 L1149.5,612.3 L1150.0,612.2 L1150.5,612.1 L1151.0,612.1 L1151.5,612.0 L1152.0,612.0 L1152.5,612.2 L1153.0,612.5 L1153.5,612.8 L1154.0,613.0 L1154.5,613.0 L1155.0,613.0 L1155.5,613.0 L1156.0,613.0 L1156.5,613.0 L1157.0,613.0 L1157.5,613.0 L1158.0,613.0 L1158.5,613.0 L1159.0,613.0 L1159.5,613.0 L1160.0,613.0 L1160.5,613.0 L1161.0,613.0 L1161.5,612.9 L1162.0,612.9 L1162.5,612.8 L1163.0,612.7 L1163.5,612.6 L1164.0,612.5 L1164.5,612.4 L1165.0,612.3 L1165.5,612.1 L1166.0,612.0 L1166.5,611.9 L1167.0,611.8 L1167.5,611.6 L1168.0,611.5 L1168.5,611.4 L1169.0,611.2 L1169.5,611.1 L1170.0,610.9 L1170.5,610.7 L1171.0,610.5 L1171.5,610.2 L1172.0,609.7 L1172.5,609.3 L1173.0,609.0 L1173.2,609.0 L1173.5,609.1 L1174.0,609.7 L1174.5,610.5 L1175.0,611.0 L1175.5,611.3 L1176.0,611.5 L1176.5,611.7 L1177.0,611.8 L1177.5,611.9 L1178.0,612.0 L1178.5,612.0 L1179.0,612.1 L1179.5,612.1 L1180.0,612.2 L1180.5,612.2 L1181.0,612.2 L1181.5,612.3 L1182.0,612.3 L1182.5,612.3 L1183.0,612.3 L1183.5,612.4 L1184.0,612.4 L1184.5,612.4 L1185.0,612.4 L1185.5,612.4 L1186.0,612.4 L1186.5,612.5 L1187.0,612.5 L1187.5,612.5 L1188.0,612.5 L1188.5,612.5 L1189.0,612.5 L1189.5,612.5 L1190.0,612.5 L1190.5,612.5 L1191.0,612.5 L1191.5,612.5 L1192.0,612.5 L1192.5,612.4 L1193.0,612.4 L1193.5,612.4 L1194.0,612.4 L1194.5,612.3 L1195.0,612.3 L1195.5,612.3 L1196.0,612.2 L1196.5,612.2 L1197.0,612.1 L1197.5,612.1 L1198.0,612.0 L1198.1,612.0 L1198.5,611.9 L1199.0,611.8 L1199.5,611.7 L1200.0,611.5 L1200.5,611.3 L1201.0,611.0 L1201.5,610.7 L1202.0,610.3 L1202.4,610.0 L1202.5,609.9 L1203.0,609.3 L1203.5,608.2 L1204.0,607.0 L1204.5,605.6 L1204.7,605.0 L1205.0,604.1 L1205.5,601.8 L1206.0,600.2 L1206.2,600.0 L1206.5,600.7 L1207.0,603.8 L1207.4,606.0 L1207.5,606.3 L1208.0,607.9 L1208.5,609.3 L1209.0,610.4 L1209.5,611.2 L1209.8,611.5 L1210.0,611.6 L1210.5,611.9 L1211.0,612.1 L1211.5,612.3 L1212.0,612.4 L1212.5,612.5 L1213.0,612.5 L1213.5,612.5 L1214.0,612.3 L1214.5,612.1 L1215.0,611.9 L1215.5,611.6 L1216.0,611.2 L1216.3,611.0 L1216.5,610.8 L1217.0,610.0 L1217.5,608.8 L1218.0,607.4 L1218.4,606.0 L1218.5,605.7 L1219.0,602.7 L1219.3,601.7 L1219.5,602.4 L1220.0,606.5 L1220.1,607.0 L1220.5,608.1 L1221.0,609.2 L1221.5,610.0 L1222.0,610.5 L1222.3,610.7 L1222.5,610.8 L1223.0,610.9 L1223.5,611.1 L1224.0,611.2 L1224.5,611.3 L1225.0,611.3 L1225.0,611.3 L1225.5,611.3 L1226.0,611.4 L1226.5,611.4 L1227.0,611.4 L1227.5,611.4 L1228.0,611.5 L1228.5,611.5 L1229.0,611.5 L1229.5,611.5 L1230.0,611.5 L1230.5,611.5 L1231.0,611.5 L1231.5,611.5 L1232.0,611.5 L1232.5,611.5 L1233.0,611.5 L1233.5,611.5 L1234.0,611.5 L1234.5,611.5 L1235.0,611.4 L1235.5,611.4 L1236.0,611.4 L1236.5,611.4 L1237.0,611.4 L1237.5,611.4 L1238.0,611.3 L1238.5,611.3 L1239.0,611.3 L1239.5,611.3 L1240.0,611.2 L1240.5,611.2 L1241.0,611.2 L1241.5,611.1 L1242.0,611.1 L1242.5,611.0 L1243.0,611.0 L1243.0,611.0 L1243.5,610.9 L1244.0,610.8 L1244.5,610.5 L1245.0,610.2 L1245.5,609.9 L1246.0,609.5 L1246.0,609.5 L1246.5,609.0 L1247.0,608.3 L1247.5,607.6 L1247.6,607.5 L1248.0,607.2 L1248.5,606.9 L1249.0,606.6 L1249.5,606.2 L1249.6,606.0 L1250.0,605.1 L1250.5,602.7 L1251.0,598.9 L1251.4,595.0 L1251.5,593.6 L1252.0,580.5 L1252.4,565.0 L1252.5,562.0 L1253.0,532.0 L1253.3,523.0 L1253.5,527.3 L1254.0,555.3 L1254.1,560.0 L1254.5,575.5 L1254.8,585.0 L1255.0,587.3 L1255.5,593.7 L1256.0,598.3 L1256.5,601.6 L1256.8,603.0 L1257.0,603.9 L1257.5,605.8 L1258.0,607.3 L1258.5,608.4 L1258.9,609.0 L1259.0,609.1 L1259.5,609.6 L1260.0,610.0 L1260.5,610.4 L1261.0,610.8 L1261.5,611.0 L1262.0,611.2 L1262.5,611.4 L1263.0,611.5 L1263.0,611.5 L1263.5,611.6 L1264.0,611.6 L1264.5,611.7 L1265.0,611.7 L1265.5,611.8 L1266.0,611.8 L1266.5,611.9 L1267.0,611.9 L1267.5,611.9 L1268.0,612.0 L1268.5,612.0 L1269.0,612.0 L1269.5,612.0 L1270.0,612.0 L1270.5,612.0 L1271.0,612.0 L1271.5,612.0 L1272.0,611.9 L1272.5,611.9 L1273.0,611.9 L1273.5,611.8 L1274.0,611.8 L1274.5,611.7 L1275.0,611.7 L1275.0,611.7 L1275.5,611.7 L1276.0,611.6 L1276.5,611.6 L1277.0,611.5 L1277.5,611.5 L1278.0,611.4 L1278.5,611.3 L1279.0,611.2 L1279.5,611.1 L1280.0,611.0 L1280.1,611.0 L1280.5,610.8 L1281.0,610.5 L1281.5,610.1 L1282.0,609.6 L1282.5,609.0 L1283.0,608.3 L1283.2,608.0 L1283.5,607.5 L1284.0,606.2 L1284.5,604.4 L1284.8,603.0 L1285.0,601.9 L1285.5,597.5 L1286.0,592.0 L1286.2,590.0 L1286.5,586.2 L1287.0,579.1 L1287.5,574.7 L1287.6,574.5 L1288.0,579.3 L1288.5,589.5 L1288.5,590.0 L1289.0,595.6 L1289.5,600.9 L1290.0,604.5 L1290.1,605.0 L1290.5,606.3 L1291.0,607.7 L1291.5,608.8 L1292.0,609.6 L1292.4,610.0 L1292.5,610.1 L1293.0,610.4 L1293.5,610.7 L1294.0,611.0 L1294.5,611.2 L1295.0,611.4 L1295.5,611.5 L1296.0,611.5 L1296.5,611.5 L1297.0,611.5 L1297.5,611.5 L1298.0,611.5 L1298.5,611.5 L1299.0,611.5 L1299.5,611.5 L1300.0,611.5 L1300.5,611.5 L1301.0,611.5 L1301.5,611.5 L1302.0,611.5 L1302.5,611.5 L1303.0,611.4 L1303.5,611.4 L1304.0,611.3 L1304.5,611.2 L1305.0,611.1 L1305.5,610.9 L1306.0,610.8 L1306.5,610.7 L1307.0,610.5 L1307.0,610.5 L1307.5,610.3 L1308.0,610.1 L1308.5,609.9 L1309.0,609.6 L1309.5,609.3 L1310.0,608.9 L1310.5,608.5 L1311.0,608.0 L1311.0,608.0 L1311.5,607.4 L1312.0,606.7 L1312.5,605.7 L1313.0,604.5 L1313.5,603.2 L1313.6,603.0 L1314.0,601.6 L1314.5,599.4 L1315.0,596.7 L1315.5,593.3 L1315.7,592.0 L1316.0,588.6 L1316.5,581.4 L1316.9,575.0 L1317.0,573.8 L1317.5,567.3 L1318.0,558.5 L1318.0,558.0 L1318.5,540.0 L1318.5,538.8 L1318.7,500.0 L1319.0,462.1 L1319.2,440.0 L1319.5,398.9 L1319.9,364.0 L1320.0,365.2 L1320.5,398.6 L1320.9,440.0 L1321.0,451.3 L1321.3,500.0 L1321.5,531.2 L1321.6,550.0 L1322.0,565.8 L1322.5,575.7 L1322.6,576.0 L1323.0,573.3 L1323.5,563.7 L1324.0,549.5 L1324.2,542.0 L1324.5,524.4 L1324.9,501.7 L1325.0,503.1 L1325.5,534.0 L1325.8,550.0 L1326.0,558.4 L1326.5,573.4 L1326.8,580.5 L1327.0,583.3 L1327.5,591.2 L1328.0,596.1 L1328.2,596.6 L1328.5,595.3 L1329.0,588.6 L1329.5,579.0 L1329.9,570.5 L1330.0,569.6 L1330.5,563.7 L1331.0,555.5 L1331.4,540.0 L1331.5,516.9 L1331.6,480.0 L1332.0,451.6 L1332.5,435.9 L1332.7,434.6 L1333.0,439.6 L1333.5,470.4 L1333.6,480.0 L1333.8,540.0 L1334.0,551.7 L1334.5,566.0 L1334.7,570.5 L1335.0,576.1 L1335.5,584.7 L1336.0,590.5 L1336.0,590.7 L1336.5,595.0 L1337.0,598.3 L1337.5,600.6 L1337.5,600.6 L1338.0,602.3 L1338.5,603.8 L1339.0,605.1 L1339.5,606.1 L1340.0,606.8 L1340.2,607.0 L1340.5,607.3 L1341.0,607.7 L1341.5,608.1 L1342.0,608.4 L1342.5,608.6 L1342.8,608.6 L1343.0,608.5 L1343.5,607.1 L1344.0,604.5 L1344.5,601.0 L1344.5,600.6 L1345.0,594.2 L1345.5,582.2 L1345.6,580.5 L1346.0,560.9 L1346.1,559.4 L1346.5,574.8 L1346.6,580.5 L1347.0,591.9 L1347.4,600.6 L1347.5,601.1 L1348.0,604.3 L1348.5,606.5 L1349.0,607.9 L1349.4,608.6 L1349.5,608.8 L1350.0,609.6 L1350.5,610.2 L1351.0,610.8 L1351.5,611.1 L1352.0,611.4 L1352.3,611.5 L1352.5,611.5 L1353.0,611.7 L1353.5,611.7 L1354.0,611.8 L1354.5,611.9 L1355.0,611.9 L1355.5,612.0 L1356.0,612.0 L1356.3,612.0 L1356.5,612.0 L1357.0,611.9 L1357.5,611.6 L1358.0,611.3 L1358.5,610.8 L1359.0,610.3 L1359.5,609.7 L1359.6,609.6 L1360.0,608.6 L1360.5,606.8 L1361.0,605.8 L1361.5,607.2 L1362.0,609.5 L1362.3,610.3 L1362.5,610.6 L1363.0,611.2 L1363.5,611.7 L1364.0,612.1 L1364.5,612.3 L1365.0,612.5 L1365.0,612.5 L1365.5,612.6 L1366.0,612.7 L1366.5,612.7 L1367.0,612.8 L1367.5,612.8 L1368.0,612.9 L1368.5,612.9 L1369.0,612.9 L1369.5,613.0 L1369.7,613.0 L1370.0,613.0 L1370.5,613.1 L1371.0,613.1 L1371.5,613.2 L1372.0,613.2 L1372.5,613.3 L1373.0,613.3 L1373.5,613.4 L1374.0,613.4 L1374.5,613.5 L1374.9,613.5 L1375.0,613.5 L1375.5,613.5 L1376.0,613.6 L1376.5,613.6 L1377.0,613.6 L1377.5,613.7 L1378.0,613.7 L1378.5,613.7 L1379.0,613.8 L1379.5,613.8 L1380.0,613.8 L1380.5,613.9 L1381.0,613.9 L1381.5,613.9 L1382.0,613.9 L1382.5,614.0 L1383.0,614.0 L1383.5,614.0 L1384.0,614.0 L1384.5,614.0 L1385.0,614.0 L1385.5,614.0 L1386.0,614.0 L1386.5,614.0 L1387.0,614.0 L1387.5,614.0 L1388.0,614.0 L1388.5,614.0 L1389.0,614.0 L1389.5,614.0 L1390.0,614.0 L1390.5,614.0 L1391.0,614.0 L1391.5,614.0 L1392.0,614.0 L1392.5,614.0 L1393.0,614.0 L1393.5,614.0 L1394.0,614.0 L1394.5,614.0 L1395.0,614.0 L1395.5,614.0 L1396.0,614.0 L1396.5,613.9 L1397.0,613.9 L1397.5,613.8 L1398.0,613.7 L1398.5,613.5 L1399.0,613.4 L1399.5,613.2 L1400.0,613.1 L1400.2,613.0 L1400.5,612.8 L1401.0,612.1 L1401.5,611.1 L1402.0,609.9 L1402.5,608.5 L1402.7,608.0 L1403.0,606.4 L1403.5,603.2 L1404.0,601.5 L1404.5,602.7 L1405.0,604.8 L1405.5,606.0 L1406.0,605.7 L1406.5,604.7 L1407.0,603.4 L1407.1,603.0 L1407.5,600.9 L1408.0,596.0 L1408.5,589.3 L1409.0,581.5 L1409.1,580.0 L1409.5,569.5 L1410.0,554.6 L1410.3,551.0 L1410.5,553.1 L1411.0,567.4 L1411.1,570.0 L1411.5,579.3 L1412.0,590.3 L1412.3,595.0 L1412.5,596.9 L1413.0,601.3 L1413.5,604.8 L1414.0,607.2 L1414.3,608.0 L1414.5,608.6 L1415.0,609.5 L1415.5,610.2 L1416.0,610.7 L1416.4,611.0 L1416.5,611.1 L1417.0,611.3 L1417.5,611.5 L1418.0,611.7 L1418.5,611.8 L1418.9,612.0 L1419.0,612.1 L1419.5,612.3 L1420.0,612.7 L1420.5,613.0 L1421.0,613.4 L1421.5,613.7 L1422.0,614.1 L1422.5,614.3 L1423.0,614.5 L1423.0,614.5 L1423.5,614.7 L1424.0,614.8 L1424.5,614.9 L1425.0,615.1 L1425.5,615.2 L1426.0,615.3 L1426.5,615.4 L1427.0,615.4 L1427.5,615.5 L1428.0,615.5 L1428.5,615.5 L1429.0,615.4 L1429.5,615.3 L1430.0,615.2 L1430.5,615.0 L1431.0,614.8 L1431.5,614.6 L1431.6,614.5 L1432.0,614.2 L1432.5,613.4 L1433.0,612.2 L1433.5,610.6 L1433.7,610.0 L1434.0,607.4 L1434.5,601.7 L1434.6,601.0 L1435.0,598.5 L1435.2,598.0 L1435.5,599.5 L1436.0,604.5 L1436.1,605.0 L1436.5,607.7 L1437.0,610.4 L1437.5,612.0 L1437.5,612.0 L1438.0,612.9 L1438.5,613.6 L1439.0,614.2 L1439.5,614.7 L1440.0,615.1 L1440.5,615.4 L1440.9,615.5 L1441.0,615.5 L1441.5,615.7 L1442.0,615.8 L1442.5,615.9 L1443.0,616.1 L1443.5,616.2 L1444.0,616.2 L1444.5,616.3 L1445.0,616.4 L1445.5,616.4 L1446.0,616.5 L1446.5,616.5 L1447.0,616.5 L1447.5,616.5 L1448.0,616.5 L1448.5,616.5 L1449.0,616.4 L1449.5,616.4 L1450.0,616.3 L1450.5,616.3 L1451.0,616.2 L1451.5,616.1 L1452.0,616.0 L1452.1,616.0 L1452.5,615.9 L1453.0,615.7 L1453.5,615.3 L1454.0,614.9 L1454.5,614.4 L1455.0,613.8 L1455.5,613.1 L1455.6,613.0 L1456.0,611.9 L1456.5,609.8 L1457.0,607.5 L1457.3,606.0 L1457.5,605.1 L1458.0,603.0 L1458.5,604.9 L1459.0,608.0 L1459.0,608.0 L1459.5,610.2 L1460.0,612.3 L1460.5,613.5 L1460.5,613.6 L1461.0,614.3 L1461.5,614.9 L1462.0,615.4 L1462.5,615.8 L1463.0,616.1 L1463.5,616.4 L1463.9,616.5 L1464.0,616.5 L1464.5,616.6 L1465.0,616.7 L1465.5,616.8 L1466.0,616.9 L1466.5,616.9 L1467.0,617.0 L1467.5,617.0 L1468.0,617.0 L1468.5,617.0 L1469.0,616.9 L1469.5,616.8 L1470.0,616.7 L1470.5,616.5 L1471.0,616.3 L1471.5,616.1 L1471.7,616.0 L1472.0,615.7 L1472.5,614.8 L1473.0,613.4 L1473.4,612.0 L1473.5,611.7 L1474.0,607.8 L1474.3,606.5 L1474.5,606.7 L1475.0,608.2 L1475.1,608.5 L1475.5,610.2 L1476.0,612.7 L1476.4,614.0 L1476.5,614.2 L1477.0,615.1 L1477.5,615.9 L1478.0,616.5 L1478.5,616.9 L1479.0,617.0 L1479.5,617.0 L1480.0,617.0 L1480.5,617.0 L1481.0,617.0 L1481.5,617.0 L1482.0,617.0 L1482.5,616.8 L1483.0,616.3 L1483.5,615.5 L1484.0,614.4 L1484.5,613.2 L1484.6,613.0 L1485.0,611.6 L1485.5,609.1 L1486.0,605.7 L1486.3,603.0 L1486.5,601.7 L1487.0,596.3 L1487.5,588.3 L1487.7,585.0 L1488.0,571.3 L1488.3,555.0 L1488.5,547.0 L1489.0,529.5 L1489.5,540.7 L1489.9,555.0 L1490.0,560.5 L1490.5,583.8 L1490.5,585.0 L1491.0,592.3 L1491.5,597.8 L1492.0,601.7 L1492.2,603.0 L1492.5,605.2 L1493.0,608.2 L1493.5,610.6 L1493.9,612.0 L1494.0,612.3 L1494.5,613.7 L1495.0,614.8 L1495.5,615.7 L1496.0,616.0 L1496.5,616.0 L1497.0,616.0 L1497.5,616.0 L1498.0,616.0 L1498.5,616.0 L1499.0,615.9 L1499.5,615.5 L1500.0,615.0 L1500.5,614.2 L1501.0,613.3 L1501.2,613.0 L1501.5,612.1 L1502.0,609.8 L1502.5,606.5 L1503.0,602.0 L1503.2,600.0 L1503.5,594.0 L1503.9,586.0 L1504.0,584.0 L1504.5,578.2 L1504.6,578.0 L1505.0,583.7 L1505.2,588.0 L1505.5,595.3 L1505.7,600.0 L1506.0,602.9 L1506.5,607.6 L1507.0,610.8 L1507.5,612.0 L1508.0,610.6 L1508.5,607.5 L1509.0,604.4 L1509.5,603.0 L1510.0,606.0 L1510.5,610.0 L1510.5,610.0 L1511.0,612.0 L1511.5,613.7 L1512.0,615.2 L1512.5,616.1 L1513.0,616.5 L1513.5,616.5 L1514.0,616.4 L1514.5,616.3 L1515.0,616.2 L1515.5,616.0 L1515.5,616.0 L1516.0,615.3 L1516.5,613.8 L1517.0,611.7 L1517.5,609.0 L1517.7,608.0 L1518.0,606.0 L1518.5,601.7 L1519.0,595.3 L1519.5,586.3 L1519.6,585.0 L1520.0,564.4 L1520.2,550.0 L1520.5,527.3 L1520.7,517.5 L1521.0,523.7 L1521.5,547.0 L1521.6,550.0 L1522.0,570.9 L1522.2,580.0 L1522.5,585.2 L1523.0,592.9 L1523.5,598.4 L1523.7,600.0 L1524.0,602.7 L1524.5,606.5 L1525.0,609.4 L1525.4,611.0 L1525.5,611.2 L1526.0,612.5 L1526.5,613.5 L1527.0,614.2 L1527.5,614.5 L1528.0,613.4 L1528.5,610.4 L1529.0,606.0 L1529.5,600.7 L1529.6,600.0 L1530.0,591.6 L1530.5,578.2 L1530.6,575.0 L1531.0,564.0 L1531.3,559.0 L1531.5,560.6 L1532.0,572.4 L1532.1,575.0 L1532.5,588.1 L1532.8,595.0 L1533.0,597.6 L1533.5,602.2 L1534.0,605.4 L1534.5,607.7 L1534.8,609.0 L1535.0,609.8 L1535.5,611.8 L1536.0,613.4 L1536.5,614.0 L1537.0,613.2 L1537.5,610.8 L1538.0,607.2 L1538.5,602.6 L1538.8,600.0 L1539.0,595.2 L1539.4,585.0 L1539.5,583.9 L1540.0,576.3 L1540.3,574.5 L1540.5,575.9 L1541.0,586.0 L1541.1,588.0 L1541.5,596.7 L1541.9,603.0 L1542.0,603.9 L1542.5,607.2 L1543.0,610.0 L1543.5,612.1 L1544.0,613.6 L1544.5,614.4 L1544.8,614.5 L1545.0,614.4 L1545.5,613.4 L1546.0,611.5 L1546.5,608.8 L1547.0,605.6 L1547.5,601.9 L1547.8,600.0 L1548.0,597.4 L1548.5,590.0 L1548.9,585.0 L1549.0,583.3 L1549.5,577.7 L1549.6,577.5 L1550.0,580.9 L1550.5,589.4 L1550.5,590.0 L1551.0,599.2 L1551.2,603.0 L1551.5,605.2 L1552.0,608.7 L1552.5,611.3 L1553.0,613.2 L1553.3,614.0 L1553.5,614.6 L1554.0,615.9 L1554.5,616.9 L1555.0,617.6 L1555.5,618.0 L1555.5,618.0 L1556.0,618.2 L1556.5,618.3 L1557.0,618.4 L1557.5,618.5 L1558.0,618.5 L1558.5,618.3 L1559.0,617.8 L1559.5,617.1 L1560.0,616.2 L1560.1,616.0 L1560.5,614.9 L1561.0,612.7 L1561.5,609.5 L1562.0,605.0 L1562.0,604.9 L1562.5,593.7 L1562.8,585.0 L1563.0,572.2 L1563.3,560.0 L1563.5,563.2 L1564.0,580.0 L1564.0,580.8 L1564.5,594.6 L1564.8,600.0 L1565.0,602.1 L1565.5,606.5 L1566.0,609.6 L1566.5,612.0 L1566.8,613.0 L1567.0,613.8 L1567.5,615.5 L1568.0,616.9 L1568.5,618.0 L1569.0,618.5 L1569.0,618.5 L1569.5,618.8 L1570.0,619.0 L1570.5,619.2 L1571.0,619.4 L1571.5,619.5 L1572.0,619.5 L1572.5,619.4 L1573.0,619.2 L1573.5,618.9 L1574.0,618.6 L1574.5,618.3 L1575.0,618.0 L1575.5,617.8 L1576.0,617.5 L1576.5,617.2 L1577.0,617.1 L1577.5,617.0 L1578.0,617.2 L1578.5,617.6 L1579.0,618.2 L1579.5,618.7 L1580.0,619.0 L1580.5,619.2 L1581.0,619.4 L1581.5,619.5 L1582.0,619.7 L1582.5,619.8 L1583.0,619.9 L1583.5,620.0 L1584.0,620.0 L1584.5,620.0 L1585.0,619.9 L1585.5,619.9 L1586.0,619.7 L1586.5,619.6 L1587.0,619.4 L1587.5,619.3 L1588.0,619.0 L1588.1,619.0 L1588.5,618.8 L1589.0,618.4 L1589.5,617.8 L1590.0,616.9 L1590.5,615.8 L1591.0,614.3 L1591.1,614.0 L1591.5,609.6 L1591.9,604.0 L1592.0,602.8 L1592.5,598.0 L1593.0,603.5 L1593.0,604.0 L1593.5,610.0 L1593.5,610.0 L1594.0,612.9 L1594.5,615.1 L1595.0,616.5 L1595.3,617.0 L1595.5,617.3 L1596.0,617.8 L1596.5,618.3 L1597.0,618.7 L1597.5,618.9 L1598.0,619.0 L1598.5,619.0 L1599.0,619.0 L1599.5,618.9 L1600.0,618.9 L1600.5,618.8 L1601.0,618.7 L1601.5,618.6 L1602.0,618.5 L1602.1,618.5 L1602.5,618.4 L1603.0,618.1 L1603.5,617.8 L1604.0,617.3 L1604.5,616.7 L1605.0,616.0 L1605.0,616.0 L1605.5,614.5 L1606.0,612.0 L1606.4,610.0 L1606.5,609.7 L1607.0,607.2 L1607.3,606.5 L1607.5,606.9 L1608.0,609.5 L1608.1,610.0 L1608.5,611.6 L1609.0,613.6 L1609.5,615.0 L1609.5,615.0 L1610.0,615.8 L1610.5,616.5 L1611.0,617.0 L1611.5,617.4 L1612.0,617.5 L1612.5,617.3 L1613.0,617.0 L1613.5,616.5 L1614.0,616.0 L1614.5,615.4 L1615.0,614.8 L1615.5,614.2 L1616.0,614.0 L1616.5,614.0 L1617.0,614.0 L1617.5,614.0 L1618.0,614.0 L1618.5,614.0 L1619.0,614.0 L1619.5,614.0 L1620.0,614.0 L1620.5,614.0 L1621.0,614.0 L1621.5,614.1 L1622.0,614.2 L1622.5,614.2 L1623.0,614.3 L1623.5,614.4 L1624.0,614.5 L1624.5,614.6 L1625.0,614.8 L1625.5,615.1 L1626.0,615.3 L1626.5,615.6 L1627.0,615.8 L1627.5,615.9 L1628.0,616.0 L1628.5,616.0 L1629.0,616.0 L1629.5,616.0 L1630.0,616.0 L1630.5,616.0 L1631.0,616.0 L1631.5,615.9 L1632.0,615.7 L1632.5,615.3 L1633.0,614.8 L1633.5,614.3 L1633.7,614.0 L1634.0,613.7 L1634.5,612.8 L1635.0,611.7 L1635.5,610.4 L1636.0,608.9 L1636.2,608.0 L1636.5,606.7 L1637.0,602.8 L1637.5,598.8 L1638.0,597.0 L1638.5,598.7 L1639.0,602.0 L1639.0,602.0 L1639.5,605.5 L1639.8,608.0" fill="none" stroke="#000" stroke-width="2.1" stroke-linejoin="round" stroke-linecap="butt"/>
<path d="M1075.5,615.5 L1076.0,615.5 L1076.5,615.4 L1077.0,615.3 L1077.5,615.1 L1078.0,614.9 L1078.5,614.7 L1079.0,614.4 L1079.5,614.2 L1080.0,613.9 L1080.5,613.5 L1080.6,613.5 L1081.0,613.2 L1081.5,612.6 L1082.0,611.9 L1082.5,611.1 L1082.6,611.0 L1083.0,609.7 L1083.5,608.2 L1083.7,608.0 L1084.0,608.5 L1084.5,610.7 L1084.9,612.0 L1085.0,612.1 L1085.5,612.8 L1086.0,613.4 L1086.5,613.8 L1087.0,614.2 L1087.5,614.4 L1087.8,614.5 L1088.0,614.5 L1088.5,614.6 L1089.0,614.7 L1089.5,614.7 L1090.0,614.8 L1090.5,614.8 L1091.0,614.9 L1091.5,614.9 L1092.0,614.9 L1092.5,614.9 L1093.0,615.0 L1093.5,615.0 L1094.0,615.0 L1094.5,615.0 L1095.0,615.0 L1095.5,615.0 L1096.0,615.0 L1096.5,615.0 L1097.0,615.0 L1097.5,615.0 L1098.0,615.0 L1098.5,615.0 L1099.0,615.0 L1099.5,615.0 L1100.0,615.0 L1100.5,615.0 L1101.0,615.0 L1101.5,615.0 L1102.0,615.0 L1102.5,615.0 L1103.0,615.0 L1103.5,615.0 L1104.0,615.0 L1104.5,615.0 L1105.0,615.0 L1105.5,615.0 L1106.0,615.0 L1106.5,615.0 L1107.0,615.0 L1107.5,615.0 L1108.0,615.0 L1108.5,615.0 L1109.0,614.8 L1109.5,614.6 L1110.0,614.3 L1110.5,614.0 L1111.0,613.7 L1111.2,613.5 L1111.5,613.3 L1112.0,612.6 L1112.5,611.8 L1113.0,610.8 L1113.5,609.7 L1113.8,609.0 L1114.0,608.0 L1114.5,605.0 L1115.0,601.9 L1115.5,600.5 L1116.0,603.2 L1116.5,607.0 L1116.5,607.0 L1117.0,608.9 L1117.5,610.6 L1118.0,611.7 L1118.2,612.0 L1118.5,612.4 L1119.0,613.0 L1119.5,613.5 L1120.0,613.9 L1120.5,614.0 L1121.0,613.5 L1121.5,612.5 L1122.0,611.5 L1122.5,611.0 L1123.0,611.6 L1123.5,612.7 L1124.0,613.5 L1124.5,613.8 L1125.0,614.0 L1125.5,614.2 L1126.0,614.4 L1126.5,614.5 L1127.0,614.5 L1127.5,614.5 L1128.0,614.5 L1128.5,614.4 L1129.0,614.4 L1129.5,614.3 L1130.0,614.3 L1130.5,614.2 L1131.0,614.1 L1131.5,614.1 L1132.0,614.0 L1132.5,613.9 L1133.0,613.8 L1133.5,613.7 L1134.0,613.7 L1134.5,613.6 L1135.0,613.5 L1135.1,613.5 L1135.5,613.4 L1136.0,613.4 L1136.5,613.3 L1137.0,613.2 L1137.5,613.1 L1138.0,613.1 L1138.5,613.0 L1139.0,612.9 L1139.5,612.8 L1140.0,612.8 L1140.5,612.7 L1141.0,612.6 L1141.5,612.6 L1142.0,612.5 L1142.1,612.5 L1142.5,612.5 L1143.0,612.4 L1143.5,612.4 L1144.0,612.3 L1144.5,612.3 L1145.0,612.3 L1145.5,612.2 L1146.0,612.2 L1146.5,612.1 L1147.0,612.0 L1147.1,612.0 L1147.5,611.9 L1148.0,611.7 L1148.5,611.5 L1149.0,611.2 L1149.5,610.8 L1150.0,610.3 L1150.2,610.0 L1150.5,609.6 L1151.0,608.5 L1151.5,606.6 L1152.0,603.8 L1152.1,603.0 L1152.5,597.2 L1152.8,590.0 L1153.0,585.7 L1153.5,575.0 L1154.0,582.5 L1154.4,590.0 L1154.5,591.8 L1155.0,598.5 L1155.5,603.0 L1155.5,603.0 L1156.0,605.4 L1156.5,607.2 L1157.0,608.4 L1157.4,609.0 L1157.5,609.2 L1158.0,609.8 L1158.5,610.2 L1159.0,610.6 L1159.5,610.9 L1160.0,611.0 L1160.0,611.0 L1160.5,611.1 L1161.0,611.1 L1161.5,611.2 L1162.0,611.2 L1162.5,611.3 L1163.0,611.3 L1163.5,611.4 L1164.0,611.4 L1164.5,611.4 L1165.0,611.4 L1165.5,611.5 L1166.0,611.5 L1166.5,611.5 L1167.0,611.5 L1167.5,611.5 L1168.0,611.5 L1168.5,611.5 L1169.0,611.3 L1169.5,611.2 L1170.0,611.0 L1170.5,610.8 L1171.0,610.7 L1171.5,610.5 L1172.0,610.5 L1172.5,610.5 L1173.0,610.7 L1173.5,610.8 L1174.0,611.0 L1174.5,611.2 L1175.0,611.3 L1175.5,611.5 L1176.0,611.5 L1176.5,611.5 L1177.0,611.5 L1177.5,611.5 L1178.0,611.4 L1178.5,611.4 L1179.0,611.4 L1179.5,611.3 L1180.0,611.3 L1180.5,611.2 L1181.0,611.1 L1181.5,611.1 L1182.0,611.0 L1182.1,611.0 L1182.5,611.0 L1183.0,610.9 L1183.5,610.8 L1184.0,610.7 L1184.5,610.6 L1185.0,610.5 L1185.5,610.3 L1186.0,610.1 L1186.3,610.0 L1186.5,609.9 L1187.0,609.3 L1187.5,608.5 L1188.0,607.4 L1188.5,606.2 L1188.6,606.0 L1189.0,604.5 L1189.5,602.5 L1189.8,602.0 L1190.0,602.2 L1190.5,604.2 L1190.9,606.0 L1191.0,606.2 L1191.5,607.6 L1192.0,608.9 L1192.5,609.8 L1192.7,610.0 L1193.0,610.3 L1193.5,610.6 L1194.0,610.9 L1194.5,611.2 L1195.0,611.3 L1195.5,611.5 L1196.0,611.5 L1196.5,611.5 L1197.0,611.5 L1197.5,611.4 L1198.0,611.4 L1198.5,611.3 L1199.0,611.2 L1199.5,611.1 L1200.0,611.0 L1200.1,611.0 L1200.5,610.9 L1201.0,610.7 L1201.5,610.5 L1202.0,610.3 L1202.5,610.0 L1203.0,609.7 L1203.3,609.5 L1203.5,609.3 L1204.0,608.9 L1204.5,608.2 L1205.0,607.5 L1205.5,606.6 L1206.0,605.6 L1206.2,605.0 L1206.5,604.2 L1207.0,602.1 L1207.5,600.0 L1207.5,600.0 L1208.0,598.1 L1208.5,597.0 L1209.0,598.9 L1209.5,602.0 L1209.5,602.0 L1210.0,604.3 L1210.5,606.3 L1210.8,607.0 L1211.0,607.3 L1211.5,608.0 L1212.0,608.5 L1212.5,608.9 L1213.0,609.2 L1213.5,609.4 L1213.6,609.5 L1214.0,609.6 L1214.5,609.8 L1215.0,609.9 L1215.5,610.1 L1216.0,610.2 L1216.5,610.3 L1217.0,610.4 L1217.5,610.5 L1217.8,610.5 L1218.0,610.5 L1218.5,610.6 L1219.0,610.7 L1219.5,610.7 L1220.0,610.8 L1220.5,610.9 L1221.0,610.9 L1221.5,611.0 L1222.0,611.0 L1222.5,611.1 L1223.0,611.1 L1223.5,611.2 L1224.0,611.2 L1224.5,611.3 L1224.9,611.3 L1225.0,611.3 L1225.5,611.4 L1226.0,611.4 L1226.5,611.4 L1227.0,611.5 L1227.5,611.5 L1228.0,611.6 L1228.5,611.6 L1229.0,611.7 L1229.5,611.7 L1230.0,611.8 L1230.5,611.8 L1231.0,611.8 L1231.5,611.9 L1232.0,611.9 L1232.5,611.9 L1233.0,612.0 L1233.5,612.0 L1234.0,612.0 L1234.5,612.0 L1235.0,612.0 L1235.5,612.0 L1236.0,612.0 L1236.5,612.0 L1237.0,612.0 L1237.5,611.9 L1238.0,611.9 L1238.5,611.9 L1239.0,611.9 L1239.5,611.8 L1240.0,611.8 L1240.5,611.8 L1241.0,611.7 L1241.5,611.7 L1242.0,611.6 L1242.5,611.6 L1243.0,611.5 L1243.0,611.5 L1243.5,611.4 L1244.0,611.3 L1244.5,611.2 L1245.0,611.0 L1245.5,610.8 L1246.0,610.6 L1246.5,610.3 L1247.0,610.1 L1247.1,610.0 L1247.5,609.8 L1248.0,609.4 L1248.5,608.9 L1249.0,608.2 L1249.5,607.5 L1249.8,607.0 L1250.0,606.6 L1250.5,605.3 L1251.0,603.5 L1251.5,601.1 L1251.7,600.0 L1252.0,597.8 L1252.5,592.2 L1253.0,586.5 L1253.2,585.0 L1253.5,582.0 L1254.0,577.9 L1254.5,576.0 L1255.0,581.9 L1255.5,590.0 L1255.5,590.0 L1256.0,593.8 L1256.5,596.9 L1257.0,599.2 L1257.2,600.0 L1257.5,600.8 L1258.0,602.1 L1258.5,603.1 L1259.0,603.5 L1259.5,602.2 L1260.0,599.4 L1260.5,597.0 L1260.5,597.0 L1261.0,595.4 L1261.5,594.5 L1262.0,596.9 L1262.2,598.0 L1262.5,600.0 L1263.0,603.0 L1263.2,604.0 L1263.5,604.7 L1264.0,605.9 L1264.5,606.8 L1265.0,607.6 L1265.5,608.2 L1265.9,608.5 L1266.0,608.6 L1266.5,608.9 L1267.0,609.2 L1267.5,609.4 L1268.0,609.5 L1268.5,609.3 L1269.0,608.9 L1269.5,608.3 L1270.0,607.6 L1270.1,607.5 L1270.5,606.8 L1271.0,605.7 L1271.5,604.4 L1272.0,602.8 L1272.2,602.0 L1272.5,600.9 L1273.0,598.5 L1273.5,595.3 L1274.0,591.0 L1274.1,590.0 L1274.5,583.6 L1275.0,571.5 L1275.3,565.0 L1275.5,557.8 L1276.0,542.1 L1276.2,540.0 L1276.5,544.8 L1277.0,562.7 L1277.1,565.0 L1277.5,580.2 L1277.8,588.0 L1278.0,590.0 L1278.5,594.2 L1279.0,597.0 L1279.5,599.2 L1279.7,600.0 L1280.0,601.3 L1280.5,603.2 L1281.0,604.9 L1281.5,606.2 L1281.9,607.0 L1282.0,607.2 L1282.5,608.0 L1283.0,608.7 L1283.5,609.2 L1284.0,609.5 L1284.0,609.5 L1284.5,609.7 L1285.0,609.9 L1285.5,610.1 L1286.0,610.2 L1286.5,610.3 L1287.0,610.4 L1287.5,610.5 L1288.0,610.5 L1288.5,610.5 L1289.0,610.4 L1289.5,610.3 L1290.0,610.2 L1290.5,610.1 L1291.0,609.9 L1291.5,609.8 L1292.0,609.5 L1292.1,609.5 L1292.5,609.3 L1293.0,608.8 L1293.5,608.2 L1294.0,607.4 L1294.5,606.4 L1295.0,605.3 L1295.1,605.0 L1295.5,603.4 L1296.0,600.2 L1296.5,597.0 L1296.5,597.0 L1297.0,593.2 L1297.5,591.0 L1298.0,593.9 L1298.4,597.0 L1298.5,597.9 L1299.0,601.4 L1299.3,603.0 L1299.5,603.5 L1300.0,604.8 L1300.5,605.8 L1301.0,606.6 L1301.5,607.2 L1301.9,607.5 L1302.0,607.6 L1302.5,607.9 L1303.0,608.1 L1303.5,608.3 L1304.0,608.5 L1304.5,608.5 L1305.0,608.3 L1305.5,607.9 L1306.0,607.3 L1306.5,606.5 L1306.5,606.5 L1307.0,605.2 L1307.5,603.1 L1308.0,600.5 L1308.1,600.0 L1308.5,597.6 L1309.0,594.2 L1309.5,590.1 L1309.7,588.0 L1310.0,584.9 L1310.5,578.0 L1311.0,570.2 L1311.0,570.0 L1311.5,563.0 L1312.0,552.8 L1312.1,550.0 L1312.4,530.0 L1312.5,519.2 L1312.6,505.0 L1313.0,467.4 L1313.1,460.0 L1313.5,430.0 L1314.0,409.0 L1314.5,430.0 L1314.9,460.0 L1315.0,467.8 L1315.4,505.0 L1315.5,513.4 L1315.7,530.0 L1315.8,550.0 L1316.0,562.8 L1316.5,578.0 L1316.5,578.4 L1317.0,584.4 L1317.5,588.3 L1318.0,591.3 L1318.1,592.0 L1318.5,594.2 L1319.0,596.8 L1319.5,599.1 L1320.0,601.0 L1320.3,602.0 L1320.5,602.5 L1321.0,603.8 L1321.5,605.1 L1322.0,606.3 L1322.5,607.2 L1323.0,607.8 L1323.5,608.0 L1324.0,607.8 L1324.5,607.2 L1325.0,606.4 L1325.5,605.2 L1326.0,603.9 L1326.3,603.0 L1326.5,602.3 L1327.0,599.5 L1327.5,595.5 L1328.0,590.9 L1328.1,590.0 L1328.5,583.9 L1329.0,575.5 L1329.3,573.5 L1329.5,574.7 L1330.0,581.9 L1330.1,583.0 L1330.5,586.1 L1331.0,589.4 L1331.5,592.1 L1332.0,594.5 L1332.1,595.0 L1332.5,596.6 L1333.0,598.6 L1333.5,599.5 L1334.0,598.8 L1334.5,597.2 L1335.0,595.7 L1335.5,595.0 L1336.0,597.0 L1336.5,600.0 L1336.5,600.0 L1337.0,602.0 L1337.5,603.8 L1338.0,604.5 L1338.5,603.9 L1339.0,602.6 L1339.5,602.0 L1340.0,602.6 L1340.5,603.9 L1341.0,604.5 L1341.5,604.0 L1342.0,603.0 L1342.5,602.2 L1342.8,602.0 L1343.0,602.1 L1343.5,603.2 L1344.0,604.0 L1344.5,603.3 L1345.0,601.7 L1345.2,601.0 L1345.5,600.3 L1346.0,598.9 L1346.5,597.1 L1346.7,596.0 L1347.0,594.1 L1347.5,588.7 L1347.8,585.0 L1348.0,582.1 L1348.5,573.3 L1348.8,565.0 L1349.0,542.1 L1349.3,512.0 L1349.4,540.0 L1349.5,531.2 L1349.8,485.0 L1350.0,475.1 L1350.5,460.9 L1350.6,460.4 L1351.0,466.2 L1351.4,485.0 L1351.5,513.2 L1351.6,540.0 L1351.8,512.0 L1352.0,535.0 L1352.2,565.0 L1352.5,571.1 L1353.0,577.8 L1353.5,581.7 L1353.9,585.0 L1354.0,585.7 L1354.5,590.4 L1355.0,594.4 L1355.4,597.0 L1355.5,597.5 L1356.0,600.3 L1356.5,602.6 L1357.0,603.5 L1357.5,603.1 L1358.0,601.9 L1358.5,600.4 L1358.6,600.0 L1359.0,597.2 L1359.4,594.0 L1359.5,593.7 L1360.0,591.5 L1360.3,591.0 L1360.5,591.7 L1361.0,596.3 L1361.1,597.0 L1361.5,599.0 L1362.0,601.3 L1362.5,602.7 L1362.8,603.0 L1363.0,602.8 L1363.5,600.7 L1364.0,597.3 L1364.5,593.6 L1364.6,593.0 L1365.0,589.3 L1365.5,584.6 L1365.8,583.5 L1366.0,584.2 L1366.5,589.4 L1366.9,594.0 L1367.0,594.4 L1367.5,597.6 L1368.0,600.3 L1368.5,602.6 L1368.9,604.0 L1369.0,604.2 L1369.5,605.5 L1370.0,606.7 L1370.5,607.6 L1371.0,608.5 L1371.5,609.1 L1371.8,609.5 L1372.0,609.6 L1372.5,610.1 L1373.0,610.5 L1373.5,610.9 L1374.0,611.2 L1374.5,611.4 L1375.0,611.5 L1375.5,611.5 L1376.0,611.4 L1376.5,611.4 L1377.0,611.3 L1377.5,611.2 L1378.0,611.0 L1378.1,611.0 L1378.5,610.8 L1379.0,610.5 L1379.5,610.0 L1380.0,609.4 L1380.5,608.8 L1381.0,608.0 L1381.5,607.2 L1381.6,607.0 L1382.0,606.1 L1382.5,604.6 L1383.0,602.9 L1383.5,601.1 L1383.7,600.5 L1384.0,599.0 L1384.5,596.7 L1385.0,595.5 L1385.5,597.3 L1386.0,600.0 L1386.0,600.0 L1386.5,601.8 L1387.0,603.6 L1387.5,605.0 L1388.0,605.5 L1388.5,605.2 L1389.0,604.5 L1389.5,603.8 L1390.0,603.5 L1390.5,604.9 L1391.0,607.0 L1391.0,607.0 L1391.5,608.2 L1392.0,609.3 L1392.5,610.2 L1393.0,610.9 L1393.1,611.0 L1393.5,611.3 L1394.0,611.7 L1394.5,612.0 L1395.0,612.3 L1395.5,612.4 L1396.0,612.5 L1396.5,612.5 L1397.0,612.5 L1397.5,612.5 L1398.0,612.5 L1398.5,612.5 L1399.0,612.5 L1399.5,612.5 L1400.0,612.5 L1400.5,612.5 L1401.0,612.5 L1401.5,612.5 L1402.0,612.5 L1402.5,612.4 L1403.0,612.2 L1403.5,611.9 L1404.0,611.6 L1404.5,611.3 L1405.0,611.0 L1405.5,610.7 L1406.0,610.4 L1406.5,610.1 L1407.0,610.0 L1407.5,610.2 L1408.0,610.5 L1408.5,610.8 L1409.0,611.0 L1409.5,610.9 L1410.0,610.6 L1410.5,610.1 L1411.0,609.5 L1411.4,609.0 L1411.5,608.8 L1412.0,607.7 L1412.5,606.2 L1413.0,604.7 L1413.2,604.0 L1413.5,603.3 L1414.0,601.6 L1414.5,600.1 L1415.0,599.5 L1415.5,600.0 L1416.0,601.2 L1416.3,602.0 L1416.5,602.4 L1417.0,603.9 L1417.5,605.5 L1418.0,607.0 L1418.4,608.0 L1418.5,608.1 L1419.0,608.9 L1419.5,609.7 L1420.0,610.4 L1420.5,610.8 L1421.0,611.0 L1421.5,610.9 L1422.0,610.5 L1422.5,610.0 L1423.0,609.3 L1423.2,609.0 L1423.5,608.5 L1424.0,607.4 L1424.5,605.8 L1425.0,604.0 L1425.2,603.0 L1425.5,601.8 L1426.0,598.6 L1426.4,596.0 L1426.5,595.6 L1427.0,592.7 L1427.3,592.0 L1427.5,592.6 L1428.0,596.3 L1428.1,597.0 L1428.5,599.3 L1429.0,602.1 L1429.5,604.0 L1429.5,604.1 L1430.0,605.7 L1430.5,607.0 L1431.0,607.8 L1431.3,608.0 L1431.5,607.9 L1432.0,606.6 L1432.5,604.2 L1433.0,601.2 L1433.2,600.0 L1433.5,597.4 L1434.0,591.4 L1434.3,588.0 L1434.5,586.5 L1435.0,583.5 L1435.5,587.5 L1435.9,592.0 L1436.0,593.4 L1436.5,599.1 L1436.8,601.0 L1437.0,602.2 L1437.5,604.1 L1438.0,605.6 L1438.5,606.7 L1439.0,607.8 L1439.1,608.0 L1439.5,608.8 L1440.0,609.8 L1440.5,610.8 L1441.0,611.6 L1441.5,612.2 L1441.9,612.5 L1442.0,612.5 L1442.5,612.8 L1443.0,613.0 L1443.5,613.2 L1444.0,613.4 L1444.5,613.5 L1445.0,613.5 L1445.5,613.5 L1446.0,613.4 L1446.5,613.2 L1447.0,613.0 L1447.5,612.8 L1448.0,612.6 L1448.2,612.5 L1448.5,612.3 L1449.0,612.0 L1449.5,611.6 L1450.0,611.2 L1450.5,610.8 L1451.0,610.5 L1451.0,610.5 L1451.5,610.3 L1452.0,610.2 L1452.5,610.0 L1453.0,609.8 L1453.5,609.6 L1453.7,609.5 L1454.0,609.2 L1454.5,608.2 L1455.0,606.9 L1455.5,605.6 L1455.8,605.0 L1456.0,604.4 L1456.5,602.9 L1457.0,601.6 L1457.5,601.0 L1458.0,601.3 L1458.5,602.0 L1458.8,602.5 L1459.0,602.8 L1459.5,604.0 L1460.0,605.6 L1460.5,607.0 L1460.9,608.0 L1461.0,608.1 L1461.5,609.0 L1462.0,609.7 L1462.5,610.3 L1463.0,610.5 L1463.5,610.0 L1464.0,608.7 L1464.5,606.9 L1465.0,605.0 L1465.2,604.0 L1465.5,602.8 L1466.0,599.4 L1466.5,596.6 L1466.8,596.0 L1467.0,596.2 L1467.5,598.1 L1467.9,600.0 L1468.0,600.2 L1468.5,601.9 L1469.0,603.6 L1469.5,605.1 L1469.9,606.0 L1470.0,606.2 L1470.5,607.3 L1471.0,608.3 L1471.5,609.2 L1472.0,609.8 L1472.5,610.0 L1473.0,609.7 L1473.5,609.0 L1474.0,608.5 L1474.5,608.2 L1475.0,607.8 L1475.5,607.6 L1476.0,607.5 L1476.5,609.0 L1477.0,611.0 L1477.0,611.0 L1477.5,612.1 L1478.0,613.0 L1478.5,613.8 L1479.0,614.4 L1479.2,614.5 L1479.5,614.6 L1480.0,614.8 L1480.5,615.0 L1481.0,615.2 L1481.5,615.3 L1482.0,615.4 L1482.5,615.5 L1483.0,615.5 L1483.5,615.5 L1484.0,615.4 L1484.5,615.3 L1485.0,615.2 L1485.5,615.1 L1486.0,614.9 L1486.5,614.7 L1487.0,614.5 L1487.0,614.5 L1487.5,614.3 L1488.0,613.9 L1488.5,613.5 L1489.0,612.9 L1489.5,612.2 L1489.7,612.0 L1490.0,611.5 L1490.5,610.4 L1491.0,609.0 L1491.5,607.2 L1492.0,605.1 L1492.0,605.0 L1492.5,601.7 L1493.0,596.8 L1493.5,591.1 L1493.6,590.0 L1494.0,583.0 L1494.5,573.7 L1494.8,571.5 L1495.0,572.3 L1495.5,578.7 L1495.9,585.0 L1496.0,585.7 L1496.5,591.7 L1497.0,597.2 L1497.3,600.0 L1497.5,601.2 L1498.0,604.3 L1498.5,606.9 L1499.0,608.9 L1499.3,610.0 L1499.5,610.4 L1500.0,611.7 L1500.5,612.6 L1501.0,613.0 L1501.5,612.2 L1502.0,610.2 L1502.5,607.5 L1502.9,605.0 L1503.0,604.6 L1503.5,601.1 L1504.0,596.6 L1504.5,591.6 L1504.7,590.0 L1505.0,585.5 L1505.5,577.8 L1506.0,574.0 L1506.5,578.0 L1506.9,582.0 L1507.0,582.9 L1507.5,586.7 L1508.0,589.7 L1508.5,591.0 L1509.0,588.8 L1509.5,584.7 L1510.0,582.5 L1510.5,586.9 L1510.9,592.0 L1511.0,593.6 L1511.5,600.5 L1511.8,603.0 L1512.0,604.8 L1512.5,607.7 L1513.0,610.0 L1513.5,611.8 L1513.6,612.0 L1514.0,613.0 L1514.5,614.1 L1515.0,614.9 L1515.5,615.6 L1515.8,616.0 L1516.0,616.2 L1516.5,616.7 L1517.0,617.2 L1517.5,617.7 L1518.0,618.0 L1518.5,618.3 L1519.0,618.5 L1519.0,618.5 L1519.5,618.6 L1520.0,618.8 L1520.5,618.9 L1521.0,618.9 L1521.5,619.0 L1522.0,619.0 L1522.5,619.0 L1523.0,618.8 L1523.5,618.6 L1524.0,618.3 L1524.5,618.0 L1525.0,617.7 L1525.2,617.5 L1525.5,617.2 L1526.0,616.6 L1526.5,615.7 L1527.0,614.7 L1527.5,613.6 L1527.8,613.0 L1528.0,612.3 L1528.5,610.3 L1529.0,608.6 L1529.2,608.0 L1529.5,607.6 L1530.0,606.9 L1530.5,606.4 L1531.0,606.0 L1531.2,606.0 L1531.5,606.0 L1532.0,606.0 L1532.3,606.0 L1532.5,605.8 L1533.0,604.5 L1533.5,605.3 L1534.0,606.7 L1534.5,607.5 L1535.0,607.0 L1535.5,606.0 L1536.0,605.5 L1536.5,606.9 L1537.0,609.0 L1537.0,609.0 L1537.5,610.5 L1538.0,611.9 L1538.5,612.9 L1538.5,613.0 L1539.0,613.7 L1539.5,614.3 L1540.0,614.8 L1540.5,615.0 L1541.0,614.5 L1541.5,613.3 L1542.0,611.5 L1542.5,609.5 L1542.6,609.0 L1543.0,607.0 L1543.5,603.4 L1544.0,600.0 L1544.0,600.0 L1544.5,596.5 L1545.0,594.5 L1545.5,596.4 L1546.0,600.0 L1546.0,600.0 L1546.5,604.2 L1547.0,608.6 L1547.2,610.0 L1547.5,611.0 L1548.0,612.7 L1548.5,614.1 L1549.0,615.2 L1549.5,616.1 L1549.8,616.5 L1550.0,616.7 L1550.5,617.3 L1551.0,617.7 L1551.5,618.1 L1552.0,618.4 L1552.5,618.5 L1553.0,618.5 L1553.5,618.3 L1554.0,618.1 L1554.5,617.8 L1555.0,617.5 L1555.0,617.5 L1555.5,616.9 L1556.0,615.7 L1556.5,614.4 L1557.0,613.3 L1557.2,613.0 L1557.5,612.6 L1558.0,612.1 L1558.5,611.7 L1558.8,611.5 L1559.0,611.4 L1559.5,611.3 L1560.0,611.1 L1560.3,611.0 L1560.5,610.8 L1561.0,609.6 L1561.5,607.6 L1562.0,605.1 L1562.0,605.0 L1562.5,601.4 L1563.0,595.6 L1563.2,592.0 L1563.5,586.3 L1563.9,575.0 L1564.0,573.7 L1564.5,564.7 L1564.8,562.5 L1565.0,563.7 L1565.5,572.9 L1565.6,575.0 L1566.0,585.8 L1566.3,592.0 L1566.5,594.6 L1567.0,599.2 L1567.5,602.4 L1567.9,604.0 L1568.0,604.6 L1568.5,606.3 L1569.0,607.0 L1569.5,604.0 L1570.0,598.5 L1570.5,595.5 L1571.0,598.0 L1571.5,602.0 L1571.5,602.0 L1572.0,604.9 L1572.5,607.7 L1573.0,609.8 L1573.1,610.0 L1573.5,611.1 L1574.0,612.3 L1574.5,613.2 L1575.0,613.5 L1575.5,613.2 L1576.0,612.4 L1576.5,611.3 L1577.0,610.3 L1577.2,610.0 L1577.5,609.3 L1578.0,608.1 L1578.5,607.5 L1579.0,607.8 L1579.5,608.5 L1579.8,609.0 L1580.0,609.3 L1580.5,610.6 L1581.0,612.1 L1581.4,613.0 L1581.5,613.1 L1582.0,613.7 L1582.5,614.2 L1583.0,614.6 L1583.5,614.9 L1584.0,615.0 L1584.5,614.4 L1585.0,613.0 L1585.5,611.6 L1586.0,611.0 L1586.5,611.6 L1587.0,612.8 L1587.3,613.5 L1587.5,613.8 L1588.0,614.7 L1588.5,615.6 L1589.0,616.4 L1589.5,616.9 L1589.6,617.0 L1590.0,617.3 L1590.5,617.6 L1591.0,617.9 L1591.5,618.2 L1592.0,618.3 L1592.5,618.5 L1593.0,618.5 L1593.5,618.5 L1594.0,618.4 L1594.5,618.4 L1595.0,618.3 L1595.5,618.2 L1596.0,618.0 L1596.1,618.0 L1596.5,617.7 L1597.0,616.8 L1597.5,615.4 L1598.0,613.7 L1598.2,613.0 L1598.5,609.9 L1598.8,607.0 L1599.0,606.4 L1599.5,605.5 L1600.0,606.0 L1600.5,607.1 L1601.0,608.0 L1601.5,608.7 L1602.0,609.2 L1602.5,609.5 L1603.0,609.3 L1603.5,608.8 L1604.0,608.2 L1604.5,608.0 L1605.0,608.7 L1605.5,610.2 L1605.8,611.0 L1606.0,611.3 L1606.5,612.2 L1607.0,613.0 L1607.5,613.8 L1608.0,614.3 L1608.5,614.5 L1609.0,614.3 L1609.5,613.7 L1610.0,612.8 L1610.4,612.0 L1610.5,611.9 L1611.0,610.3 L1611.5,608.2 L1612.0,606.2 L1612.1,606.0 L1612.5,604.3 L1613.0,602.7 L1613.2,602.5 L1613.5,603.2 L1614.0,605.7 L1614.1,606.0 L1614.5,608.0 L1615.0,610.3 L1615.2,611.0 L1615.5,611.5 L1616.0,612.4 L1616.5,613.1 L1617.0,613.6 L1617.5,614.0 L1617.6,614.0 L1618.0,614.1 L1618.5,614.2 L1619.0,614.3 L1619.5,614.3 L1620.0,614.4 L1620.5,614.5 L1620.7,614.5 L1621.0,614.6 L1621.5,614.7 L1622.0,614.8 L1622.5,614.9 L1623.0,615.0 L1623.5,615.2 L1624.0,615.3 L1624.5,615.4 L1624.8,615.5 L1625.0,615.5 L1625.5,615.7 L1626.0,615.8 L1626.5,616.0 L1627.0,616.1 L1627.5,616.3 L1628.0,616.4 L1628.5,616.5 L1629.0,616.5 L1629.5,616.5 L1630.0,616.4 L1630.5,616.2 L1631.0,616.0 L1631.5,615.8 L1632.0,615.6 L1632.1,615.5 L1632.5,615.2 L1633.0,614.6 L1633.5,613.9 L1634.0,612.9 L1634.4,612.0 L1634.5,611.8 L1635.0,610.2 L1635.5,607.7 L1635.9,605.0 L1636.0,604.4 L1636.5,596.2 L1636.8,593.5 L1637.0,594.0 L1637.5,597.3 L1637.6,598.0 L1638.0,601.1 L1638.3,603.0 L1638.5,604.1 L1639.0,606.4 L1639.5,608.1 L1640.0,609.0" fill="none" stroke="#ca161e" stroke-width="2.0" stroke-linejoin="round" stroke-linecap="butt"/>
<path d="M783.8,310.5 L785,311.5" stroke="#ca161e" stroke-width="1.4" fill="none"/>
<path d="M209.6,626.55 L783.2,626.55 M209.60,625.8499999999999 L209.60,646.8499999999999 M220.84,625.8499999999999 L220.84,638.55 M232.08,625.8499999999999 L232.08,638.55 M243.31,625.8499999999999 L243.31,638.55 M254.55,625.8499999999999 L254.55,638.55 M265.79,625.8499999999999 L265.79,638.55 M277.03,625.8499999999999 L277.03,638.55 M288.27,625.8499999999999 L288.27,638.55 M299.50,625.8499999999999 L299.50,638.55 M310.74,625.8499999999999 L310.74,638.55 M321.98,625.8499999999999 L321.98,646.8499999999999 M333.22,625.8499999999999 L333.22,638.55 M344.46,625.8499999999999 L344.46,638.55 M355.69,625.8499999999999 L355.69,638.55 M366.93,625.8499999999999 L366.93,638.55 M378.17,625.8499999999999 L378.17,638.55 M389.41,625.8499999999999 L389.41,638.55 M400.65,625.8499999999999 L400.65,638.55 M411.88,625.8499999999999 L411.88,638.55 M423.12,625.8499999999999 L423.12,638.55 M434.36,625.8499999999999 L434.36,646.8499999999999 M445.60,625.8499999999999 L445.60,638.55 M456.84,625.8499999999999 L456.84,638.55 M468.07,625.8499999999999 L468.07,638.55 M479.31,625.8499999999999 L479.31,638.55 M490.55,625.8499999999999 L490.55,638.55 M501.79,625.8499999999999 L501.79,638.55 M513.03,625.8499999999999 L513.03,638.55 M524.26,625.8499999999999 L524.26,638.55 M535.50,625.8499999999999 L535.50,638.55 M546.74,625.8499999999999 L546.74,646.8499999999999 M557.98,625.8499999999999 L557.98,638.55 M569.22,625.8499999999999 L569.22,638.55 M580.45,625.8499999999999 L580.45,638.55 M591.69,625.8499999999999 L591.69,638.55 M602.93,625.8499999999999 L602.93,638.55 M614.17,625.8499999999999 L614.17,638.55 M625.41,625.8499999999999 L625.41,638.55 M636.64,625.8499999999999 L636.64,638.55 M647.88,625.8499999999999 L647.88,638.55 M659.12,625.8499999999999 L659.12,646.8499999999999 M670.36,625.8499999999999 L670.36,638.55 M681.60,625.8499999999999 L681.60,638.55 M692.83,625.8499999999999 L692.83,638.55 M704.07,625.8499999999999 L704.07,638.55 M715.31,625.8499999999999 L715.31,638.55 M726.55,625.8499999999999 L726.55,638.55 M737.79,625.8499999999999 L737.79,638.55 M749.02,625.8499999999999 L749.02,638.55 M760.26,625.8499999999999 L760.26,638.55 M771.50,625.8499999999999 L771.50,646.8499999999999 M782.74,625.8499999999999 L782.74,638.55" fill="none" stroke="#000" stroke-width="1.6"/>
<path d="M1072.3,626.55 L1646.0,626.55 M1072.30,625.8499999999999 L1072.30,646.8499999999999 M1083.52,625.8499999999999 L1083.52,638.55 M1094.75,625.8499999999999 L1094.75,638.55 M1105.97,625.8499999999999 L1105.97,638.55 M1117.20,625.8499999999999 L1117.20,638.55 M1128.42,625.8499999999999 L1128.42,638.55 M1139.64,625.8499999999999 L1139.64,638.55 M1150.87,625.8499999999999 L1150.87,638.55 M1162.09,625.8499999999999 L1162.09,638.55 M1173.32,625.8499999999999 L1173.32,638.55 M1184.54,625.8499999999999 L1184.54,646.8499999999999 M1195.76,625.8499999999999 L1195.76,638.55 M1206.99,625.8499999999999 L1206.99,638.55 M1218.21,625.8499999999999 L1218.21,638.55 M1229.44,625.8499999999999 L1229.44,638.55 M1240.66,625.8499999999999 L1240.66,638.55 M1251.88,625.8499999999999 L1251.88,638.55 M1263.11,625.8499999999999 L1263.11,638.55 M1274.33,625.8499999999999 L1274.33,638.55 M1285.56,625.8499999999999 L1285.56,638.55 M1296.78,625.8499999999999 L1296.78,646.8499999999999 M1308.00,625.8499999999999 L1308.00,638.55 M1319.23,625.8499999999999 L1319.23,638.55 M1330.45,625.8499999999999 L1330.45,638.55 M1341.68,625.8499999999999 L1341.68,638.55 M1352.90,625.8499999999999 L1352.90,638.55 M1364.12,625.8499999999999 L1364.12,638.55 M1375.35,625.8499999999999 L1375.35,638.55 M1386.57,625.8499999999999 L1386.57,638.55 M1397.80,625.8499999999999 L1397.80,638.55 M1409.02,625.8499999999999 L1409.02,646.8499999999999 M1420.24,625.8499999999999 L1420.24,638.55 M1431.47,625.8499999999999 L1431.47,638.55 M1442.69,625.8499999999999 L1442.69,638.55 M1453.92,625.8499999999999 L1453.92,638.55 M1465.14,625.8499999999999 L1465.14,638.55 M1476.36,625.8499999999999 L1476.36,638.55 M1487.59,625.8499999999999 L1487.59,638.55 M1498.81,625.8499999999999 L1498.81,638.55 M1510.04,625.8499999999999 L1510.04,638.55 M1521.26,625.8499999999999 L1521.26,646.8499999999999 M1532.48,625.8499999999999 L1532.48,638.55 M1543.71,625.8499999999999 L1543.71,638.55 M1554.93,625.8499999999999 L1554.93,638.55 M1566.16,625.8499999999999 L1566.16,638.55 M1577.38,625.8499999999999 L1577.38,638.55 M1588.60,625.8499999999999 L1588.60,638.55 M1599.83,625.8499999999999 L1599.83,638.55 M1611.05,625.8499999999999 L1611.05,638.55 M1622.28,625.8499999999999 L1622.28,638.55 M1633.50,625.8499999999999 L1633.50,646.8499999999999 M1644.72,625.8499999999999 L1644.72,638.55" fill="none" stroke="#000" stroke-width="1.6"/>
<text x="210.70" y="667.30" font-size="20.3" fill="#000" stroke="#000" stroke-width="0.3" text-anchor="middle">10</text>
<text x="323.08" y="667.30" font-size="20.3" fill="#000" stroke="#000" stroke-width="0.3" text-anchor="middle">20</text>
<text x="435.46" y="667.30" font-size="20.3" fill="#000" stroke="#000" stroke-width="0.3" text-anchor="middle">30</text>
<text x="547.84" y="667.30" font-size="20.3" fill="#000" stroke="#000" stroke-width="0.3" text-anchor="middle">40</text>
<text x="660.22" y="667.30" font-size="20.3" fill="#000" stroke="#000" stroke-width="0.3" text-anchor="middle">50</text>
<text x="772.60" y="667.30" font-size="20.3" fill="#000" stroke="#000" stroke-width="0.3" text-anchor="middle">60</text>
<text x="1073.40" y="667.30" font-size="20.3" fill="#000" stroke="#000" stroke-width="0.3" text-anchor="middle">10</text>
<text x="1185.64" y="667.30" font-size="20.3" fill="#000" stroke="#000" stroke-width="0.3" text-anchor="middle">20</text>
<text x="1297.88" y="667.30" font-size="20.3" fill="#000" stroke="#000" stroke-width="0.3" text-anchor="middle">30</text>
<text x="1410.12" y="667.30" font-size="20.3" fill="#000" stroke="#000" stroke-width="0.3" text-anchor="middle">40</text>
<text x="1522.36" y="667.30" font-size="20.3" fill="#000" stroke="#000" stroke-width="0.3" text-anchor="middle">50</text>
<text x="1634.60" y="667.30" font-size="20.3" fill="#000" stroke="#000" stroke-width="0.3" text-anchor="middle">60</text>
<text x="479.53" y="697.20" font-size="29" fill="#231f20" stroke="#231f20" stroke-width="0.3" textLength="32.61" lengthAdjust="spacingAndGlyphs">2ө</text>
<text x="1337.50" y="697.20" font-size="29" fill="#231f20" stroke="#231f20" stroke-width="0.3" textLength="33.26" lengthAdjust="spacingAndGlyphs">2ө</text>
<text transform="translate(19.7,434.13) rotate(-90)" font-size="27" fill="#231f20" stroke="#231f20" stroke-width="0.2" textLength="167.17" lengthAdjust="spacingAndGlyphs">Intensity (a.u.)</text>
<text transform="translate(889.3,434.13) rotate(-90)" font-size="27" fill="#231f20" stroke="#231f20" stroke-width="0.2" textLength="167.17" lengthAdjust="spacingAndGlyphs">Intensity (a.u.)</text>
<text x="0.74" y="18.50" font-size="27" fill="#231f20" stroke="#231f20" stroke-width="0" font-weight="bold" textLength="19.05" lengthAdjust="spacingAndGlyphs">A</text>
<text x="867.56" y="18.50" font-size="27" fill="#231f20" stroke="#231f20" stroke-width="0" font-weight="bold" textLength="18.83" lengthAdjust="spacingAndGlyphs">B</text>
<text x="1.15" y="56.90" font-size="25.5" fill="#231f20" stroke="#231f20" stroke-width="0.3" textLength="88.75" lengthAdjust="spacingAndGlyphs">Modern</text>
<text x="2.05" y="87.70" font-size="25.5" fill="#231f20" stroke="#231f20" stroke-width="0.3" textLength="177.91" lengthAdjust="spacingAndGlyphs">Atlantic Salmon</text>
<text x="2.39" y="118.30" font-size="25.5" fill="#231f20" stroke="#231f20" stroke-width="0.3" textLength="95.71" lengthAdjust="spacingAndGlyphs">Vertebra</text>
<text fill="#231f20" stroke="#231f20" stroke-width="0.3" font-size="25.5"><tspan x="1.06" y="149.50" font-size="25.5" textLength="43.97" lengthAdjust="spacingAndGlyphs">600</tspan><tspan> </tspan><tspan x="51.25" y="137.90" font-size="14.5" textLength="9.19" lengthAdjust="spacingAndGlyphs">0</tspan><tspan x="60.06" y="149.50" font-size="25.5" textLength="19.04" lengthAdjust="spacingAndGlyphs">C</tspan></text>
<text x="865.75" y="56.90" font-size="25.5" fill="#231f20" stroke="#231f20" stroke-width="0.3" textLength="88.75" lengthAdjust="spacingAndGlyphs">Modern</text>
<text x="866.65" y="87.70" font-size="25.5" fill="#231f20" stroke="#231f20" stroke-width="0.3" textLength="177.91" lengthAdjust="spacingAndGlyphs">Atlantic Salmon</text>
<text x="866.99" y="118.30" font-size="25.5" fill="#231f20" stroke="#231f20" stroke-width="0.3" textLength="95.71" lengthAdjust="spacingAndGlyphs">Vertebra</text>
<text fill="#231f20" stroke="#231f20" stroke-width="0.3" font-size="25.5"><tspan x="865.86" y="149.50" font-size="25.5" textLength="43.76" lengthAdjust="spacingAndGlyphs">800</tspan><tspan> </tspan><tspan x="915.85" y="137.90" font-size="14.5" textLength="9.19" lengthAdjust="spacingAndGlyphs">0</tspan><tspan x="924.66" y="149.50" font-size="25.5" textLength="19.04" lengthAdjust="spacingAndGlyphs">C</tspan></text>
<text x="50.19" y="243.20" font-size="20" fill="#231f20" stroke="#231f20" stroke-width="0.3" textLength="120.05" lengthAdjust="spacingAndGlyphs">Starting Point</text>
<text x="50.07" y="266.80" font-size="19" fill="#000" stroke="#000" stroke-width="0.3" textLength="84.77" lengthAdjust="spacingAndGlyphs">75% HAp</text>
<text x="49.48" y="290.80" font-size="19" fill="#000" stroke="#000" stroke-width="0.3" textLength="178.65" lengthAdjust="spacingAndGlyphs">HAp C. Index = 0.35</text>
<text x="50.11" y="314.50" font-size="19" fill="#ca161e" stroke="#ca161e" stroke-width="0.3" textLength="123.13" lengthAdjust="spacingAndGlyphs">25% βMgTCP</text>
<text fill="#231f20" stroke="#231f20" stroke-width="0.3" font-size="20"><tspan x="49.45" y="538.10" font-size="20" textLength="93.44" lengthAdjust="spacingAndGlyphs">4 x 50 μl H</tspan><tspan x="142.14" y="542.10" font-size="11.5" textLength="7.34" lengthAdjust="spacingAndGlyphs">2</tspan><tspan x="149.76" y="538.10" font-size="20" textLength="16.88" lengthAdjust="spacingAndGlyphs">O</tspan></text>
<text x="49.13" y="562.00" font-size="19" fill="#000" stroke="#000" stroke-width="0.3" textLength="84.61" lengthAdjust="spacingAndGlyphs">89% HAp</text>
<text x="48.90" y="585.80" font-size="19" fill="#000" stroke="#000" stroke-width="0.3" textLength="175.85" lengthAdjust="spacingAndGlyphs">HAp C. Index = 0.41</text>
<text x="50.01" y="609.90" font-size="19" fill="#ca161e" stroke="#ca161e" stroke-width="0.3" textLength="122.33" lengthAdjust="spacingAndGlyphs">11% βMgTCP</text>
<text x="924.29" y="244.50" font-size="20" fill="#231f20" stroke="#231f20" stroke-width="0.3" textLength="119.95" lengthAdjust="spacingAndGlyphs">Starting Point</text>
<text x="924.74" y="268.80" font-size="19" fill="#000" stroke="#000" stroke-width="0.3" textLength="84.60" lengthAdjust="spacingAndGlyphs">45% HAp</text>
<text x="923.58" y="292.50" font-size="19" fill="#000" stroke="#000" stroke-width="0.3" textLength="178.92" lengthAdjust="spacingAndGlyphs">HAp C. Index = 1.07</text>
<text x="924.40" y="316.10" font-size="19" fill="#ca161e" stroke="#ca161e" stroke-width="0.3" textLength="124.35" lengthAdjust="spacingAndGlyphs">55% βMgTCP</text>
<text fill="#231f20" stroke="#231f20" stroke-width="0.3" font-size="20"><tspan x="922.05" y="541.00" font-size="20" textLength="93.76" lengthAdjust="spacingAndGlyphs">4 x 50 μl H</tspan><tspan x="1015.06" y="545.00" font-size="11.5" textLength="7.37" lengthAdjust="spacingAndGlyphs">2</tspan><tspan x="1022.71" y="541.00" font-size="20" textLength="16.93" lengthAdjust="spacingAndGlyphs">O</tspan></text>
<text x="921.70" y="564.70" font-size="19" fill="#000" stroke="#000" stroke-width="0.3" textLength="90.45" lengthAdjust="spacingAndGlyphs">50%  HAp</text>
<text x="920.88" y="588.70" font-size="19" fill="#000" stroke="#000" stroke-width="0.3" textLength="178.69" lengthAdjust="spacingAndGlyphs">HAp C. Index = 1.26</text>
<text x="921.70" y="612.10" font-size="19" fill="#ca161e" stroke="#ca161e" stroke-width="0.3" textLength="124.86" lengthAdjust="spacingAndGlyphs">50% βMgTCP</text>
<text fill="#000" stroke="#000" stroke-width="0.3" font-size="20.8"><tspan x="451.68" y="55.20" font-size="20.8" textLength="153.59" lengthAdjust="spacingAndGlyphs">HAp 2 1 1 ; 31.46</tspan><tspan x="606.38" y="47.20" font-size="11" textLength="6.05" lengthAdjust="spacingAndGlyphs">0</tspan></text>
<text fill="#000" stroke="#000" stroke-width="0.3" font-size="20.8"><tspan x="478.77" y="117.10" font-size="20.8" textLength="154.49" lengthAdjust="spacingAndGlyphs">HAp 3 0 0 ; 32.78</tspan><tspan x="633.68" y="109.10" font-size="11" textLength="6.05" lengthAdjust="spacingAndGlyphs">0</tspan></text>
<text fill="#000" stroke="#000" stroke-width="0.3" font-size="20.8"><tspan x="502.27" y="170.30" font-size="20.8" textLength="154.40" lengthAdjust="spacingAndGlyphs">HAp 2 0 2 ; 34.03</tspan><tspan x="657.78" y="162.30" font-size="11" textLength="6.05" lengthAdjust="spacingAndGlyphs">0</tspan></text>
<text fill="#ca161e" stroke="#ca161e" stroke-width="0.3" font-size="21.5"><tspan x="504.36" y="225.50" font-size="21.5" textLength="152.41" lengthAdjust="spacingAndGlyphs">TCP 2 2 0 ; 34.37</tspan><tspan x="657.78" y="217.10" font-size="11" textLength="6.05" lengthAdjust="spacingAndGlyphs">0</tspan></text>
<text fill="#ca161e" stroke="#ca161e" stroke-width="0.3" font-size="21.5"><tspan x="283.05" y="169.80" font-size="21.5" textLength="156.63" lengthAdjust="spacingAndGlyphs">TCP 2 1 7 ; 31.20</tspan><tspan x="439.68" y="161.40" font-size="11" textLength="6.05" lengthAdjust="spacingAndGlyphs">0</tspan></text>
<text fill="#ca161e" stroke="#ca161e" stroke-width="0.3" font-size="21.5"><tspan x="241.76" y="208.80" font-size="21.5" textLength="154.90" lengthAdjust="spacingAndGlyphs">TCP 2 1 4 ; 27.78</tspan><tspan x="397.78" y="200.40" font-size="11" textLength="6.05" lengthAdjust="spacingAndGlyphs">0</tspan></text>
<text fill="#ca161e" stroke="#ca161e" stroke-width="0.3" font-size="21.5"><tspan x="216.53" y="264.40" font-size="21.5" textLength="162.71" lengthAdjust="spacingAndGlyphs">TCP 0 1 4 ; 13.62</tspan><tspan x="379.38" y="256.00" font-size="11" textLength="6.05" lengthAdjust="spacingAndGlyphs">0</tspan></text>
<text fill="#000" stroke="#000" stroke-width="0.3" font-size="20.8"><tspan x="463.38" y="392.50" font-size="20.8" textLength="154.10" lengthAdjust="spacingAndGlyphs">HAp 1 1 2 ; 32.04</tspan><tspan x="618.58" y="384.50" font-size="11" textLength="6.05" lengthAdjust="spacingAndGlyphs">0</tspan></text>
<text fill="#ca161e" stroke="#ca161e" stroke-width="0.3" font-size="21.5"><tspan x="1124.96" y="55.40" font-size="21.5" textLength="153.80" lengthAdjust="spacingAndGlyphs">TCP 2 1 7 ; 31.21</tspan><tspan x="1280.78" y="47.00" font-size="11" textLength="6.05" lengthAdjust="spacingAndGlyphs">0</tspan></text>
<text fill="#ca161e" stroke="#ca161e" stroke-width="0.3" font-size="21.5"><tspan x="1137.25" y="163.00" font-size="21.5" textLength="155.33" lengthAdjust="spacingAndGlyphs">TCP 2 1 4 ; 28.64</tspan><tspan x="1293.28" y="154.60" font-size="11" textLength="6.05" lengthAdjust="spacingAndGlyphs">0</tspan></text>
<text fill="#ca161e" stroke="#ca161e" stroke-width="0.3" font-size="21.5"><tspan x="1080.64" y="255.50" font-size="21.5" textLength="162.07" lengthAdjust="spacingAndGlyphs">TCP 0 1 4 ; 13.63</tspan><tspan x="1243.28" y="247.10" font-size="11" textLength="6.05" lengthAdjust="spacingAndGlyphs">0</tspan></text>
<text fill="#000" stroke="#000" stroke-width="0.3" font-size="20.8"><tspan x="1317.87" y="55.00" font-size="20.8" textLength="154.40" lengthAdjust="spacingAndGlyphs">HAp 2 1 1 ; 31.46</tspan><tspan x="1473.78" y="47.00" font-size="11" textLength="6.05" lengthAdjust="spacingAndGlyphs">0</tspan></text>
<text fill="#000" stroke="#000" stroke-width="0.3" font-size="20.8"><tspan x="1324.97" y="76.90" font-size="20.8" textLength="154.93" lengthAdjust="spacingAndGlyphs">HAp 1 1 2 ; 32.22</tspan><tspan x="1480.18" y="68.90" font-size="11" textLength="6.05" lengthAdjust="spacingAndGlyphs">0</tspan></text>
<text fill="#000" stroke="#000" stroke-width="0.3" font-size="20.8"><tspan x="1339.77" y="96.90" font-size="20.8" textLength="154.46" lengthAdjust="spacingAndGlyphs">HAp 3 0 0 ; 32.75</tspan><tspan x="1495.28" y="88.90" font-size="11" textLength="6.05" lengthAdjust="spacingAndGlyphs">0</tspan></text>
<text fill="#ca161e" stroke="#ca161e" stroke-width="0.3" font-size="21.5"><tspan x="1363.96" y="117.60" font-size="21.5" textLength="154.03" lengthAdjust="spacingAndGlyphs">TCP 2 2 0 ; 34.47</tspan><tspan x="1519.98" y="109.20" font-size="11" textLength="6.05" lengthAdjust="spacingAndGlyphs">0</tspan></text>
<text fill="#000" stroke="#000" stroke-width="0.3" font-size="20.8"><tspan x="1362.97" y="178.60" font-size="20.8" textLength="154.43" lengthAdjust="spacingAndGlyphs">HAp 2 0 2 ; 33.97</tspan><tspan x="1518.48" y="170.60" font-size="11" textLength="6.05" lengthAdjust="spacingAndGlyphs">0</tspan></text>
<path d="M467.8,58.7 L458.5,70.6 M499.6,123.3 L469.9,145.2 M520.7,174.5 L480.9,253.1 M503.9,221.5 L485.6,253.1 M421.6,170.9 L447.0,207.9 M393.0,214.4 L410.5,276.3 M269.3,266.6 L250.5,304.4 M1244.0,60.2 L1310.7,107.8 M1257.5,168.3 L1274.1,228.6 M1133.2,258.5 L1115.1,295.2 M1328.7,57.7 L1317.5,83.9 M1360.6,103.5 L1332.0,145.2 M1378.9,120.1 L1351.3,145.9 M1384.7,185.5 L1345.5,267.3" fill="none" stroke="#000" stroke-width="1.0"/>
<path d="M1329.8,80.3 L1324.3,190.3" fill="none" stroke="#222" stroke-width="0.75"/>
</svg>
</body></html>
